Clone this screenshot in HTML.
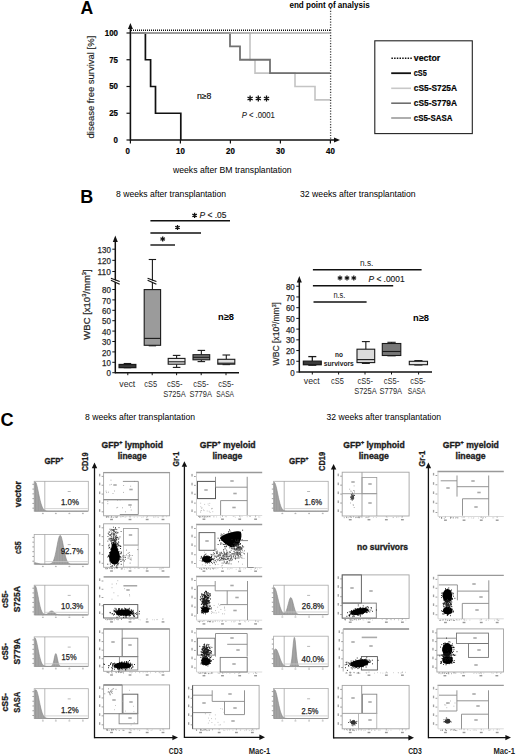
<!DOCTYPE html>
<html><head><meta charset="utf-8"><title>Figure</title>
<style>html,body{margin:0;padding:0;background:#fff;}body{width:520px;height:755px;overflow:hidden;font-family:"Liberation Sans", sans-serif;}svg{display:block;}</style>
</head><body>
<svg width="520" height="755" viewBox="0 0 520 755" font-family='"Liberation Sans", sans-serif'><defs><filter id="bl" x="-20%" y="-20%" width="140%" height="140%"><feGaussianBlur stdDeviation="0.5"/></filter><filter id="bl2" x="-20%" y="-20%" width="140%" height="140%"><feGaussianBlur stdDeviation="0.8"/></filter></defs><text x="80.6" y="13.8" font-size="17.6" font-weight="bold">A</text>
<text x="289.4" y="8" font-size="8.2" font-weight="bold" textLength="80.3" lengthAdjust="spacingAndGlyphs">end point of analysis</text>
<line x1="130.4" y1="27" x2="130.4" y2="140.7" stroke="#111" stroke-width="1.6"/>
<polygon points="130.4,23 127.9,29 132.9,29" fill="#111"/>
<line x1="130.4" y1="140" x2="334" y2="140" stroke="#111" stroke-width="1.6"/>
<polygon points="340,140 334,137.5 334,142.5" fill="#111"/>
<line x1="126.5" y1="140" x2="130.4" y2="140" stroke="#111" stroke-width="1.2"/>
<text x="118" y="142.9" font-size="8.2" stroke="#111" stroke-width="0.2" font-weight="bold" text-anchor="end" textLength="4.4" lengthAdjust="spacingAndGlyphs">0</text>
<line x1="126.5" y1="113.25" x2="130.4" y2="113.25" stroke="#111" stroke-width="1.2"/>
<text x="118" y="116.15" font-size="8.2" stroke="#111" stroke-width="0.2" font-weight="bold" text-anchor="end" textLength="8.8" lengthAdjust="spacingAndGlyphs">25</text>
<line x1="126.5" y1="86.5" x2="130.4" y2="86.5" stroke="#111" stroke-width="1.2"/>
<text x="118" y="89.4" font-size="8.2" stroke="#111" stroke-width="0.2" font-weight="bold" text-anchor="end" textLength="8.8" lengthAdjust="spacingAndGlyphs">50</text>
<line x1="126.5" y1="59.75" x2="130.4" y2="59.75" stroke="#111" stroke-width="1.2"/>
<text x="118" y="62.65" font-size="8.2" stroke="#111" stroke-width="0.2" font-weight="bold" text-anchor="end" textLength="8.8" lengthAdjust="spacingAndGlyphs">75</text>
<line x1="126.5" y1="33" x2="130.4" y2="33" stroke="#111" stroke-width="1.2"/>
<text x="118" y="35.9" font-size="8.2" stroke="#111" stroke-width="0.2" font-weight="bold" text-anchor="end" textLength="13.2" lengthAdjust="spacingAndGlyphs">100</text>
<line x1="130.4" y1="140" x2="130.4" y2="143.5" stroke="#111" stroke-width="1.2"/>
<text x="127.8" y="154" font-size="8.2" stroke="#111" stroke-width="0.2" font-weight="bold" text-anchor="middle" textLength="4.4" lengthAdjust="spacingAndGlyphs">0</text>
<line x1="180.4" y1="140" x2="180.4" y2="143.5" stroke="#111" stroke-width="1.2"/>
<text x="180.4" y="154" font-size="8.2" stroke="#111" stroke-width="0.2" font-weight="bold" text-anchor="middle" textLength="8.8" lengthAdjust="spacingAndGlyphs">10</text>
<line x1="230.4" y1="140" x2="230.4" y2="143.5" stroke="#111" stroke-width="1.2"/>
<text x="230.4" y="154" font-size="8.2" stroke="#111" stroke-width="0.2" font-weight="bold" text-anchor="middle" textLength="8.8" lengthAdjust="spacingAndGlyphs">20</text>
<line x1="280.4" y1="140" x2="280.4" y2="143.5" stroke="#111" stroke-width="1.2"/>
<text x="280.4" y="154" font-size="8.2" stroke="#111" stroke-width="0.2" font-weight="bold" text-anchor="middle" textLength="8.8" lengthAdjust="spacingAndGlyphs">30</text>
<line x1="330.4" y1="140" x2="330.4" y2="143.5" stroke="#111" stroke-width="1.2"/>
<text x="330.4" y="154" font-size="8.2" stroke="#111" stroke-width="0.2" font-weight="bold" text-anchor="middle" textLength="8.8" lengthAdjust="spacingAndGlyphs">40</text>
<text x="232.3" y="172.5" font-size="9" text-anchor="middle" textLength="118.6" lengthAdjust="spacingAndGlyphs">weeks after BM transplantation</text>
<text x="0" y="0" font-size="9.4" stroke="#1a1a1a" stroke-width="0.15" text-anchor="middle" textLength="102.8" lengthAdjust="spacingAndGlyphs" fill="#1a1a1a" transform="translate(93.8 87.1) rotate(-90)">disease free survival [%]</text>
<polyline points="131,33 250,33 250,59.75 255,59.75 255,73.12 295,73.12 295,86.5 315,86.5 315,99.88 330,99.88" fill="none" stroke="#c4c4c4" stroke-width="1.6"/>
<polyline points="131,33 230,33 230,46.38 240,46.38 240,59.75 270,59.75 270,73.12 330,73.12" fill="none" stroke="#727272" stroke-width="1.8"/>
<polyline points="131,33 145.4,33 145.4,59.75 150.6,59.75 150.6,86.5 155.5,86.5 155.5,113.25 180.8,113.25 180.8,140" fill="none" stroke="#111" stroke-width="1.7"/>
<line x1="131" y1="33" x2="330" y2="33" stroke="#aaaaaa" stroke-width="1.7"/>
<line x1="131" y1="30.3" x2="330" y2="30.3" stroke="#111" stroke-width="1.5" stroke-dasharray="1 1"/>
<line x1="330.6" y1="8" x2="330.6" y2="140" stroke="#444" stroke-width="1.3" stroke-dasharray="1.2 1.5"/>
<text x="204.2" y="99" font-size="8.4" stroke="#111" stroke-width="0.15" text-anchor="middle" textLength="14.4" lengthAdjust="spacingAndGlyphs">n&#8805;8</text>
<path d="M250.1 95.5L250.1 101.5M247.5 97L252.7 100M247.5 100L252.7 97" stroke="#111" stroke-width="1.35" fill="none"/>
<path d="M258.3 95.5L258.3 101.5M255.7 97L260.9 100M255.7 100L260.9 97" stroke="#111" stroke-width="1.35" fill="none"/>
<path d="M266.5 95.5L266.5 101.5M263.9 97L269.1 100M263.9 100L269.1 97" stroke="#111" stroke-width="1.35" fill="none"/>
<text x="241.7" y="118.2" font-size="8.5" stroke="#1a1a1a" stroke-width="0.1" textLength="33.2" lengthAdjust="spacingAndGlyphs" fill="#1a1a1a"><tspan font-style="italic">P</tspan> &lt; .0001</text>
<rect x="374.8" y="40.8" width="97.5" height="92.8" fill="none" stroke="#222" stroke-width="1.1"/>
<path d="M391.4 57.5h1.5v1.6h-1.5zM394.1 57.5h1.5v1.6h-1.5zM396.8 57.5h1.5v1.6h-1.5zM399.5 57.5h1.5v1.6h-1.5zM402.2 57.5h1.5v1.6h-1.5zM404.9 57.5h1.5v1.6h-1.5zM407.6 57.5h1.5v1.6h-1.5zM410.3 57.5h1.5v1.6h-1.5z" fill="#111"/>
<text x="413.8" y="60.9" font-size="9.2" stroke="#111" stroke-width="0.2" font-weight="bold" textLength="26.4" lengthAdjust="spacingAndGlyphs">vector</text>
<line x1="391.2" y1="73.2" x2="411" y2="73.2" stroke="#111" stroke-width="1.8"/>
<text x="413.8" y="75.8" font-size="9.2" stroke="#111" stroke-width="0.2" font-weight="bold" textLength="13" lengthAdjust="spacingAndGlyphs">cS5</text>
<line x1="391.2" y1="88.3" x2="411" y2="88.3" stroke="#c8c8c8" stroke-width="1.6"/>
<text x="413.8" y="90.9" font-size="9.2" stroke="#111" stroke-width="0.2" font-weight="bold" textLength="43.2" lengthAdjust="spacingAndGlyphs">cS5-S725A</text>
<line x1="391.2" y1="103.2" x2="411" y2="103.2" stroke="#6e6e6e" stroke-width="1.6"/>
<text x="413.8" y="105.8" font-size="9.2" stroke="#111" stroke-width="0.2" font-weight="bold" textLength="43.2" lengthAdjust="spacingAndGlyphs">cS5-S779A</text>
<line x1="391.2" y1="118" x2="411" y2="118" stroke="#9a9a9a" stroke-width="1.6"/>
<text x="413.8" y="120.6" font-size="9.2" stroke="#111" stroke-width="0.2" font-weight="bold" textLength="38.6" lengthAdjust="spacingAndGlyphs">cS5-SASA</text>
<text x="80.2" y="203" font-size="18" font-weight="bold">B</text>
<text x="116" y="197.2" font-size="8.6" textLength="110" lengthAdjust="spacingAndGlyphs">8 weeks after transplantation</text>
<text x="300" y="197.2" font-size="8.6" textLength="115.7" lengthAdjust="spacingAndGlyphs">32 weeks after transplantation</text>
<line x1="115.3" y1="240" x2="115.3" y2="373.4" stroke="#111" stroke-width="1.5"/>
<polygon points="115.3,235.5 112.8,242 117.8,242" fill="#111"/>
<line x1="115.3" y1="372.7" x2="239" y2="372.7" stroke="#111" stroke-width="1.5"/>
<line x1="112.3" y1="372.7" x2="115.3" y2="372.7" stroke="#111" stroke-width="1"/>
<text x="110.9" y="376.3" font-size="8.8" stroke="#2a2a2a" stroke-width="0.25" text-anchor="end" textLength="4.45" lengthAdjust="spacingAndGlyphs" fill="#2a2a2a">0</text>
<line x1="112.3" y1="362.3" x2="115.3" y2="362.3" stroke="#111" stroke-width="1"/>
<text x="110.9" y="365.9" font-size="8.8" stroke="#2a2a2a" stroke-width="0.25" text-anchor="end" textLength="8.9" lengthAdjust="spacingAndGlyphs" fill="#2a2a2a">10</text>
<line x1="112.3" y1="351.9" x2="115.3" y2="351.9" stroke="#111" stroke-width="1"/>
<text x="110.9" y="355.5" font-size="8.8" stroke="#2a2a2a" stroke-width="0.25" text-anchor="end" textLength="8.9" lengthAdjust="spacingAndGlyphs" fill="#2a2a2a">20</text>
<line x1="112.3" y1="341.5" x2="115.3" y2="341.5" stroke="#111" stroke-width="1"/>
<text x="110.9" y="345.1" font-size="8.8" stroke="#2a2a2a" stroke-width="0.25" text-anchor="end" textLength="8.9" lengthAdjust="spacingAndGlyphs" fill="#2a2a2a">30</text>
<line x1="112.3" y1="331.1" x2="115.3" y2="331.1" stroke="#111" stroke-width="1"/>
<text x="110.9" y="334.7" font-size="8.8" stroke="#2a2a2a" stroke-width="0.25" text-anchor="end" textLength="8.9" lengthAdjust="spacingAndGlyphs" fill="#2a2a2a">40</text>
<line x1="112.3" y1="320.7" x2="115.3" y2="320.7" stroke="#111" stroke-width="1"/>
<text x="110.9" y="324.3" font-size="8.8" stroke="#2a2a2a" stroke-width="0.25" text-anchor="end" textLength="8.9" lengthAdjust="spacingAndGlyphs" fill="#2a2a2a">50</text>
<line x1="112.3" y1="310.3" x2="115.3" y2="310.3" stroke="#111" stroke-width="1"/>
<text x="110.9" y="313.9" font-size="8.8" stroke="#2a2a2a" stroke-width="0.25" text-anchor="end" textLength="8.9" lengthAdjust="spacingAndGlyphs" fill="#2a2a2a">60</text>
<line x1="112.3" y1="299.9" x2="115.3" y2="299.9" stroke="#111" stroke-width="1"/>
<text x="110.9" y="303.5" font-size="8.8" stroke="#2a2a2a" stroke-width="0.25" text-anchor="end" textLength="8.9" lengthAdjust="spacingAndGlyphs" fill="#2a2a2a">70</text>
<line x1="112.3" y1="289.5" x2="115.3" y2="289.5" stroke="#111" stroke-width="1"/>
<text x="110.9" y="293.1" font-size="8.8" stroke="#2a2a2a" stroke-width="0.25" text-anchor="end" textLength="8.9" lengthAdjust="spacingAndGlyphs" fill="#2a2a2a">80</text>
<line x1="112.3" y1="271.5" x2="115.3" y2="271.5" stroke="#111" stroke-width="1"/>
<text x="110.9" y="275.1" font-size="8.8" stroke="#2a2a2a" stroke-width="0.25" text-anchor="end" textLength="13.35" lengthAdjust="spacingAndGlyphs" fill="#2a2a2a">110</text>
<line x1="112.3" y1="260.35" x2="115.3" y2="260.35" stroke="#111" stroke-width="1"/>
<text x="110.9" y="263.95" font-size="8.8" stroke="#2a2a2a" stroke-width="0.25" text-anchor="end" textLength="13.35" lengthAdjust="spacingAndGlyphs" fill="#2a2a2a">120</text>
<line x1="112.3" y1="249.2" x2="115.3" y2="249.2" stroke="#111" stroke-width="1"/>
<text x="110.9" y="252.8" font-size="8.8" stroke="#2a2a2a" stroke-width="0.25" text-anchor="end" textLength="13.35" lengthAdjust="spacingAndGlyphs" fill="#2a2a2a">130</text>
<polygon points="111,278.8 119.6,281.9 119.6,283.8 111,279.8" fill="#fff"/>
<line x1="110.9" y1="278.3" x2="119.7" y2="281.5" stroke="#111" stroke-width="1.15"/>
<line x1="110.9" y1="280.3" x2="119.7" y2="284.3" stroke="#111" stroke-width="1.15"/>
<text x="0" y="0" font-size="9" stroke="#2a2a2a" stroke-width="0.25" text-anchor="middle" textLength="70.3" lengthAdjust="spacingAndGlyphs" fill="#2a2a2a" transform="translate(89.6 304.5) rotate(-90)">WBC [x10<tspan font-size="5.4" dy="-3.4">3</tspan><tspan dy="3.4">/mm</tspan><tspan font-size="5.4" dy="-3.4">3</tspan><tspan dy="3.4">]</tspan></text>
<line x1="127.8" y1="372.7" x2="127.8" y2="375.2" stroke="#111" stroke-width="1"/>
<line x1="152.2" y1="372.7" x2="152.2" y2="375.2" stroke="#111" stroke-width="1"/>
<line x1="176.6" y1="372.7" x2="176.6" y2="375.2" stroke="#111" stroke-width="1"/>
<line x1="201.2" y1="372.7" x2="201.2" y2="375.2" stroke="#111" stroke-width="1"/>
<line x1="226" y1="372.7" x2="226" y2="375.2" stroke="#111" stroke-width="1"/>
<line x1="127.45" y1="363.6" x2="127.45" y2="364.5" stroke="#1a1a1a" stroke-width="1.3"/>
<line x1="127.45" y1="367.6" x2="127.45" y2="367.6" stroke="#1a1a1a" stroke-width="1.3"/>
<line x1="123.69" y1="363.6" x2="131.21" y2="363.6" stroke="#1a1a1a" stroke-width="1.3"/>
<line x1="123.69" y1="367.6" x2="131.21" y2="367.6" stroke="#1a1a1a" stroke-width="1.3"/>
<rect x="119.1" y="364.5" width="16.7" height="3.1" fill="#777" stroke="#1a1a1a" stroke-width="1.3"/>
<line x1="119.1" y1="366" x2="135.8" y2="366" stroke="#1a1a1a" stroke-width="1.3"/>
<line x1="152.4" y1="259.5" x2="152.4" y2="289.6" stroke="#1a1a1a" stroke-width="1.1"/>
<line x1="152.4" y1="345.3" x2="152.4" y2="345.8" stroke="#1a1a1a" stroke-width="1.1"/>
<line x1="148.71" y1="259.5" x2="156.09" y2="259.5" stroke="#1a1a1a" stroke-width="1.1"/>
<line x1="148.71" y1="345.8" x2="156.09" y2="345.8" stroke="#1a1a1a" stroke-width="1.1"/>
<rect x="144.2" y="289.6" width="16.4" height="55.7" fill="#9b9b9b" stroke="#1a1a1a" stroke-width="1.1"/>
<line x1="144.2" y1="338.4" x2="160.6" y2="338.4" stroke="#1a1a1a" stroke-width="1.1"/>
<polygon points="147.7,278.8 156.3,281.9 156.3,283.8 147.7,279.8" fill="#fff"/>
<line x1="147.6" y1="278.3" x2="156.4" y2="281.5" stroke="#111" stroke-width="1.15"/>
<line x1="147.6" y1="280.3" x2="156.4" y2="284.3" stroke="#111" stroke-width="1.15"/>
<line x1="176.6" y1="355.4" x2="176.6" y2="358.4" stroke="#1a1a1a" stroke-width="1.1"/>
<line x1="176.6" y1="364.2" x2="176.6" y2="367.4" stroke="#1a1a1a" stroke-width="1.1"/>
<line x1="172.82" y1="355.4" x2="180.38" y2="355.4" stroke="#1a1a1a" stroke-width="1.1"/>
<line x1="172.82" y1="367.4" x2="180.38" y2="367.4" stroke="#1a1a1a" stroke-width="1.1"/>
<rect x="168.2" y="358.4" width="16.8" height="5.8" fill="#e8e8e8" stroke="#1a1a1a" stroke-width="1.1"/>
<line x1="168.2" y1="361.8" x2="185" y2="361.8" stroke="#1a1a1a" stroke-width="1.1"/>
<line x1="201.35" y1="350.4" x2="201.35" y2="354.7" stroke="#1a1a1a" stroke-width="1.1"/>
<line x1="201.35" y1="359.8" x2="201.35" y2="361.6" stroke="#1a1a1a" stroke-width="1.1"/>
<line x1="197.59" y1="350.4" x2="205.11" y2="350.4" stroke="#1a1a1a" stroke-width="1.1"/>
<line x1="197.59" y1="361.6" x2="205.11" y2="361.6" stroke="#1a1a1a" stroke-width="1.1"/>
<rect x="193" y="354.7" width="16.7" height="5.1" fill="#7a7a7a" stroke="#1a1a1a" stroke-width="1.1"/>
<line x1="193" y1="357.3" x2="209.7" y2="357.3" stroke="#1a1a1a" stroke-width="1.1"/>
<line x1="226.3" y1="355" x2="226.3" y2="359.3" stroke="#1a1a1a" stroke-width="1.1"/>
<line x1="226.3" y1="364.2" x2="226.3" y2="364.6" stroke="#1a1a1a" stroke-width="1.1"/>
<line x1="222.48" y1="355" x2="230.12" y2="355" stroke="#1a1a1a" stroke-width="1.1"/>
<line x1="222.48" y1="364.6" x2="230.12" y2="364.6" stroke="#1a1a1a" stroke-width="1.1"/>
<rect x="217.8" y="359.3" width="17" height="4.9" fill="#e0e0e0" stroke="#1a1a1a" stroke-width="1.1"/>
<line x1="217.8" y1="363.2" x2="234.8" y2="363.2" stroke="#1a1a1a" stroke-width="1.1"/>
<text x="127.3" y="387.4" font-size="8.8" text-anchor="middle" textLength="16" lengthAdjust="spacingAndGlyphs" fill="#2a2a2a">vect</text>
<text x="150.7" y="387.4" font-size="8.8" text-anchor="middle" textLength="12.8" lengthAdjust="spacingAndGlyphs" fill="#2a2a2a">cS5</text>
<text x="174.7" y="387.4" font-size="8.8" text-anchor="middle" textLength="15.4" lengthAdjust="spacingAndGlyphs" fill="#2a2a2a">cS5-</text>
<text x="174.4" y="396.6" font-size="8.8" text-anchor="middle" textLength="22.5" lengthAdjust="spacingAndGlyphs" fill="#2a2a2a">S725A</text>
<text x="201" y="387.4" font-size="8.8" text-anchor="middle" textLength="15.4" lengthAdjust="spacingAndGlyphs" fill="#2a2a2a">cS5-</text>
<text x="200.7" y="396.6" font-size="8.8" text-anchor="middle" textLength="22.5" lengthAdjust="spacingAndGlyphs" fill="#2a2a2a">S779A</text>
<text x="226" y="387.4" font-size="8.8" text-anchor="middle" textLength="15.4" lengthAdjust="spacingAndGlyphs" fill="#2a2a2a">cS5-</text>
<text x="225.2" y="396.6" font-size="8.8" text-anchor="middle" textLength="17.7" lengthAdjust="spacingAndGlyphs" fill="#2a2a2a">SASA</text>
<text x="226" y="320" font-size="9.2" font-weight="bold" text-anchor="middle" textLength="16" lengthAdjust="spacingAndGlyphs">n&#8805;8</text>
<line x1="150.4" y1="220.8" x2="230" y2="220.8" stroke="#111" stroke-width="1.4"/>
<line x1="150.4" y1="233" x2="201" y2="233" stroke="#111" stroke-width="1.4"/>
<line x1="150.4" y1="245" x2="175" y2="245" stroke="#111" stroke-width="1.4"/>
<path d="M194.6 212.8L194.6 218M192.35 214.1L196.85 216.7M192.35 216.7L196.85 214.1" stroke="#111" stroke-width="1.3" fill="none"/>
<text x="199.6" y="218.2" font-size="8.5" stroke="#1a1a1a" stroke-width="0.15" textLength="26.9" lengthAdjust="spacingAndGlyphs" fill="#1a1a1a"><tspan font-style="italic">P</tspan> &lt; .05</text>
<path d="M177.5 224.9L177.5 230.1M175.25 226.2L179.75 228.8M175.25 228.8L179.75 226.2" stroke="#111" stroke-width="1.3" fill="none"/>
<path d="M162.7 236.4L162.7 241.6M160.45 237.7L164.95 240.3M160.45 240.3L164.95 237.7" stroke="#111" stroke-width="1.3" fill="none"/>
<line x1="299.3" y1="281" x2="299.3" y2="372.7" stroke="#111" stroke-width="1.5"/>
<polygon points="299.3,276 296.8,282.5 301.8,282.5" fill="#111"/>
<line x1="299.3" y1="372" x2="432" y2="372" stroke="#111" stroke-width="1.5"/>
<line x1="296.3" y1="372" x2="299.3" y2="372" stroke="#111" stroke-width="1"/>
<text x="294.8" y="375.6" font-size="8.8" stroke="#2a2a2a" stroke-width="0.25" text-anchor="end" textLength="4.45" lengthAdjust="spacingAndGlyphs" fill="#2a2a2a">0</text>
<line x1="296.3" y1="361.28" x2="299.3" y2="361.28" stroke="#111" stroke-width="1"/>
<text x="294.8" y="364.88" font-size="8.8" stroke="#2a2a2a" stroke-width="0.25" text-anchor="end" textLength="8.9" lengthAdjust="spacingAndGlyphs" fill="#2a2a2a">10</text>
<line x1="296.3" y1="350.56" x2="299.3" y2="350.56" stroke="#111" stroke-width="1"/>
<text x="294.8" y="354.16" font-size="8.8" stroke="#2a2a2a" stroke-width="0.25" text-anchor="end" textLength="8.9" lengthAdjust="spacingAndGlyphs" fill="#2a2a2a">20</text>
<line x1="296.3" y1="339.84" x2="299.3" y2="339.84" stroke="#111" stroke-width="1"/>
<text x="294.8" y="343.44" font-size="8.8" stroke="#2a2a2a" stroke-width="0.25" text-anchor="end" textLength="8.9" lengthAdjust="spacingAndGlyphs" fill="#2a2a2a">30</text>
<line x1="296.3" y1="329.12" x2="299.3" y2="329.12" stroke="#111" stroke-width="1"/>
<text x="294.8" y="332.72" font-size="8.8" stroke="#2a2a2a" stroke-width="0.25" text-anchor="end" textLength="8.9" lengthAdjust="spacingAndGlyphs" fill="#2a2a2a">40</text>
<line x1="296.3" y1="318.4" x2="299.3" y2="318.4" stroke="#111" stroke-width="1"/>
<text x="294.8" y="322" font-size="8.8" stroke="#2a2a2a" stroke-width="0.25" text-anchor="end" textLength="8.9" lengthAdjust="spacingAndGlyphs" fill="#2a2a2a">50</text>
<line x1="296.3" y1="307.68" x2="299.3" y2="307.68" stroke="#111" stroke-width="1"/>
<text x="294.8" y="311.28" font-size="8.8" stroke="#2a2a2a" stroke-width="0.25" text-anchor="end" textLength="8.9" lengthAdjust="spacingAndGlyphs" fill="#2a2a2a">60</text>
<line x1="296.3" y1="296.96" x2="299.3" y2="296.96" stroke="#111" stroke-width="1"/>
<text x="294.8" y="300.56" font-size="8.8" stroke="#2a2a2a" stroke-width="0.25" text-anchor="end" textLength="8.9" lengthAdjust="spacingAndGlyphs" fill="#2a2a2a">70</text>
<line x1="296.3" y1="286.24" x2="299.3" y2="286.24" stroke="#111" stroke-width="1"/>
<text x="294.8" y="289.84" font-size="8.8" stroke="#2a2a2a" stroke-width="0.25" text-anchor="end" textLength="8.9" lengthAdjust="spacingAndGlyphs" fill="#2a2a2a">80</text>
<text x="0" y="0" font-size="9.2" stroke="#2a2a2a" stroke-width="0.2" text-anchor="middle" textLength="63.4" lengthAdjust="spacingAndGlyphs" fill="#2a2a2a" transform="translate(279.2 333.7) rotate(-90)">WBC [x10<tspan font-size="5.6" dy="-3.5">3</tspan><tspan dy="3.5">/mm</tspan><tspan font-size="5.6" dy="-3.5">3</tspan><tspan dy="3.5">]</tspan></text>
<line x1="312.3" y1="372" x2="312.3" y2="374.5" stroke="#111" stroke-width="1"/>
<line x1="338.6" y1="372" x2="338.6" y2="374.5" stroke="#111" stroke-width="1"/>
<line x1="365" y1="372" x2="365" y2="374.5" stroke="#111" stroke-width="1"/>
<line x1="391.5" y1="372" x2="391.5" y2="374.5" stroke="#111" stroke-width="1"/>
<line x1="418.6" y1="372" x2="418.6" y2="374.5" stroke="#111" stroke-width="1"/>
<line x1="312.3" y1="356.6" x2="312.3" y2="361.2" stroke="#1a1a1a" stroke-width="1.3"/>
<line x1="312.3" y1="364.7" x2="312.3" y2="365.2" stroke="#1a1a1a" stroke-width="1.3"/>
<line x1="308.29" y1="356.6" x2="316.3" y2="356.6" stroke="#1a1a1a" stroke-width="1.3"/>
<line x1="308.29" y1="365.2" x2="316.3" y2="365.2" stroke="#1a1a1a" stroke-width="1.3"/>
<rect x="303.4" y="361.2" width="17.8" height="3.5" fill="#777" stroke="#1a1a1a" stroke-width="1.3"/>
<line x1="303.4" y1="363" x2="321.2" y2="363" stroke="#1a1a1a" stroke-width="1.3"/>
<line x1="365.85" y1="341.6" x2="365.85" y2="349.2" stroke="#1a1a1a" stroke-width="1.1"/>
<line x1="365.85" y1="362.6" x2="365.85" y2="363.4" stroke="#1a1a1a" stroke-width="1.1"/>
<line x1="361.87" y1="341.6" x2="369.83" y2="341.6" stroke="#1a1a1a" stroke-width="1.1"/>
<line x1="361.87" y1="363.4" x2="369.83" y2="363.4" stroke="#1a1a1a" stroke-width="1.1"/>
<rect x="357" y="349.2" width="17.7" height="13.4" fill="#dcdcdc" stroke="#1a1a1a" stroke-width="1.1"/>
<line x1="357" y1="359.6" x2="374.7" y2="359.6" stroke="#1a1a1a" stroke-width="1.1"/>
<line x1="391.55" y1="342.3" x2="391.55" y2="343.5" stroke="#1a1a1a" stroke-width="1.1"/>
<line x1="391.55" y1="355.5" x2="391.55" y2="355.8" stroke="#1a1a1a" stroke-width="1.1"/>
<line x1="387.39" y1="342.3" x2="395.71" y2="342.3" stroke="#1a1a1a" stroke-width="1.1"/>
<line x1="387.39" y1="355.8" x2="395.71" y2="355.8" stroke="#1a1a1a" stroke-width="1.1"/>
<rect x="382.3" y="343.5" width="18.5" height="12" fill="#777" stroke="#1a1a1a" stroke-width="1.1"/>
<line x1="382.3" y1="351.5" x2="400.8" y2="351.5" stroke="#1a1a1a" stroke-width="1.1"/>
<line x1="418.4" y1="360.6" x2="418.4" y2="361.3" stroke="#1a1a1a" stroke-width="1.1"/>
<line x1="418.4" y1="364.7" x2="418.4" y2="365" stroke="#1a1a1a" stroke-width="1.1"/>
<line x1="414.31" y1="360.6" x2="422.49" y2="360.6" stroke="#1a1a1a" stroke-width="1.1"/>
<line x1="414.31" y1="365" x2="422.49" y2="365" stroke="#1a1a1a" stroke-width="1.1"/>
<rect x="409.3" y="361.3" width="18.2" height="3.4" fill="#e4e4e4" stroke="#1a1a1a" stroke-width="1.1"/>
<text x="311.8" y="383.7" font-size="8.8" text-anchor="middle" textLength="16" lengthAdjust="spacingAndGlyphs" fill="#2a2a2a">vect</text>
<text x="337.5" y="383.7" font-size="8.8" text-anchor="middle" textLength="12.8" lengthAdjust="spacingAndGlyphs" fill="#2a2a2a">cS5</text>
<text x="365.3" y="383.7" font-size="8.8" text-anchor="middle" textLength="15.4" lengthAdjust="spacingAndGlyphs" fill="#2a2a2a">cS5-</text>
<text x="365.4" y="393.9" font-size="8.8" text-anchor="middle" textLength="22.5" lengthAdjust="spacingAndGlyphs" fill="#2a2a2a">S725A</text>
<text x="391.5" y="383.7" font-size="8.8" text-anchor="middle" textLength="15.4" lengthAdjust="spacingAndGlyphs" fill="#2a2a2a">cS5-</text>
<text x="390.8" y="393.9" font-size="8.8" text-anchor="middle" textLength="22.5" lengthAdjust="spacingAndGlyphs" fill="#2a2a2a">S779A</text>
<text x="417.9" y="383.7" font-size="8.8" text-anchor="middle" textLength="15.4" lengthAdjust="spacingAndGlyphs" fill="#2a2a2a">cS5-</text>
<text x="416.6" y="393.9" font-size="8.8" text-anchor="middle" textLength="17.7" lengthAdjust="spacingAndGlyphs" fill="#2a2a2a">SASA</text>
<text x="335" y="356.9" font-size="8" font-weight="bold" textLength="7.9" lengthAdjust="spacingAndGlyphs" fill="#222">no</text>
<text x="323.8" y="366.4" font-size="8" font-weight="bold" textLength="30" lengthAdjust="spacingAndGlyphs" fill="#222">survivors</text>
<text x="421" y="320.5" font-size="9.2" font-weight="bold" text-anchor="middle" textLength="16" lengthAdjust="spacingAndGlyphs">n&#8805;8</text>
<line x1="312.9" y1="269.7" x2="421.6" y2="269.7" stroke="#111" stroke-width="1.4"/>
<line x1="312.9" y1="285.8" x2="393.2" y2="285.8" stroke="#111" stroke-width="1.4"/>
<line x1="313.5" y1="302" x2="366.6" y2="302" stroke="#111" stroke-width="1.4"/>
<text x="360" y="265.7" font-size="8.3" textLength="13.4" lengthAdjust="spacingAndGlyphs" fill="#222">n.s.</text>
<text x="333.4" y="298.3" font-size="8.3" textLength="12" lengthAdjust="spacingAndGlyphs" fill="#222">n.s.</text>
<path d="M340 275.4L340 280.6M337.75 276.7L342.25 279.3M337.75 279.3L342.25 276.7" stroke="#111" stroke-width="1.2" fill="none"/>
<path d="M347 275.4L347 280.6M344.75 276.7L349.25 279.3M344.75 279.3L349.25 276.7" stroke="#111" stroke-width="1.2" fill="none"/>
<path d="M353.8 275.4L353.8 280.6M351.55 276.7L356.05 279.3M351.55 279.3L356.05 276.7" stroke="#111" stroke-width="1.2" fill="none"/>
<text x="368.5" y="281.8" font-size="8.8" stroke="#1a1a1a" stroke-width="0.15" textLength="36.1" lengthAdjust="spacingAndGlyphs" fill="#1a1a1a"><tspan font-style="italic">P</tspan> &lt; .0001</text>
<text x="0.6" y="426.3" font-size="18.2" font-weight="bold">C</text>
<text x="85" y="419.6" font-size="8.6" textLength="110" lengthAdjust="spacingAndGlyphs">8 weeks after transplantation</text>
<text x="326.5" y="419.6" font-size="8.6" textLength="114.5" lengthAdjust="spacingAndGlyphs">32 weeks after transplantation</text>
<text x="44.4" y="463.8" font-size="9.4" stroke="#1c1c1c" stroke-width="0.35" font-weight="bold" textLength="18.9" lengthAdjust="spacingAndGlyphs" fill="#1c1c1c">GFP<tspan font-size="5.83" dy="-3.6">+</tspan></text>
<text x="101.6" y="447.7" font-size="9.4" stroke="#1c1c1c" stroke-width="0.35" font-weight="bold" textLength="61.4" lengthAdjust="spacingAndGlyphs" fill="#1c1c1c">GFP<tspan font-size="5.83" dy="-3.6">+</tspan><tspan dy="3.6"> lymphoid</tspan></text>
<text x="132.2" y="458.7" font-size="9.4" stroke="#1c1c1c" stroke-width="0.35" font-weight="bold" text-anchor="middle" textLength="28.9" lengthAdjust="spacingAndGlyphs" fill="#1c1c1c">lineage</text>
<text x="199.8" y="447.7" font-size="9.4" stroke="#1c1c1c" stroke-width="0.35" font-weight="bold" textLength="55.8" lengthAdjust="spacingAndGlyphs" fill="#1c1c1c">GFP<tspan font-size="5.83" dy="-3.6">+</tspan><tspan dy="3.6"> myeloid</tspan></text>
<text x="227.4" y="458.7" font-size="9.4" stroke="#1c1c1c" stroke-width="0.35" font-weight="bold" text-anchor="middle" textLength="29.9" lengthAdjust="spacingAndGlyphs" fill="#1c1c1c">lineage</text>
<text x="289" y="463.8" font-size="9.4" stroke="#1c1c1c" stroke-width="0.35" font-weight="bold" textLength="19.4" lengthAdjust="spacingAndGlyphs" fill="#1c1c1c">GFP<tspan font-size="5.83" dy="-3.6">+</tspan></text>
<text x="343.3" y="447.7" font-size="9.4" stroke="#1c1c1c" stroke-width="0.35" font-weight="bold" textLength="61.4" lengthAdjust="spacingAndGlyphs" fill="#1c1c1c">GFP<tspan font-size="5.83" dy="-3.6">+</tspan><tspan dy="3.6"> lymphoid</tspan></text>
<text x="373.8" y="458.7" font-size="9.4" stroke="#1c1c1c" stroke-width="0.35" font-weight="bold" text-anchor="middle" textLength="30.3" lengthAdjust="spacingAndGlyphs" fill="#1c1c1c">lineage</text>
<text x="442.8" y="447.7" font-size="9.4" stroke="#1c1c1c" stroke-width="0.35" font-weight="bold" textLength="56.1" lengthAdjust="spacingAndGlyphs" fill="#1c1c1c">GFP<tspan font-size="5.83" dy="-3.6">+</tspan><tspan dy="3.6"> myeloid</tspan></text>
<text x="470.6" y="458.7" font-size="9.4" stroke="#1c1c1c" stroke-width="0.35" font-weight="bold" text-anchor="middle" textLength="30.2" lengthAdjust="spacingAndGlyphs" fill="#1c1c1c">lineage</text>
<text x="0" y="0" font-size="9" stroke="#1c1c1c" stroke-width="0.3" font-weight="bold" text-anchor="middle" textLength="18.7" lengthAdjust="spacingAndGlyphs" fill="#1c1c1c" transform="translate(88.1 461.9) rotate(-90)">CD19</text>
<text x="0" y="0" font-size="9" stroke="#1c1c1c" stroke-width="0.3" font-weight="bold" text-anchor="middle" textLength="14.7" lengthAdjust="spacingAndGlyphs" fill="#1c1c1c" transform="translate(179 459.2) rotate(-90)">Gr-1</text>
<text x="0" y="0" font-size="9" stroke="#1c1c1c" stroke-width="0.3" font-weight="bold" text-anchor="middle" textLength="19.1" lengthAdjust="spacingAndGlyphs" fill="#1c1c1c" transform="translate(325.4 461.4) rotate(-90)">CD19</text>
<text x="0" y="0" font-size="9" stroke="#1c1c1c" stroke-width="0.3" font-weight="bold" text-anchor="middle" textLength="16" lengthAdjust="spacingAndGlyphs" fill="#1c1c1c" transform="translate(424.8 458.7) rotate(-90)">Gr-1</text>
<text x="175.6" y="754.4" font-size="9" font-weight="bold" text-anchor="middle" textLength="13.7" lengthAdjust="spacingAndGlyphs" fill="#1c1c1c">CD3</text>
<text x="259.5" y="754.4" font-size="9" font-weight="bold" text-anchor="middle" textLength="21.5" lengthAdjust="spacingAndGlyphs" fill="#1c1c1c">Mac-1</text>
<text x="415" y="754.4" font-size="9" font-weight="bold" text-anchor="middle" textLength="13.7" lengthAdjust="spacingAndGlyphs" fill="#1c1c1c">CD3</text>
<text x="504.2" y="754.4" font-size="9" font-weight="bold" text-anchor="middle" textLength="21.5" lengthAdjust="spacingAndGlyphs" fill="#1c1c1c">Mac-1</text>
<line x1="94.5" y1="467.6" x2="94.5" y2="738.2" stroke="#111" stroke-width="1.3"/>
<polygon points="94.5,462.6 91.8,468.2 97.2,468.2" fill="#111"/>
<line x1="94.5" y1="737.6" x2="173" y2="737.6" stroke="#111" stroke-width="1.3"/>
<polygon points="178,737.6 172.4,734.9 172.4,740.3" fill="#111"/>
<line x1="184.4" y1="466.2" x2="184.4" y2="737.9" stroke="#111" stroke-width="1.3"/>
<polygon points="184.4,461.2 181.7,466.8 187.1,466.8" fill="#111"/>
<line x1="184.4" y1="737.3" x2="260" y2="737.3" stroke="#111" stroke-width="1.3"/>
<polygon points="265,737.3 259.4,734.6 259.4,740" fill="#111"/>
<line x1="333.6" y1="469" x2="333.6" y2="738.4" stroke="#111" stroke-width="1.3"/>
<polygon points="333.6,464 330.9,469.6 336.3,469.6" fill="#111"/>
<line x1="333.6" y1="737.8" x2="409" y2="737.8" stroke="#111" stroke-width="1.3"/>
<polygon points="414,737.8 408.4,735.1 408.4,740.5" fill="#111"/>
<line x1="428.4" y1="467.6" x2="428.4" y2="738.2" stroke="#111" stroke-width="1.3"/>
<polygon points="428.4,462.6 425.7,468.2 431.1,468.2" fill="#111"/>
<line x1="428.4" y1="737.6" x2="506" y2="737.6" stroke="#111" stroke-width="1.3"/>
<polygon points="511,737.6 505.4,734.9 505.4,740.3" fill="#111"/>
<text x="0" y="0" font-size="9.6" stroke="#1c1c1c" stroke-width="0.3" font-weight="bold" text-anchor="middle" textLength="26.2" lengthAdjust="spacingAndGlyphs" fill="#1c1c1c" transform="translate(20.7 494.1) rotate(-90)">vector</text>
<text x="0" y="0" font-size="9.6" stroke="#1c1c1c" stroke-width="0.3" font-weight="bold" text-anchor="middle" textLength="12.7" lengthAdjust="spacingAndGlyphs" fill="#1c1c1c" transform="translate(20.7 547.6) rotate(-90)">cS5</text>
<text x="0" y="0" font-size="9.6" stroke="#1c1c1c" stroke-width="0.3" font-weight="bold" text-anchor="middle" textLength="17.2" lengthAdjust="spacingAndGlyphs" fill="#1c1c1c" transform="translate(7.9 599.1) rotate(-90)">cS5-</text>
<text x="0" y="0" font-size="9.6" stroke="#1c1c1c" stroke-width="0.3" font-weight="bold" text-anchor="middle" textLength="26.2" lengthAdjust="spacingAndGlyphs" fill="#1c1c1c" transform="translate(20.2 599.1) rotate(-90)">S725A</text>
<text x="0" y="0" font-size="9.6" stroke="#1c1c1c" stroke-width="0.3" font-weight="bold" text-anchor="middle" textLength="16.7" lengthAdjust="spacingAndGlyphs" fill="#1c1c1c" transform="translate(7.9 651.5) rotate(-90)">cS5-</text>
<text x="0" y="0" font-size="9.6" stroke="#1c1c1c" stroke-width="0.3" font-weight="bold" text-anchor="middle" textLength="26.2" lengthAdjust="spacingAndGlyphs" fill="#1c1c1c" transform="translate(20.2 651.5) rotate(-90)">S779A</text>
<text x="0" y="0" font-size="9.6" stroke="#1c1c1c" stroke-width="0.3" font-weight="bold" text-anchor="middle" textLength="18.4" lengthAdjust="spacingAndGlyphs" fill="#1c1c1c" transform="translate(7.9 702.3) rotate(-90)">cS5-</text>
<text x="0" y="0" font-size="9.6" stroke="#1c1c1c" stroke-width="0.3" font-weight="bold" text-anchor="middle" textLength="20.8" lengthAdjust="spacingAndGlyphs" fill="#1c1c1c" transform="translate(20.2 702.3) rotate(-90)">SASA</text>
<rect x="34.2" y="481.3" width="54.1" height="29.9" fill="#fff" stroke="#a8a8a8" stroke-width="0.8"/>
<polygon points="34.7,511.2 34.7,482.3 35.19,482.3 35.68,482.3 36.18,483.06 36.67,484.66 37.16,486.58 37.65,488.75 38.14,491.06 38.63,493.44 39.12,495.8 39.62,498.06 40.11,500.18 40.6,502.11 41.09,503.83 41.58,505.32 42.08,506.59 42.57,507.64 43.06,508.5 43.55,509.18 44.04,509.72 44.53,510.13 45.03,510.44 45.52,510.67 46.01,510.84 46.5,510.96 46.99,511.04 47.48,511.09 47.98,511.13 48.47,511.16 48.96,511.17 49.45,511.18 49.94,511.19 50.43,511.19 50.92,511.2 51.42,511.2 51.91,511.2 52.4,511.2 52.89,511.2 53.38,511.2 53.88,511.2 54.37,511.2 54.86,511.2 55.35,511.2 55.84,511.2 56.33,511.2 56.83,511.2 57.32,511.2 57.81,511.2 58.3,511.2 58.79,511.2 59.28,511.2 59.78,511.2 60.27,511.2 60.76,511.2 61.25,511.2 61.74,511.2 62.23,511.2 62.73,511.2 63.22,511.2 63.71,511.2 64.2,511.2 64.69,511.2 65.18,511.2 65.67,511.2 66.17,511.2 66.66,511.2 67.15,511.2 67.64,511.2 68.13,511.2 68.62,511.2 69.12,511.2 69.61,511.2 70.1,511.2 70.59,511.2 71.08,511.2 71.57,511.2 72.07,511.2 72.56,511.2 73.05,511.2 73.54,511.2 74.03,511.2 74.53,511.2 75.02,511.2 75.51,511.2 76,511.2 76.49,511.2 76.98,511.2 77.47,511.2 77.97,511.2 78.46,511.2 78.95,511.2 79.44,511.2 79.93,511.2 80.42,511.2 80.92,511.2 81.41,511.2 81.9,511.2 82.39,511.2 82.88,511.2 83.38,511.2 83.87,511.2 84.36,511.2 84.85,511.2 85.34,511.2 85.83,511.2 86.32,511.2 86.82,511.2 87.31,511.2 87.8,511.2 87.8,511.2" fill="#ababab" stroke="#8c8c8c" stroke-width="0.6"/>
<clipPath id="hc255"><polygon points="34.7,511.2 34.7,482.3 35.19,482.3 35.68,482.3 36.18,483.06 36.67,484.66 37.16,486.58 37.65,488.75 38.14,491.06 38.63,493.44 39.12,495.8 39.62,498.06 40.11,500.18 40.6,502.11 41.09,503.83 41.58,505.32 42.08,506.59 42.57,507.64 43.06,508.5 43.55,509.18 44.04,509.72 44.53,510.13 45.03,510.44 45.52,510.67 46.01,510.84 46.5,510.96 46.99,511.04 47.48,511.09 47.98,511.13 48.47,511.16 48.96,511.17 49.45,511.18 49.94,511.19 50.43,511.19 50.92,511.2 51.42,511.2 51.91,511.2 52.4,511.2 52.89,511.2 53.38,511.2 53.88,511.2 54.37,511.2 54.86,511.2 55.35,511.2 55.84,511.2 56.33,511.2 56.83,511.2 57.32,511.2 57.81,511.2 58.3,511.2 58.79,511.2 59.28,511.2 59.78,511.2 60.27,511.2 60.76,511.2 61.25,511.2 61.74,511.2 62.23,511.2 62.73,511.2 63.22,511.2 63.71,511.2 64.2,511.2 64.69,511.2 65.18,511.2 65.67,511.2 66.17,511.2 66.66,511.2 67.15,511.2 67.64,511.2 68.13,511.2 68.62,511.2 69.12,511.2 69.61,511.2 70.1,511.2 70.59,511.2 71.08,511.2 71.57,511.2 72.07,511.2 72.56,511.2 73.05,511.2 73.54,511.2 74.03,511.2 74.53,511.2 75.02,511.2 75.51,511.2 76,511.2 76.49,511.2 76.98,511.2 77.47,511.2 77.97,511.2 78.46,511.2 78.95,511.2 79.44,511.2 79.93,511.2 80.42,511.2 80.92,511.2 81.41,511.2 81.9,511.2 82.39,511.2 82.88,511.2 83.38,511.2 83.87,511.2 84.36,511.2 84.85,511.2 85.34,511.2 85.83,511.2 86.32,511.2 86.82,511.2 87.31,511.2 87.8,511.2 87.8,511.2"/></clipPath>
<path d="M35.4 481.3V511.2M37 481.3V511.2M38.6 481.3V511.2M40.2 481.3V511.2M41.8 481.3V511.2M43.4 481.3V511.2M45 481.3V511.2M46.6 481.3V511.2M48.2 481.3V511.2M49.8 481.3V511.2M51.4 481.3V511.2M53 481.3V511.2M54.6 481.3V511.2M56.2 481.3V511.2M57.8 481.3V511.2M59.4 481.3V511.2M61 481.3V511.2M62.6 481.3V511.2M64.2 481.3V511.2M65.8 481.3V511.2M67.4 481.3V511.2M69 481.3V511.2M70.6 481.3V511.2M72.2 481.3V511.2M73.8 481.3V511.2M75.4 481.3V511.2M77 481.3V511.2M78.6 481.3V511.2M80.2 481.3V511.2M81.8 481.3V511.2M83.4 481.3V511.2M85 481.3V511.2M86.6 481.3V511.2" stroke="#8a8a8a" stroke-width="0.5" clip-path="url(#hc255)"/>
<line x1="44.8" y1="481.3" x2="44.8" y2="511.2" stroke="#9a9a9a" stroke-width="0.7"/>
<line x1="44.8" y1="508.6" x2="87.8" y2="508.6" stroke="#c8c8c8" stroke-width="0.8"/>
<line x1="67.7" y1="491.5" x2="70.7" y2="491.5" stroke="#999" stroke-width="0.7"/>
<text x="61" y="505.3" font-size="8.8" stroke="#1e1e1e" stroke-width="0.25" textLength="17.9" lengthAdjust="spacingAndGlyphs" fill="#1e1e1e">1.0%</text>
<line x1="32.4" y1="484.3" x2="34" y2="484.3" stroke="#888" stroke-width="0.8"/>
<line x1="32.4" y1="489.08" x2="34" y2="489.08" stroke="#888" stroke-width="0.8"/>
<line x1="32.4" y1="493.86" x2="34" y2="493.86" stroke="#888" stroke-width="0.8"/>
<line x1="32.4" y1="498.64" x2="34" y2="498.64" stroke="#888" stroke-width="0.8"/>
<line x1="32.4" y1="503.42" x2="34" y2="503.42" stroke="#888" stroke-width="0.8"/>
<line x1="32.4" y1="508.2" x2="34" y2="508.2" stroke="#888" stroke-width="0.8"/>
<line x1="41.96" y1="513.6" x2="43.76" y2="513.6" stroke="#999" stroke-width="0.8"/>
<line x1="42.86" y1="511.2" x2="42.86" y2="512.4" stroke="#aaa" stroke-width="0.6"/>
<line x1="54.94" y1="513.6" x2="56.74" y2="513.6" stroke="#999" stroke-width="0.8"/>
<line x1="55.84" y1="511.2" x2="55.84" y2="512.4" stroke="#aaa" stroke-width="0.6"/>
<line x1="68.47" y1="513.6" x2="70.27" y2="513.6" stroke="#999" stroke-width="0.8"/>
<line x1="69.37" y1="511.2" x2="69.37" y2="512.4" stroke="#aaa" stroke-width="0.6"/>
<line x1="81.99" y1="513.6" x2="83.79" y2="513.6" stroke="#999" stroke-width="0.8"/>
<line x1="82.89" y1="511.2" x2="82.89" y2="512.4" stroke="#aaa" stroke-width="0.6"/>
<rect x="34.2" y="534.4" width="54.1" height="29.8" fill="#fff" stroke="#a8a8a8" stroke-width="0.8"/>
<polygon points="34.7,564.2 34.7,562.76 35.19,562.78 35.68,562.84 36.18,562.92 36.67,563.04 37.16,563.17 37.65,563.31 38.14,563.45 38.63,563.59 39.12,563.71 39.62,563.82 40.11,563.92 40.6,563.99 41.09,564.05 41.58,564.1 42.08,564.13 42.57,564.15 43.06,564.17 43.55,564.18 44.04,564.19 44.53,564.19 45.03,564.2 45.52,564.2 46.01,564.2 46.5,564.19 46.99,564.19 47.48,564.18 47.98,564.17 48.47,564.15 48.96,564.11 49.45,564.06 49.94,563.97 50.43,563.84 50.92,563.65 51.42,563.37 51.91,562.97 52.4,562.44 52.89,561.72 53.38,560.79 53.88,559.61 54.37,558.16 54.86,556.43 55.35,554.42 55.84,552.16 56.33,549.7 56.83,547.13 57.32,544.54 57.81,542.05 58.3,539.8 58.79,537.91 59.28,536.49 59.78,535.64 60.27,535.41 60.76,535.81 61.25,536.82 61.74,538.38 62.23,540.38 62.73,542.71 63.22,545.24 63.71,547.83 64.2,550.38 64.69,552.79 65.18,554.99 65.67,556.93 66.17,558.58 66.66,559.96 67.15,561.06 67.64,561.93 68.13,562.6 68.62,563.09 69.12,563.45 69.61,563.71 70.1,563.88 70.59,564 71.08,564.07 71.57,564.12 72.07,564.16 72.56,564.17 73.05,564.19 73.54,564.19 74.03,564.2 74.53,564.2 75.02,564.2 75.51,564.2 76,564.2 76.49,564.2 76.98,564.2 77.47,564.2 77.97,564.2 78.46,564.2 78.95,564.2 79.44,564.2 79.93,564.2 80.42,564.2 80.92,564.2 81.41,564.2 81.9,564.2 82.39,564.2 82.88,564.2 83.38,564.2 83.87,564.2 84.36,564.2 84.85,564.2 85.34,564.2 85.83,564.2 86.32,564.2 86.82,564.2 87.31,564.2 87.8,564.2 87.8,564.2" fill="#ababab" stroke="#8c8c8c" stroke-width="0.6"/>
<clipPath id="hc277"><polygon points="34.7,564.2 34.7,562.76 35.19,562.78 35.68,562.84 36.18,562.92 36.67,563.04 37.16,563.17 37.65,563.31 38.14,563.45 38.63,563.59 39.12,563.71 39.62,563.82 40.11,563.92 40.6,563.99 41.09,564.05 41.58,564.1 42.08,564.13 42.57,564.15 43.06,564.17 43.55,564.18 44.04,564.19 44.53,564.19 45.03,564.2 45.52,564.2 46.01,564.2 46.5,564.19 46.99,564.19 47.48,564.18 47.98,564.17 48.47,564.15 48.96,564.11 49.45,564.06 49.94,563.97 50.43,563.84 50.92,563.65 51.42,563.37 51.91,562.97 52.4,562.44 52.89,561.72 53.38,560.79 53.88,559.61 54.37,558.16 54.86,556.43 55.35,554.42 55.84,552.16 56.33,549.7 56.83,547.13 57.32,544.54 57.81,542.05 58.3,539.8 58.79,537.91 59.28,536.49 59.78,535.64 60.27,535.41 60.76,535.81 61.25,536.82 61.74,538.38 62.23,540.38 62.73,542.71 63.22,545.24 63.71,547.83 64.2,550.38 64.69,552.79 65.18,554.99 65.67,556.93 66.17,558.58 66.66,559.96 67.15,561.06 67.64,561.93 68.13,562.6 68.62,563.09 69.12,563.45 69.61,563.71 70.1,563.88 70.59,564 71.08,564.07 71.57,564.12 72.07,564.16 72.56,564.17 73.05,564.19 73.54,564.19 74.03,564.2 74.53,564.2 75.02,564.2 75.51,564.2 76,564.2 76.49,564.2 76.98,564.2 77.47,564.2 77.97,564.2 78.46,564.2 78.95,564.2 79.44,564.2 79.93,564.2 80.42,564.2 80.92,564.2 81.41,564.2 81.9,564.2 82.39,564.2 82.88,564.2 83.38,564.2 83.87,564.2 84.36,564.2 84.85,564.2 85.34,564.2 85.83,564.2 86.32,564.2 86.82,564.2 87.31,564.2 87.8,564.2 87.8,564.2"/></clipPath>
<path d="M35.4 534.4V564.2M37 534.4V564.2M38.6 534.4V564.2M40.2 534.4V564.2M41.8 534.4V564.2M43.4 534.4V564.2M45 534.4V564.2M46.6 534.4V564.2M48.2 534.4V564.2M49.8 534.4V564.2M51.4 534.4V564.2M53 534.4V564.2M54.6 534.4V564.2M56.2 534.4V564.2M57.8 534.4V564.2M59.4 534.4V564.2M61 534.4V564.2M62.6 534.4V564.2M64.2 534.4V564.2M65.8 534.4V564.2M67.4 534.4V564.2M69 534.4V564.2M70.6 534.4V564.2M72.2 534.4V564.2M73.8 534.4V564.2M75.4 534.4V564.2M77 534.4V564.2M78.6 534.4V564.2M80.2 534.4V564.2M81.8 534.4V564.2M83.4 534.4V564.2M85 534.4V564.2M86.6 534.4V564.2" stroke="#8a8a8a" stroke-width="0.5" clip-path="url(#hc277)"/>
<line x1="44.8" y1="534.4" x2="44.8" y2="564.2" stroke="#9a9a9a" stroke-width="0.7"/>
<line x1="44.8" y1="561.6" x2="87.8" y2="561.6" stroke="#c8c8c8" stroke-width="0.8"/>
<line x1="67.7" y1="544.6" x2="70.7" y2="544.6" stroke="#999" stroke-width="0.7"/>
<text x="60.7" y="554.4" font-size="8.8" stroke="#1e1e1e" stroke-width="0.25" textLength="22.5" lengthAdjust="spacingAndGlyphs" fill="#1e1e1e">92.7%</text>
<line x1="32.4" y1="537.4" x2="34" y2="537.4" stroke="#888" stroke-width="0.8"/>
<line x1="32.4" y1="542.16" x2="34" y2="542.16" stroke="#888" stroke-width="0.8"/>
<line x1="32.4" y1="546.92" x2="34" y2="546.92" stroke="#888" stroke-width="0.8"/>
<line x1="32.4" y1="551.68" x2="34" y2="551.68" stroke="#888" stroke-width="0.8"/>
<line x1="32.4" y1="556.44" x2="34" y2="556.44" stroke="#888" stroke-width="0.8"/>
<line x1="32.4" y1="561.2" x2="34" y2="561.2" stroke="#888" stroke-width="0.8"/>
<line x1="41.96" y1="566.6" x2="43.76" y2="566.6" stroke="#999" stroke-width="0.8"/>
<line x1="42.86" y1="564.2" x2="42.86" y2="565.4" stroke="#aaa" stroke-width="0.6"/>
<line x1="54.94" y1="566.6" x2="56.74" y2="566.6" stroke="#999" stroke-width="0.8"/>
<line x1="55.84" y1="564.2" x2="55.84" y2="565.4" stroke="#aaa" stroke-width="0.6"/>
<line x1="68.47" y1="566.6" x2="70.27" y2="566.6" stroke="#999" stroke-width="0.8"/>
<line x1="69.37" y1="564.2" x2="69.37" y2="565.4" stroke="#aaa" stroke-width="0.6"/>
<line x1="81.99" y1="566.6" x2="83.79" y2="566.6" stroke="#999" stroke-width="0.8"/>
<line x1="82.89" y1="564.2" x2="82.89" y2="565.4" stroke="#aaa" stroke-width="0.6"/>
<rect x="34.2" y="585.2" width="54.1" height="29.7" fill="#fff" stroke="#a8a8a8" stroke-width="0.8"/>
<polygon points="34.7,614.9 34.7,586.2 35.19,586.2 35.68,586.2 36.18,587.47 36.67,589.41 37.16,591.7 37.65,594.22 38.14,596.85 38.63,599.47 39.12,601.98 39.62,604.31 40.11,606.4 40.6,608.21 41.09,609.75 41.58,611.02 42.08,612.03 42.57,612.82 43.06,613.41 43.55,613.85 44.04,614.15 44.53,614.34 45.03,614.44 45.52,614.45 46.01,614.38 46.5,614.24 46.99,614.02 47.48,613.73 47.98,613.37 48.47,612.95 48.96,612.5 49.45,612.04 49.94,611.62 50.43,611.27 50.92,611.01 51.42,610.89 51.91,610.91 52.4,611.07 52.89,611.35 53.38,611.72 53.88,612.16 54.37,612.62 54.86,613.07 55.35,613.48 55.84,613.84 56.33,614.13 56.83,614.37 57.32,614.54 57.81,614.67 58.3,614.75 58.79,614.81 59.28,614.85 59.78,614.87 60.27,614.88 60.76,614.89 61.25,614.9 61.74,614.9 62.23,614.9 62.73,614.9 63.22,614.9 63.71,614.9 64.2,614.9 64.69,614.9 65.18,614.9 65.67,614.9 66.17,614.9 66.66,614.9 67.15,614.9 67.64,614.9 68.13,614.9 68.62,614.9 69.12,614.9 69.61,614.9 70.1,614.9 70.59,614.9 71.08,614.9 71.57,614.9 72.07,614.9 72.56,614.9 73.05,614.9 73.54,614.9 74.03,614.9 74.53,614.9 75.02,614.9 75.51,614.9 76,614.9 76.49,614.9 76.98,614.9 77.47,614.9 77.97,614.9 78.46,614.9 78.95,614.9 79.44,614.9 79.93,614.9 80.42,614.9 80.92,614.9 81.41,614.9 81.9,614.9 82.39,614.9 82.88,614.9 83.38,614.9 83.87,614.9 84.36,614.9 84.85,614.9 85.34,614.9 85.83,614.9 86.32,614.9 86.82,614.9 87.31,614.9 87.8,614.9 87.8,614.9" fill="#ababab" stroke="#8c8c8c" stroke-width="0.6"/>
<clipPath id="hc299"><polygon points="34.7,614.9 34.7,586.2 35.19,586.2 35.68,586.2 36.18,587.47 36.67,589.41 37.16,591.7 37.65,594.22 38.14,596.85 38.63,599.47 39.12,601.98 39.62,604.31 40.11,606.4 40.6,608.21 41.09,609.75 41.58,611.02 42.08,612.03 42.57,612.82 43.06,613.41 43.55,613.85 44.04,614.15 44.53,614.34 45.03,614.44 45.52,614.45 46.01,614.38 46.5,614.24 46.99,614.02 47.48,613.73 47.98,613.37 48.47,612.95 48.96,612.5 49.45,612.04 49.94,611.62 50.43,611.27 50.92,611.01 51.42,610.89 51.91,610.91 52.4,611.07 52.89,611.35 53.38,611.72 53.88,612.16 54.37,612.62 54.86,613.07 55.35,613.48 55.84,613.84 56.33,614.13 56.83,614.37 57.32,614.54 57.81,614.67 58.3,614.75 58.79,614.81 59.28,614.85 59.78,614.87 60.27,614.88 60.76,614.89 61.25,614.9 61.74,614.9 62.23,614.9 62.73,614.9 63.22,614.9 63.71,614.9 64.2,614.9 64.69,614.9 65.18,614.9 65.67,614.9 66.17,614.9 66.66,614.9 67.15,614.9 67.64,614.9 68.13,614.9 68.62,614.9 69.12,614.9 69.61,614.9 70.1,614.9 70.59,614.9 71.08,614.9 71.57,614.9 72.07,614.9 72.56,614.9 73.05,614.9 73.54,614.9 74.03,614.9 74.53,614.9 75.02,614.9 75.51,614.9 76,614.9 76.49,614.9 76.98,614.9 77.47,614.9 77.97,614.9 78.46,614.9 78.95,614.9 79.44,614.9 79.93,614.9 80.42,614.9 80.92,614.9 81.41,614.9 81.9,614.9 82.39,614.9 82.88,614.9 83.38,614.9 83.87,614.9 84.36,614.9 84.85,614.9 85.34,614.9 85.83,614.9 86.32,614.9 86.82,614.9 87.31,614.9 87.8,614.9 87.8,614.9"/></clipPath>
<path d="M35.4 585.2V614.9M37 585.2V614.9M38.6 585.2V614.9M40.2 585.2V614.9M41.8 585.2V614.9M43.4 585.2V614.9M45 585.2V614.9M46.6 585.2V614.9M48.2 585.2V614.9M49.8 585.2V614.9M51.4 585.2V614.9M53 585.2V614.9M54.6 585.2V614.9M56.2 585.2V614.9M57.8 585.2V614.9M59.4 585.2V614.9M61 585.2V614.9M62.6 585.2V614.9M64.2 585.2V614.9M65.8 585.2V614.9M67.4 585.2V614.9M69 585.2V614.9M70.6 585.2V614.9M72.2 585.2V614.9M73.8 585.2V614.9M75.4 585.2V614.9M77 585.2V614.9M78.6 585.2V614.9M80.2 585.2V614.9M81.8 585.2V614.9M83.4 585.2V614.9M85 585.2V614.9M86.6 585.2V614.9" stroke="#8a8a8a" stroke-width="0.5" clip-path="url(#hc299)"/>
<line x1="44.8" y1="585.2" x2="44.8" y2="614.9" stroke="#9a9a9a" stroke-width="0.7"/>
<line x1="44.8" y1="612.3" x2="87.8" y2="612.3" stroke="#c8c8c8" stroke-width="0.8"/>
<line x1="67.7" y1="595.4" x2="70.7" y2="595.4" stroke="#999" stroke-width="0.7"/>
<text x="61" y="609" font-size="8.8" stroke="#1e1e1e" stroke-width="0.25" textLength="22.4" lengthAdjust="spacingAndGlyphs" fill="#1e1e1e">10.3%</text>
<line x1="32.4" y1="588.2" x2="34" y2="588.2" stroke="#888" stroke-width="0.8"/>
<line x1="32.4" y1="592.94" x2="34" y2="592.94" stroke="#888" stroke-width="0.8"/>
<line x1="32.4" y1="597.68" x2="34" y2="597.68" stroke="#888" stroke-width="0.8"/>
<line x1="32.4" y1="602.42" x2="34" y2="602.42" stroke="#888" stroke-width="0.8"/>
<line x1="32.4" y1="607.16" x2="34" y2="607.16" stroke="#888" stroke-width="0.8"/>
<line x1="32.4" y1="611.9" x2="34" y2="611.9" stroke="#888" stroke-width="0.8"/>
<line x1="41.96" y1="617.3" x2="43.76" y2="617.3" stroke="#999" stroke-width="0.8"/>
<line x1="42.86" y1="614.9" x2="42.86" y2="616.1" stroke="#aaa" stroke-width="0.6"/>
<line x1="54.94" y1="617.3" x2="56.74" y2="617.3" stroke="#999" stroke-width="0.8"/>
<line x1="55.84" y1="614.9" x2="55.84" y2="616.1" stroke="#aaa" stroke-width="0.6"/>
<line x1="68.47" y1="617.3" x2="70.27" y2="617.3" stroke="#999" stroke-width="0.8"/>
<line x1="69.37" y1="614.9" x2="69.37" y2="616.1" stroke="#aaa" stroke-width="0.6"/>
<line x1="81.99" y1="617.3" x2="83.79" y2="617.3" stroke="#999" stroke-width="0.8"/>
<line x1="82.89" y1="614.9" x2="82.89" y2="616.1" stroke="#aaa" stroke-width="0.6"/>
<rect x="34.2" y="636.9" width="54.1" height="29.5" fill="#fff" stroke="#a8a8a8" stroke-width="0.8"/>
<polygon points="34.7,666.4 34.7,637.9 35.19,638.2 35.68,639.07 36.18,640.46 36.67,642.29 37.16,644.46 37.65,646.84 38.14,649.33 38.63,651.8 39.12,654.18 39.62,656.38 40.11,658.36 40.6,660.08 41.09,661.53 41.58,662.73 42.08,663.69 42.57,664.44 43.06,665.01 43.55,665.44 44.04,665.75 44.53,665.96 45.03,666.12 45.52,666.22 46.01,666.29 46.5,666.33 46.99,666.36 47.48,666.38 47.98,666.39 48.47,666.39 48.96,666.39 49.45,666.39 49.94,666.38 50.43,666.35 50.92,666.28 51.42,666.1 51.91,665.73 52.4,665.06 52.89,663.94 53.38,662.3 53.88,660.18 54.37,657.81 54.86,655.61 55.35,654.07 55.84,653.58 56.33,654.27 56.83,655.95 57.32,658.22 57.81,660.57 58.3,662.62 58.79,664.17 59.28,665.2 59.78,665.81 60.27,666.14 60.76,666.29 61.25,666.36 61.74,666.39 62.23,666.4 62.73,666.4 63.22,666.4 63.71,666.4 64.2,666.4 64.69,666.4 65.18,666.4 65.67,666.4 66.17,666.4 66.66,666.4 67.15,666.4 67.64,666.4 68.13,666.4 68.62,666.4 69.12,666.4 69.61,666.4 70.1,666.4 70.59,666.4 71.08,666.4 71.57,666.4 72.07,666.4 72.56,666.4 73.05,666.4 73.54,666.4 74.03,666.4 74.53,666.4 75.02,666.4 75.51,666.4 76,666.4 76.49,666.4 76.98,666.4 77.47,666.4 77.97,666.4 78.46,666.4 78.95,666.4 79.44,666.4 79.93,666.4 80.42,666.4 80.92,666.4 81.41,666.4 81.9,666.4 82.39,666.4 82.88,666.4 83.38,666.4 83.87,666.4 84.36,666.4 84.85,666.4 85.34,666.4 85.83,666.4 86.32,666.4 86.82,666.4 87.31,666.4 87.8,666.4 87.8,666.4" fill="#ababab" stroke="#8c8c8c" stroke-width="0.6"/>
<clipPath id="hc321"><polygon points="34.7,666.4 34.7,637.9 35.19,638.2 35.68,639.07 36.18,640.46 36.67,642.29 37.16,644.46 37.65,646.84 38.14,649.33 38.63,651.8 39.12,654.18 39.62,656.38 40.11,658.36 40.6,660.08 41.09,661.53 41.58,662.73 42.08,663.69 42.57,664.44 43.06,665.01 43.55,665.44 44.04,665.75 44.53,665.96 45.03,666.12 45.52,666.22 46.01,666.29 46.5,666.33 46.99,666.36 47.48,666.38 47.98,666.39 48.47,666.39 48.96,666.39 49.45,666.39 49.94,666.38 50.43,666.35 50.92,666.28 51.42,666.1 51.91,665.73 52.4,665.06 52.89,663.94 53.38,662.3 53.88,660.18 54.37,657.81 54.86,655.61 55.35,654.07 55.84,653.58 56.33,654.27 56.83,655.95 57.32,658.22 57.81,660.57 58.3,662.62 58.79,664.17 59.28,665.2 59.78,665.81 60.27,666.14 60.76,666.29 61.25,666.36 61.74,666.39 62.23,666.4 62.73,666.4 63.22,666.4 63.71,666.4 64.2,666.4 64.69,666.4 65.18,666.4 65.67,666.4 66.17,666.4 66.66,666.4 67.15,666.4 67.64,666.4 68.13,666.4 68.62,666.4 69.12,666.4 69.61,666.4 70.1,666.4 70.59,666.4 71.08,666.4 71.57,666.4 72.07,666.4 72.56,666.4 73.05,666.4 73.54,666.4 74.03,666.4 74.53,666.4 75.02,666.4 75.51,666.4 76,666.4 76.49,666.4 76.98,666.4 77.47,666.4 77.97,666.4 78.46,666.4 78.95,666.4 79.44,666.4 79.93,666.4 80.42,666.4 80.92,666.4 81.41,666.4 81.9,666.4 82.39,666.4 82.88,666.4 83.38,666.4 83.87,666.4 84.36,666.4 84.85,666.4 85.34,666.4 85.83,666.4 86.32,666.4 86.82,666.4 87.31,666.4 87.8,666.4 87.8,666.4"/></clipPath>
<path d="M35.4 636.9V666.4M37 636.9V666.4M38.6 636.9V666.4M40.2 636.9V666.4M41.8 636.9V666.4M43.4 636.9V666.4M45 636.9V666.4M46.6 636.9V666.4M48.2 636.9V666.4M49.8 636.9V666.4M51.4 636.9V666.4M53 636.9V666.4M54.6 636.9V666.4M56.2 636.9V666.4M57.8 636.9V666.4M59.4 636.9V666.4M61 636.9V666.4M62.6 636.9V666.4M64.2 636.9V666.4M65.8 636.9V666.4M67.4 636.9V666.4M69 636.9V666.4M70.6 636.9V666.4M72.2 636.9V666.4M73.8 636.9V666.4M75.4 636.9V666.4M77 636.9V666.4M78.6 636.9V666.4M80.2 636.9V666.4M81.8 636.9V666.4M83.4 636.9V666.4M85 636.9V666.4M86.6 636.9V666.4" stroke="#8a8a8a" stroke-width="0.5" clip-path="url(#hc321)"/>
<line x1="44.8" y1="636.9" x2="44.8" y2="666.4" stroke="#9a9a9a" stroke-width="0.7"/>
<line x1="44.8" y1="663.8" x2="87.8" y2="663.8" stroke="#c8c8c8" stroke-width="0.8"/>
<line x1="67.7" y1="647.1" x2="70.7" y2="647.1" stroke="#999" stroke-width="0.7"/>
<text x="61.6" y="660.3" font-size="8.8" stroke="#1e1e1e" stroke-width="0.25" textLength="15" lengthAdjust="spacingAndGlyphs" fill="#1e1e1e">15%</text>
<line x1="32.4" y1="639.9" x2="34" y2="639.9" stroke="#888" stroke-width="0.8"/>
<line x1="32.4" y1="644.6" x2="34" y2="644.6" stroke="#888" stroke-width="0.8"/>
<line x1="32.4" y1="649.3" x2="34" y2="649.3" stroke="#888" stroke-width="0.8"/>
<line x1="32.4" y1="654" x2="34" y2="654" stroke="#888" stroke-width="0.8"/>
<line x1="32.4" y1="658.7" x2="34" y2="658.7" stroke="#888" stroke-width="0.8"/>
<line x1="32.4" y1="663.4" x2="34" y2="663.4" stroke="#888" stroke-width="0.8"/>
<line x1="41.96" y1="668.8" x2="43.76" y2="668.8" stroke="#999" stroke-width="0.8"/>
<line x1="42.86" y1="666.4" x2="42.86" y2="667.6" stroke="#aaa" stroke-width="0.6"/>
<line x1="54.94" y1="668.8" x2="56.74" y2="668.8" stroke="#999" stroke-width="0.8"/>
<line x1="55.84" y1="666.4" x2="55.84" y2="667.6" stroke="#aaa" stroke-width="0.6"/>
<line x1="68.47" y1="668.8" x2="70.27" y2="668.8" stroke="#999" stroke-width="0.8"/>
<line x1="69.37" y1="666.4" x2="69.37" y2="667.6" stroke="#aaa" stroke-width="0.6"/>
<line x1="81.99" y1="668.8" x2="83.79" y2="668.8" stroke="#999" stroke-width="0.8"/>
<line x1="82.89" y1="666.4" x2="82.89" y2="667.6" stroke="#aaa" stroke-width="0.6"/>
<rect x="34.2" y="688.7" width="54.1" height="29.8" fill="#fff" stroke="#a8a8a8" stroke-width="0.8"/>
<polygon points="34.7,718.5 34.7,690.79 35.19,689.99 35.68,689.7 36.18,689.95 36.67,690.72 37.16,691.97 37.65,693.63 38.14,695.62 38.63,697.84 39.12,700.18 39.62,702.56 40.11,704.89 40.6,707.09 41.09,709.12 41.58,710.92 42.08,712.5 42.57,713.83 43.06,714.93 43.55,715.83 44.04,716.53 44.53,717.08 45.03,717.49 45.52,717.8 46.01,718.02 46.5,718.18 46.99,718.29 47.48,718.36 47.98,718.41 48.47,718.45 48.96,718.47 49.45,718.48 49.94,718.49 50.43,718.49 50.92,718.5 51.42,718.5 51.91,718.5 52.4,718.5 52.89,718.5 53.38,718.5 53.88,718.5 54.37,718.5 54.86,718.5 55.35,718.5 55.84,718.5 56.33,718.5 56.83,718.5 57.32,718.5 57.81,718.5 58.3,718.5 58.79,718.5 59.28,718.5 59.78,718.5 60.27,718.5 60.76,718.5 61.25,718.5 61.74,718.5 62.23,718.5 62.73,718.5 63.22,718.5 63.71,718.5 64.2,718.5 64.69,718.5 65.18,718.5 65.67,718.5 66.17,718.5 66.66,718.5 67.15,718.5 67.64,718.5 68.13,718.5 68.62,718.5 69.12,718.5 69.61,718.5 70.1,718.5 70.59,718.5 71.08,718.5 71.57,718.5 72.07,718.5 72.56,718.5 73.05,718.5 73.54,718.5 74.03,718.5 74.53,718.5 75.02,718.5 75.51,718.5 76,718.5 76.49,718.5 76.98,718.5 77.47,718.5 77.97,718.5 78.46,718.5 78.95,718.5 79.44,718.5 79.93,718.5 80.42,718.5 80.92,718.5 81.41,718.5 81.9,718.5 82.39,718.5 82.88,718.5 83.38,718.5 83.87,718.5 84.36,718.5 84.85,718.5 85.34,718.5 85.83,718.5 86.32,718.5 86.82,718.5 87.31,718.5 87.8,718.5 87.8,718.5" fill="#ababab" stroke="#8c8c8c" stroke-width="0.6"/>
<clipPath id="hc343"><polygon points="34.7,718.5 34.7,690.79 35.19,689.99 35.68,689.7 36.18,689.95 36.67,690.72 37.16,691.97 37.65,693.63 38.14,695.62 38.63,697.84 39.12,700.18 39.62,702.56 40.11,704.89 40.6,707.09 41.09,709.12 41.58,710.92 42.08,712.5 42.57,713.83 43.06,714.93 43.55,715.83 44.04,716.53 44.53,717.08 45.03,717.49 45.52,717.8 46.01,718.02 46.5,718.18 46.99,718.29 47.48,718.36 47.98,718.41 48.47,718.45 48.96,718.47 49.45,718.48 49.94,718.49 50.43,718.49 50.92,718.5 51.42,718.5 51.91,718.5 52.4,718.5 52.89,718.5 53.38,718.5 53.88,718.5 54.37,718.5 54.86,718.5 55.35,718.5 55.84,718.5 56.33,718.5 56.83,718.5 57.32,718.5 57.81,718.5 58.3,718.5 58.79,718.5 59.28,718.5 59.78,718.5 60.27,718.5 60.76,718.5 61.25,718.5 61.74,718.5 62.23,718.5 62.73,718.5 63.22,718.5 63.71,718.5 64.2,718.5 64.69,718.5 65.18,718.5 65.67,718.5 66.17,718.5 66.66,718.5 67.15,718.5 67.64,718.5 68.13,718.5 68.62,718.5 69.12,718.5 69.61,718.5 70.1,718.5 70.59,718.5 71.08,718.5 71.57,718.5 72.07,718.5 72.56,718.5 73.05,718.5 73.54,718.5 74.03,718.5 74.53,718.5 75.02,718.5 75.51,718.5 76,718.5 76.49,718.5 76.98,718.5 77.47,718.5 77.97,718.5 78.46,718.5 78.95,718.5 79.44,718.5 79.93,718.5 80.42,718.5 80.92,718.5 81.41,718.5 81.9,718.5 82.39,718.5 82.88,718.5 83.38,718.5 83.87,718.5 84.36,718.5 84.85,718.5 85.34,718.5 85.83,718.5 86.32,718.5 86.82,718.5 87.31,718.5 87.8,718.5 87.8,718.5"/></clipPath>
<path d="M35.4 688.7V718.5M37 688.7V718.5M38.6 688.7V718.5M40.2 688.7V718.5M41.8 688.7V718.5M43.4 688.7V718.5M45 688.7V718.5M46.6 688.7V718.5M48.2 688.7V718.5M49.8 688.7V718.5M51.4 688.7V718.5M53 688.7V718.5M54.6 688.7V718.5M56.2 688.7V718.5M57.8 688.7V718.5M59.4 688.7V718.5M61 688.7V718.5M62.6 688.7V718.5M64.2 688.7V718.5M65.8 688.7V718.5M67.4 688.7V718.5M69 688.7V718.5M70.6 688.7V718.5M72.2 688.7V718.5M73.8 688.7V718.5M75.4 688.7V718.5M77 688.7V718.5M78.6 688.7V718.5M80.2 688.7V718.5M81.8 688.7V718.5M83.4 688.7V718.5M85 688.7V718.5M86.6 688.7V718.5" stroke="#8a8a8a" stroke-width="0.5" clip-path="url(#hc343)"/>
<line x1="44.8" y1="688.7" x2="44.8" y2="718.5" stroke="#9a9a9a" stroke-width="0.7"/>
<line x1="44.8" y1="715.9" x2="87.8" y2="715.9" stroke="#c8c8c8" stroke-width="0.8"/>
<line x1="67.7" y1="698.9" x2="70.7" y2="698.9" stroke="#999" stroke-width="0.7"/>
<text x="61" y="713.3" font-size="8.8" stroke="#1e1e1e" stroke-width="0.25" textLength="17.8" lengthAdjust="spacingAndGlyphs" fill="#1e1e1e">1.2%</text>
<line x1="32.4" y1="691.7" x2="34" y2="691.7" stroke="#888" stroke-width="0.8"/>
<line x1="32.4" y1="696.46" x2="34" y2="696.46" stroke="#888" stroke-width="0.8"/>
<line x1="32.4" y1="701.22" x2="34" y2="701.22" stroke="#888" stroke-width="0.8"/>
<line x1="32.4" y1="705.98" x2="34" y2="705.98" stroke="#888" stroke-width="0.8"/>
<line x1="32.4" y1="710.74" x2="34" y2="710.74" stroke="#888" stroke-width="0.8"/>
<line x1="32.4" y1="715.5" x2="34" y2="715.5" stroke="#888" stroke-width="0.8"/>
<line x1="41.96" y1="720.9" x2="43.76" y2="720.9" stroke="#999" stroke-width="0.8"/>
<line x1="42.86" y1="718.5" x2="42.86" y2="719.7" stroke="#aaa" stroke-width="0.6"/>
<line x1="54.94" y1="720.9" x2="56.74" y2="720.9" stroke="#999" stroke-width="0.8"/>
<line x1="55.84" y1="718.5" x2="55.84" y2="719.7" stroke="#aaa" stroke-width="0.6"/>
<line x1="68.47" y1="720.9" x2="70.27" y2="720.9" stroke="#999" stroke-width="0.8"/>
<line x1="69.37" y1="718.5" x2="69.37" y2="719.7" stroke="#aaa" stroke-width="0.6"/>
<line x1="81.99" y1="720.9" x2="83.79" y2="720.9" stroke="#999" stroke-width="0.8"/>
<line x1="82.89" y1="718.5" x2="82.89" y2="719.7" stroke="#aaa" stroke-width="0.6"/>
<rect x="273.6" y="481.3" width="54.6" height="29.9" fill="#fff" stroke="#a8a8a8" stroke-width="0.8"/>
<polygon points="274.1,511.2 274.1,482.3 274.59,482.57 275.08,483.36 275.58,484.63 276.07,486.31 276.56,488.31 277.05,490.54 277.54,492.9 278.03,495.29 278.53,497.63 279.02,499.83 279.51,501.85 280,503.66 280.49,505.23 280.98,506.56 281.48,507.66 281.97,508.55 282.46,509.25 282.95,509.79 283.44,510.2 283.93,510.51 284.43,510.73 284.92,510.88 285.41,510.99 285.9,511.07 286.39,511.12 286.89,511.15 287.38,511.17 287.87,511.18 288.36,511.19 288.85,511.19 289.34,511.2 289.84,511.2 290.33,511.2 290.82,511.2 291.31,511.2 291.8,511.2 292.29,511.2 292.79,511.2 293.28,511.2 293.77,511.2 294.26,511.2 294.75,511.2 295.24,511.2 295.74,511.2 296.23,511.2 296.72,511.2 297.21,511.2 297.7,511.2 298.2,511.2 298.69,511.2 299.18,511.2 299.67,511.2 300.16,511.2 300.65,511.2 301.15,511.2 301.64,511.2 302.13,511.2 302.62,511.2 303.11,511.2 303.6,511.2 304.1,511.2 304.59,511.2 305.08,511.2 305.57,511.2 306.06,511.2 306.56,511.2 307.05,511.2 307.54,511.2 308.03,511.2 308.52,511.2 309.01,511.2 309.51,511.2 310,511.2 310.49,511.2 310.98,511.2 311.47,511.2 311.96,511.2 312.46,511.2 312.95,511.2 313.44,511.2 313.93,511.2 314.42,511.2 314.91,511.2 315.41,511.2 315.9,511.2 316.39,511.2 316.88,511.2 317.37,511.2 317.87,511.2 318.36,511.2 318.85,511.2 319.34,511.2 319.83,511.2 320.32,511.2 320.82,511.2 321.31,511.2 321.8,511.2 322.29,511.2 322.78,511.2 323.27,511.2 323.77,511.2 324.26,511.2 324.75,511.2 325.24,511.2 325.73,511.2 326.22,511.2 326.72,511.2 327.21,511.2 327.7,511.2 327.7,511.2" fill="#ababab" stroke="#8c8c8c" stroke-width="0.6"/>
<clipPath id="hc365"><polygon points="274.1,511.2 274.1,482.3 274.59,482.57 275.08,483.36 275.58,484.63 276.07,486.31 276.56,488.31 277.05,490.54 277.54,492.9 278.03,495.29 278.53,497.63 279.02,499.83 279.51,501.85 280,503.66 280.49,505.23 280.98,506.56 281.48,507.66 281.97,508.55 282.46,509.25 282.95,509.79 283.44,510.2 283.93,510.51 284.43,510.73 284.92,510.88 285.41,510.99 285.9,511.07 286.39,511.12 286.89,511.15 287.38,511.17 287.87,511.18 288.36,511.19 288.85,511.19 289.34,511.2 289.84,511.2 290.33,511.2 290.82,511.2 291.31,511.2 291.8,511.2 292.29,511.2 292.79,511.2 293.28,511.2 293.77,511.2 294.26,511.2 294.75,511.2 295.24,511.2 295.74,511.2 296.23,511.2 296.72,511.2 297.21,511.2 297.7,511.2 298.2,511.2 298.69,511.2 299.18,511.2 299.67,511.2 300.16,511.2 300.65,511.2 301.15,511.2 301.64,511.2 302.13,511.2 302.62,511.2 303.11,511.2 303.6,511.2 304.1,511.2 304.59,511.2 305.08,511.2 305.57,511.2 306.06,511.2 306.56,511.2 307.05,511.2 307.54,511.2 308.03,511.2 308.52,511.2 309.01,511.2 309.51,511.2 310,511.2 310.49,511.2 310.98,511.2 311.47,511.2 311.96,511.2 312.46,511.2 312.95,511.2 313.44,511.2 313.93,511.2 314.42,511.2 314.91,511.2 315.41,511.2 315.9,511.2 316.39,511.2 316.88,511.2 317.37,511.2 317.87,511.2 318.36,511.2 318.85,511.2 319.34,511.2 319.83,511.2 320.32,511.2 320.82,511.2 321.31,511.2 321.8,511.2 322.29,511.2 322.78,511.2 323.27,511.2 323.77,511.2 324.26,511.2 324.75,511.2 325.24,511.2 325.73,511.2 326.22,511.2 326.72,511.2 327.21,511.2 327.7,511.2 327.7,511.2"/></clipPath>
<path d="M274.8 481.3V511.2M276.4 481.3V511.2M278 481.3V511.2M279.6 481.3V511.2M281.2 481.3V511.2M282.8 481.3V511.2M284.4 481.3V511.2M286 481.3V511.2M287.6 481.3V511.2M289.2 481.3V511.2M290.8 481.3V511.2M292.4 481.3V511.2M294 481.3V511.2M295.6 481.3V511.2M297.2 481.3V511.2M298.8 481.3V511.2M300.4 481.3V511.2M302 481.3V511.2M303.6 481.3V511.2M305.2 481.3V511.2M306.8 481.3V511.2M308.4 481.3V511.2M310 481.3V511.2M311.6 481.3V511.2M313.2 481.3V511.2M314.8 481.3V511.2M316.4 481.3V511.2M318 481.3V511.2M319.6 481.3V511.2M321.2 481.3V511.2M322.8 481.3V511.2M324.4 481.3V511.2M326 481.3V511.2M327.6 481.3V511.2" stroke="#8a8a8a" stroke-width="0.5" clip-path="url(#hc365)"/>
<line x1="284.2" y1="481.3" x2="284.2" y2="511.2" stroke="#9a9a9a" stroke-width="0.7"/>
<line x1="284.2" y1="508.6" x2="327.7" y2="508.6" stroke="#c8c8c8" stroke-width="0.8"/>
<line x1="307.1" y1="491.5" x2="310.1" y2="491.5" stroke="#999" stroke-width="0.7"/>
<text x="304.5" y="504.5" font-size="8.8" stroke="#1e1e1e" stroke-width="0.25" textLength="17.5" lengthAdjust="spacingAndGlyphs" fill="#1e1e1e">1.6%</text>
<line x1="271.8" y1="484.3" x2="273.4" y2="484.3" stroke="#888" stroke-width="0.8"/>
<line x1="271.8" y1="489.08" x2="273.4" y2="489.08" stroke="#888" stroke-width="0.8"/>
<line x1="271.8" y1="493.86" x2="273.4" y2="493.86" stroke="#888" stroke-width="0.8"/>
<line x1="271.8" y1="498.64" x2="273.4" y2="498.64" stroke="#888" stroke-width="0.8"/>
<line x1="271.8" y1="503.42" x2="273.4" y2="503.42" stroke="#888" stroke-width="0.8"/>
<line x1="271.8" y1="508.2" x2="273.4" y2="508.2" stroke="#888" stroke-width="0.8"/>
<line x1="281.44" y1="513.6" x2="283.24" y2="513.6" stroke="#999" stroke-width="0.8"/>
<line x1="282.34" y1="511.2" x2="282.34" y2="512.4" stroke="#aaa" stroke-width="0.6"/>
<line x1="294.54" y1="513.6" x2="296.34" y2="513.6" stroke="#999" stroke-width="0.8"/>
<line x1="295.44" y1="511.2" x2="295.44" y2="512.4" stroke="#aaa" stroke-width="0.6"/>
<line x1="308.19" y1="513.6" x2="309.99" y2="513.6" stroke="#999" stroke-width="0.8"/>
<line x1="309.09" y1="511.2" x2="309.09" y2="512.4" stroke="#aaa" stroke-width="0.6"/>
<line x1="321.84" y1="513.6" x2="323.64" y2="513.6" stroke="#999" stroke-width="0.8"/>
<line x1="322.74" y1="511.2" x2="322.74" y2="512.4" stroke="#aaa" stroke-width="0.6"/>
<rect x="273.6" y="585.2" width="54.6" height="29.4" fill="#fff" stroke="#a8a8a8" stroke-width="0.8"/>
<polygon points="274.1,614.6 274.1,587.62 274.59,587.84 275.08,588.51 275.58,589.58 276.07,591 276.56,592.72 277.05,594.64 277.54,596.7 278.03,598.81 278.53,600.91 279.02,602.92 279.51,604.8 280,606.52 280.49,608.04 280.98,609.36 281.48,610.47 281.97,611.38 282.46,612.1 282.95,612.63 283.44,612.98 283.93,613.13 284.43,613.08 284.92,612.81 285.41,612.29 285.9,611.49 286.39,610.4 286.89,609.02 287.38,607.38 287.87,605.54 288.36,603.6 288.85,601.71 289.34,600.02 289.84,598.69 290.33,597.84 290.82,597.56 291.31,597.89 291.8,598.78 292.29,600.15 292.79,601.87 293.28,603.78 293.77,605.72 294.26,607.58 294.75,609.24 295.24,610.65 295.74,611.79 296.23,612.67 296.72,613.32 297.21,613.79 297.7,614.1 298.2,614.3 298.69,614.43 299.18,614.51 299.67,614.55 300.16,614.57 300.65,614.59 301.15,614.59 301.64,614.6 302.13,614.6 302.62,614.6 303.11,614.6 303.6,614.6 304.1,614.6 304.59,614.6 305.08,614.6 305.57,614.6 306.06,614.6 306.56,614.6 307.05,614.6 307.54,614.6 308.03,614.6 308.52,614.6 309.01,614.6 309.51,614.6 310,614.6 310.49,614.6 310.98,614.6 311.47,614.6 311.96,614.6 312.46,614.6 312.95,614.6 313.44,614.6 313.93,614.6 314.42,614.6 314.91,614.6 315.41,614.6 315.9,614.6 316.39,614.6 316.88,614.6 317.37,614.6 317.87,614.6 318.36,614.6 318.85,614.6 319.34,614.6 319.83,614.6 320.32,614.6 320.82,614.6 321.31,614.6 321.8,614.6 322.29,614.6 322.78,614.6 323.27,614.6 323.77,614.6 324.26,614.6 324.75,614.6 325.24,614.6 325.73,614.6 326.22,614.6 326.72,614.6 327.21,614.6 327.7,614.6 327.7,614.6" fill="#ababab" stroke="#8c8c8c" stroke-width="0.6"/>
<clipPath id="hc387"><polygon points="274.1,614.6 274.1,587.62 274.59,587.84 275.08,588.51 275.58,589.58 276.07,591 276.56,592.72 277.05,594.64 277.54,596.7 278.03,598.81 278.53,600.91 279.02,602.92 279.51,604.8 280,606.52 280.49,608.04 280.98,609.36 281.48,610.47 281.97,611.38 282.46,612.1 282.95,612.63 283.44,612.98 283.93,613.13 284.43,613.08 284.92,612.81 285.41,612.29 285.9,611.49 286.39,610.4 286.89,609.02 287.38,607.38 287.87,605.54 288.36,603.6 288.85,601.71 289.34,600.02 289.84,598.69 290.33,597.84 290.82,597.56 291.31,597.89 291.8,598.78 292.29,600.15 292.79,601.87 293.28,603.78 293.77,605.72 294.26,607.58 294.75,609.24 295.24,610.65 295.74,611.79 296.23,612.67 296.72,613.32 297.21,613.79 297.7,614.1 298.2,614.3 298.69,614.43 299.18,614.51 299.67,614.55 300.16,614.57 300.65,614.59 301.15,614.59 301.64,614.6 302.13,614.6 302.62,614.6 303.11,614.6 303.6,614.6 304.1,614.6 304.59,614.6 305.08,614.6 305.57,614.6 306.06,614.6 306.56,614.6 307.05,614.6 307.54,614.6 308.03,614.6 308.52,614.6 309.01,614.6 309.51,614.6 310,614.6 310.49,614.6 310.98,614.6 311.47,614.6 311.96,614.6 312.46,614.6 312.95,614.6 313.44,614.6 313.93,614.6 314.42,614.6 314.91,614.6 315.41,614.6 315.9,614.6 316.39,614.6 316.88,614.6 317.37,614.6 317.87,614.6 318.36,614.6 318.85,614.6 319.34,614.6 319.83,614.6 320.32,614.6 320.82,614.6 321.31,614.6 321.8,614.6 322.29,614.6 322.78,614.6 323.27,614.6 323.77,614.6 324.26,614.6 324.75,614.6 325.24,614.6 325.73,614.6 326.22,614.6 326.72,614.6 327.21,614.6 327.7,614.6 327.7,614.6"/></clipPath>
<path d="M274.8 585.2V614.6M276.4 585.2V614.6M278 585.2V614.6M279.6 585.2V614.6M281.2 585.2V614.6M282.8 585.2V614.6M284.4 585.2V614.6M286 585.2V614.6M287.6 585.2V614.6M289.2 585.2V614.6M290.8 585.2V614.6M292.4 585.2V614.6M294 585.2V614.6M295.6 585.2V614.6M297.2 585.2V614.6M298.8 585.2V614.6M300.4 585.2V614.6M302 585.2V614.6M303.6 585.2V614.6M305.2 585.2V614.6M306.8 585.2V614.6M308.4 585.2V614.6M310 585.2V614.6M311.6 585.2V614.6M313.2 585.2V614.6M314.8 585.2V614.6M316.4 585.2V614.6M318 585.2V614.6M319.6 585.2V614.6M321.2 585.2V614.6M322.8 585.2V614.6M324.4 585.2V614.6M326 585.2V614.6M327.6 585.2V614.6" stroke="#8a8a8a" stroke-width="0.5" clip-path="url(#hc387)"/>
<line x1="284.2" y1="585.2" x2="284.2" y2="614.6" stroke="#9a9a9a" stroke-width="0.7"/>
<line x1="284.2" y1="612" x2="327.7" y2="612" stroke="#c8c8c8" stroke-width="0.8"/>
<line x1="307.1" y1="595.4" x2="310.1" y2="595.4" stroke="#999" stroke-width="0.7"/>
<text x="301.8" y="609.2" font-size="8.8" stroke="#1e1e1e" stroke-width="0.25" textLength="22.3" lengthAdjust="spacingAndGlyphs" fill="#1e1e1e">26.8%</text>
<line x1="271.8" y1="588.2" x2="273.4" y2="588.2" stroke="#888" stroke-width="0.8"/>
<line x1="271.8" y1="592.88" x2="273.4" y2="592.88" stroke="#888" stroke-width="0.8"/>
<line x1="271.8" y1="597.56" x2="273.4" y2="597.56" stroke="#888" stroke-width="0.8"/>
<line x1="271.8" y1="602.24" x2="273.4" y2="602.24" stroke="#888" stroke-width="0.8"/>
<line x1="271.8" y1="606.92" x2="273.4" y2="606.92" stroke="#888" stroke-width="0.8"/>
<line x1="271.8" y1="611.6" x2="273.4" y2="611.6" stroke="#888" stroke-width="0.8"/>
<line x1="281.44" y1="617" x2="283.24" y2="617" stroke="#999" stroke-width="0.8"/>
<line x1="282.34" y1="614.6" x2="282.34" y2="615.8" stroke="#aaa" stroke-width="0.6"/>
<line x1="294.54" y1="617" x2="296.34" y2="617" stroke="#999" stroke-width="0.8"/>
<line x1="295.44" y1="614.6" x2="295.44" y2="615.8" stroke="#aaa" stroke-width="0.6"/>
<line x1="308.19" y1="617" x2="309.99" y2="617" stroke="#999" stroke-width="0.8"/>
<line x1="309.09" y1="614.6" x2="309.09" y2="615.8" stroke="#aaa" stroke-width="0.6"/>
<line x1="321.84" y1="617" x2="323.64" y2="617" stroke="#999" stroke-width="0.8"/>
<line x1="322.74" y1="614.6" x2="322.74" y2="615.8" stroke="#aaa" stroke-width="0.6"/>
<rect x="273.6" y="636.2" width="54.6" height="30.4" fill="#fff" stroke="#a8a8a8" stroke-width="0.8"/>
<polygon points="274.1,666.6 274.1,650.43 274.59,649.64 275.08,649.14 275.58,648.96 276.07,649.11 276.56,649.57 277.05,650.34 277.54,651.35 278.03,652.56 278.53,653.92 279.02,655.36 279.51,656.82 280,658.24 280.49,659.59 280.98,660.84 281.48,661.94 281.97,662.91 282.46,663.73 282.95,664.41 283.44,664.96 283.93,665.39 284.43,665.73 284.92,665.98 285.41,666.17 285.9,666.31 286.39,666.4 286.89,666.47 287.38,666.51 287.87,666.54 288.36,666.54 288.85,666.51 289.34,666.39 289.84,666.09 290.33,665.44 290.82,664.19 291.31,662.04 291.8,658.73 292.29,654.23 292.79,648.92 293.28,643.61 293.77,639.39 294.26,637.31 294.75,637.91 295.24,641.03 295.74,645.86 296.23,651.3 296.72,656.33 297.21,660.32 297.7,663.11 298.2,664.84 298.69,665.79 299.18,666.26 299.67,666.47 300.16,666.56 300.65,666.59 301.15,666.6 301.64,666.6 302.13,666.6 302.62,666.6 303.11,666.6 303.6,666.6 304.1,666.6 304.59,666.6 305.08,666.6 305.57,666.6 306.06,666.6 306.56,666.6 307.05,666.6 307.54,666.6 308.03,666.6 308.52,666.6 309.01,666.6 309.51,666.6 310,666.6 310.49,666.6 310.98,666.6 311.47,666.6 311.96,666.6 312.46,666.6 312.95,666.6 313.44,666.6 313.93,666.6 314.42,666.6 314.91,666.6 315.41,666.6 315.9,666.6 316.39,666.6 316.88,666.6 317.37,666.6 317.87,666.6 318.36,666.6 318.85,666.6 319.34,666.6 319.83,666.6 320.32,666.6 320.82,666.6 321.31,666.6 321.8,666.6 322.29,666.6 322.78,666.6 323.27,666.6 323.77,666.6 324.26,666.6 324.75,666.6 325.24,666.6 325.73,666.6 326.22,666.6 326.72,666.6 327.21,666.6 327.7,666.6 327.7,666.6" fill="#ababab" stroke="#8c8c8c" stroke-width="0.6"/>
<clipPath id="hc409"><polygon points="274.1,666.6 274.1,650.43 274.59,649.64 275.08,649.14 275.58,648.96 276.07,649.11 276.56,649.57 277.05,650.34 277.54,651.35 278.03,652.56 278.53,653.92 279.02,655.36 279.51,656.82 280,658.24 280.49,659.59 280.98,660.84 281.48,661.94 281.97,662.91 282.46,663.73 282.95,664.41 283.44,664.96 283.93,665.39 284.43,665.73 284.92,665.98 285.41,666.17 285.9,666.31 286.39,666.4 286.89,666.47 287.38,666.51 287.87,666.54 288.36,666.54 288.85,666.51 289.34,666.39 289.84,666.09 290.33,665.44 290.82,664.19 291.31,662.04 291.8,658.73 292.29,654.23 292.79,648.92 293.28,643.61 293.77,639.39 294.26,637.31 294.75,637.91 295.24,641.03 295.74,645.86 296.23,651.3 296.72,656.33 297.21,660.32 297.7,663.11 298.2,664.84 298.69,665.79 299.18,666.26 299.67,666.47 300.16,666.56 300.65,666.59 301.15,666.6 301.64,666.6 302.13,666.6 302.62,666.6 303.11,666.6 303.6,666.6 304.1,666.6 304.59,666.6 305.08,666.6 305.57,666.6 306.06,666.6 306.56,666.6 307.05,666.6 307.54,666.6 308.03,666.6 308.52,666.6 309.01,666.6 309.51,666.6 310,666.6 310.49,666.6 310.98,666.6 311.47,666.6 311.96,666.6 312.46,666.6 312.95,666.6 313.44,666.6 313.93,666.6 314.42,666.6 314.91,666.6 315.41,666.6 315.9,666.6 316.39,666.6 316.88,666.6 317.37,666.6 317.87,666.6 318.36,666.6 318.85,666.6 319.34,666.6 319.83,666.6 320.32,666.6 320.82,666.6 321.31,666.6 321.8,666.6 322.29,666.6 322.78,666.6 323.27,666.6 323.77,666.6 324.26,666.6 324.75,666.6 325.24,666.6 325.73,666.6 326.22,666.6 326.72,666.6 327.21,666.6 327.7,666.6 327.7,666.6"/></clipPath>
<path d="M274.8 636.2V666.6M276.4 636.2V666.6M278 636.2V666.6M279.6 636.2V666.6M281.2 636.2V666.6M282.8 636.2V666.6M284.4 636.2V666.6M286 636.2V666.6M287.6 636.2V666.6M289.2 636.2V666.6M290.8 636.2V666.6M292.4 636.2V666.6M294 636.2V666.6M295.6 636.2V666.6M297.2 636.2V666.6M298.8 636.2V666.6M300.4 636.2V666.6M302 636.2V666.6M303.6 636.2V666.6M305.2 636.2V666.6M306.8 636.2V666.6M308.4 636.2V666.6M310 636.2V666.6M311.6 636.2V666.6M313.2 636.2V666.6M314.8 636.2V666.6M316.4 636.2V666.6M318 636.2V666.6M319.6 636.2V666.6M321.2 636.2V666.6M322.8 636.2V666.6M324.4 636.2V666.6M326 636.2V666.6M327.6 636.2V666.6" stroke="#8a8a8a" stroke-width="0.5" clip-path="url(#hc409)"/>
<line x1="284.2" y1="636.2" x2="284.2" y2="666.6" stroke="#9a9a9a" stroke-width="0.7"/>
<line x1="284.2" y1="664" x2="327.7" y2="664" stroke="#c8c8c8" stroke-width="0.8"/>
<line x1="307.1" y1="646.4" x2="310.1" y2="646.4" stroke="#999" stroke-width="0.7"/>
<text x="301.5" y="661.9" font-size="8.8" stroke="#1e1e1e" stroke-width="0.25" textLength="22.6" lengthAdjust="spacingAndGlyphs" fill="#1e1e1e">40.0%</text>
<line x1="271.8" y1="639.2" x2="273.4" y2="639.2" stroke="#888" stroke-width="0.8"/>
<line x1="271.8" y1="644.08" x2="273.4" y2="644.08" stroke="#888" stroke-width="0.8"/>
<line x1="271.8" y1="648.96" x2="273.4" y2="648.96" stroke="#888" stroke-width="0.8"/>
<line x1="271.8" y1="653.84" x2="273.4" y2="653.84" stroke="#888" stroke-width="0.8"/>
<line x1="271.8" y1="658.72" x2="273.4" y2="658.72" stroke="#888" stroke-width="0.8"/>
<line x1="271.8" y1="663.6" x2="273.4" y2="663.6" stroke="#888" stroke-width="0.8"/>
<line x1="281.44" y1="669" x2="283.24" y2="669" stroke="#999" stroke-width="0.8"/>
<line x1="282.34" y1="666.6" x2="282.34" y2="667.8" stroke="#aaa" stroke-width="0.6"/>
<line x1="294.54" y1="669" x2="296.34" y2="669" stroke="#999" stroke-width="0.8"/>
<line x1="295.44" y1="666.6" x2="295.44" y2="667.8" stroke="#aaa" stroke-width="0.6"/>
<line x1="308.19" y1="669" x2="309.99" y2="669" stroke="#999" stroke-width="0.8"/>
<line x1="309.09" y1="666.6" x2="309.09" y2="667.8" stroke="#aaa" stroke-width="0.6"/>
<line x1="321.84" y1="669" x2="323.64" y2="669" stroke="#999" stroke-width="0.8"/>
<line x1="322.74" y1="666.6" x2="322.74" y2="667.8" stroke="#aaa" stroke-width="0.6"/>
<rect x="273.6" y="688.6" width="54.6" height="29.9" fill="#fff" stroke="#a8a8a8" stroke-width="0.8"/>
<polygon points="274.1,718.5 274.1,689.7 274.59,689.64 275.08,690.12 275.58,691.1 276.07,692.54 276.56,694.36 277.05,696.46 277.54,698.75 278.03,701.14 278.53,703.51 279.02,705.8 279.51,707.94 280,709.88 280.49,711.6 280.98,713.07 281.48,714.31 281.97,715.33 282.46,716.14 282.95,716.78 283.44,717.27 283.93,717.63 284.43,717.9 284.92,718.1 285.41,718.23 285.9,718.32 286.39,718.39 286.89,718.43 287.38,718.46 287.87,718.47 288.36,718.48 288.85,718.49 289.34,718.49 289.84,718.5 290.33,718.5 290.82,718.5 291.31,718.5 291.8,718.5 292.29,718.5 292.79,718.5 293.28,718.5 293.77,718.5 294.26,718.5 294.75,718.5 295.24,718.5 295.74,718.5 296.23,718.5 296.72,718.5 297.21,718.5 297.7,718.5 298.2,718.5 298.69,718.5 299.18,718.5 299.67,718.5 300.16,718.5 300.65,718.5 301.15,718.5 301.64,718.5 302.13,718.5 302.62,718.5 303.11,718.5 303.6,718.5 304.1,718.5 304.59,718.5 305.08,718.5 305.57,718.5 306.06,718.5 306.56,718.5 307.05,718.5 307.54,718.5 308.03,718.5 308.52,718.5 309.01,718.5 309.51,718.5 310,718.5 310.49,718.5 310.98,718.5 311.47,718.5 311.96,718.5 312.46,718.5 312.95,718.5 313.44,718.5 313.93,718.5 314.42,718.5 314.91,718.5 315.41,718.5 315.9,718.5 316.39,718.5 316.88,718.5 317.37,718.5 317.87,718.5 318.36,718.5 318.85,718.5 319.34,718.5 319.83,718.5 320.32,718.5 320.82,718.5 321.31,718.5 321.8,718.5 322.29,718.5 322.78,718.5 323.27,718.5 323.77,718.5 324.26,718.5 324.75,718.5 325.24,718.5 325.73,718.5 326.22,718.5 326.72,718.5 327.21,718.5 327.7,718.5 327.7,718.5" fill="#ababab" stroke="#8c8c8c" stroke-width="0.6"/>
<clipPath id="hc431"><polygon points="274.1,718.5 274.1,689.7 274.59,689.64 275.08,690.12 275.58,691.1 276.07,692.54 276.56,694.36 277.05,696.46 277.54,698.75 278.03,701.14 278.53,703.51 279.02,705.8 279.51,707.94 280,709.88 280.49,711.6 280.98,713.07 281.48,714.31 281.97,715.33 282.46,716.14 282.95,716.78 283.44,717.27 283.93,717.63 284.43,717.9 284.92,718.1 285.41,718.23 285.9,718.32 286.39,718.39 286.89,718.43 287.38,718.46 287.87,718.47 288.36,718.48 288.85,718.49 289.34,718.49 289.84,718.5 290.33,718.5 290.82,718.5 291.31,718.5 291.8,718.5 292.29,718.5 292.79,718.5 293.28,718.5 293.77,718.5 294.26,718.5 294.75,718.5 295.24,718.5 295.74,718.5 296.23,718.5 296.72,718.5 297.21,718.5 297.7,718.5 298.2,718.5 298.69,718.5 299.18,718.5 299.67,718.5 300.16,718.5 300.65,718.5 301.15,718.5 301.64,718.5 302.13,718.5 302.62,718.5 303.11,718.5 303.6,718.5 304.1,718.5 304.59,718.5 305.08,718.5 305.57,718.5 306.06,718.5 306.56,718.5 307.05,718.5 307.54,718.5 308.03,718.5 308.52,718.5 309.01,718.5 309.51,718.5 310,718.5 310.49,718.5 310.98,718.5 311.47,718.5 311.96,718.5 312.46,718.5 312.95,718.5 313.44,718.5 313.93,718.5 314.42,718.5 314.91,718.5 315.41,718.5 315.9,718.5 316.39,718.5 316.88,718.5 317.37,718.5 317.87,718.5 318.36,718.5 318.85,718.5 319.34,718.5 319.83,718.5 320.32,718.5 320.82,718.5 321.31,718.5 321.8,718.5 322.29,718.5 322.78,718.5 323.27,718.5 323.77,718.5 324.26,718.5 324.75,718.5 325.24,718.5 325.73,718.5 326.22,718.5 326.72,718.5 327.21,718.5 327.7,718.5 327.7,718.5"/></clipPath>
<path d="M274.8 688.6V718.5M276.4 688.6V718.5M278 688.6V718.5M279.6 688.6V718.5M281.2 688.6V718.5M282.8 688.6V718.5M284.4 688.6V718.5M286 688.6V718.5M287.6 688.6V718.5M289.2 688.6V718.5M290.8 688.6V718.5M292.4 688.6V718.5M294 688.6V718.5M295.6 688.6V718.5M297.2 688.6V718.5M298.8 688.6V718.5M300.4 688.6V718.5M302 688.6V718.5M303.6 688.6V718.5M305.2 688.6V718.5M306.8 688.6V718.5M308.4 688.6V718.5M310 688.6V718.5M311.6 688.6V718.5M313.2 688.6V718.5M314.8 688.6V718.5M316.4 688.6V718.5M318 688.6V718.5M319.6 688.6V718.5M321.2 688.6V718.5M322.8 688.6V718.5M324.4 688.6V718.5M326 688.6V718.5M327.6 688.6V718.5" stroke="#8a8a8a" stroke-width="0.5" clip-path="url(#hc431)"/>
<line x1="284.2" y1="688.6" x2="284.2" y2="718.5" stroke="#9a9a9a" stroke-width="0.7"/>
<line x1="284.2" y1="715.9" x2="327.7" y2="715.9" stroke="#c8c8c8" stroke-width="0.8"/>
<line x1="307.1" y1="698.8" x2="310.1" y2="698.8" stroke="#999" stroke-width="0.7"/>
<text x="301.5" y="713.8" font-size="8.8" stroke="#1e1e1e" stroke-width="0.25" textLength="17" lengthAdjust="spacingAndGlyphs" fill="#1e1e1e">2.5%</text>
<line x1="271.8" y1="691.6" x2="273.4" y2="691.6" stroke="#888" stroke-width="0.8"/>
<line x1="271.8" y1="696.38" x2="273.4" y2="696.38" stroke="#888" stroke-width="0.8"/>
<line x1="271.8" y1="701.16" x2="273.4" y2="701.16" stroke="#888" stroke-width="0.8"/>
<line x1="271.8" y1="705.94" x2="273.4" y2="705.94" stroke="#888" stroke-width="0.8"/>
<line x1="271.8" y1="710.72" x2="273.4" y2="710.72" stroke="#888" stroke-width="0.8"/>
<line x1="271.8" y1="715.5" x2="273.4" y2="715.5" stroke="#888" stroke-width="0.8"/>
<line x1="281.44" y1="720.9" x2="283.24" y2="720.9" stroke="#999" stroke-width="0.8"/>
<line x1="282.34" y1="718.5" x2="282.34" y2="719.7" stroke="#aaa" stroke-width="0.6"/>
<line x1="294.54" y1="720.9" x2="296.34" y2="720.9" stroke="#999" stroke-width="0.8"/>
<line x1="295.44" y1="718.5" x2="295.44" y2="719.7" stroke="#aaa" stroke-width="0.6"/>
<line x1="308.19" y1="720.9" x2="309.99" y2="720.9" stroke="#999" stroke-width="0.8"/>
<line x1="309.09" y1="718.5" x2="309.09" y2="719.7" stroke="#aaa" stroke-width="0.6"/>
<line x1="321.84" y1="720.9" x2="323.64" y2="720.9" stroke="#999" stroke-width="0.8"/>
<line x1="322.74" y1="718.5" x2="322.74" y2="719.7" stroke="#aaa" stroke-width="0.6"/>
<rect x="103.6" y="472.4" width="66" height="43.4" fill="none" stroke="#a4a4a4" stroke-width="0.9"/>
<line x1="103.6" y1="472.6" x2="169.6" y2="472.6" stroke="#999" stroke-width="1.4"/>
<polyline points="122.9,481.4 138.3,481.4 138.3,514.5 119.8,514.5" fill="none" stroke="#888888" stroke-width="0.9"/>
<line x1="103.6" y1="499.8" x2="138.3" y2="499.8" stroke="#666" stroke-width="1.1"/>
<line x1="101.6" y1="476.4" x2="103.4" y2="476.4" stroke="#888" stroke-width="0.8"/>
<rect x="99" y="473.8" width="1.3" height="2.6" fill="#a0a0a0"/>
<line x1="101.6" y1="485.25" x2="103.4" y2="485.25" stroke="#888" stroke-width="0.8"/>
<rect x="99" y="482.65" width="1.3" height="2.6" fill="#a0a0a0"/>
<line x1="101.6" y1="494.1" x2="103.4" y2="494.1" stroke="#888" stroke-width="0.8"/>
<rect x="99" y="491.5" width="1.3" height="2.6" fill="#a0a0a0"/>
<line x1="101.6" y1="502.95" x2="103.4" y2="502.95" stroke="#888" stroke-width="0.8"/>
<rect x="99" y="500.35" width="1.3" height="2.6" fill="#a0a0a0"/>
<line x1="101.6" y1="511.8" x2="103.4" y2="511.8" stroke="#888" stroke-width="0.8"/>
<rect x="99" y="509.2" width="1.3" height="2.6" fill="#a0a0a0"/>
<rect x="110.12" y="518.8" width="2.8" height="1.4" fill="#999"/>
<line x1="111.52" y1="515.8" x2="111.52" y2="517.3" stroke="#999" stroke-width="0.6"/>
<rect x="128.6" y="518.8" width="2.8" height="1.4" fill="#999"/>
<line x1="130" y1="515.8" x2="130" y2="517.3" stroke="#999" stroke-width="0.6"/>
<rect x="145.76" y="518.8" width="2.8" height="1.4" fill="#999"/>
<line x1="147.16" y1="515.8" x2="147.16" y2="517.3" stroke="#999" stroke-width="0.6"/>
<rect x="161.6" y="518.8" width="2.8" height="1.4" fill="#999"/>
<line x1="163" y1="515.8" x2="163" y2="517.3" stroke="#999" stroke-width="0.6"/>
<path d="M111.4 516.8h0M117.2 516.7h0M115.1 517h0M106.6 517.1h0M106.3 517h0M106.8 516.7h0M113.2 517.4h0M107.8 516.8h0M116.8 517.5h0M115.9 517h0M123 516.6h0M120.9 516.9h0M108.2 516.7h0M111.1 517.4h0M108.8 517.2h0M117 517h0" stroke="#888" stroke-width="0.9" stroke-linecap="round" fill="none"/>
<path d="M147.6 516.7h0M126 516.8h0M153.5 517h0M137.3 517.2h0M143.4 516.9h0M158.5 517.3h0M134.2 517.2h0M146.6 517.5h0M155.6 516.9h0M166.7 516.7h0M141.9 517.4h0M130.1 517.1h0M125.1 517.3h0M157.2 517.2h0M162.1 516.9h0M154.1 517.2h0" stroke="#bbb" stroke-width="0.8" stroke-linecap="round" fill="none"/>
<path d="M123.4 492.4h0M131.2 510h0M120.2 499.9h0M107.8 501.3h0M125.4 511.8h0M130.7 486.2h0M117.6 500.1h0M106.7 492.6h0M111 480.2h0M107.8 503.7h0M109.9 484.9h0M117.7 507.4h0M108.4 492.2h0M122.5 507.8h0M130.6 507.1h0M114.4 491h0M116.8 507.8h0M134.7 481.4h0M111.3 484.4h0M113 493.5h0M123.7 485.5h0M106.1 491.1h0" stroke="#888" stroke-width="0.8" stroke-linecap="round" fill="none"/>
<rect x="113.3" y="484.2" width="3.4" height="1.6" fill="#a8a8a8"/>
<rect x="129.3" y="488.7" width="3.4" height="1.6" fill="#a8a8a8"/>
<rect x="128.3" y="504.2" width="3.4" height="1.6" fill="#a8a8a8"/>
<rect x="103.6" y="523.8" width="66" height="43.5" fill="none" stroke="#a4a4a4" stroke-width="0.9"/>
<rect x="123.5" y="528.5" width="14.7" height="16.6" fill="none" stroke="#a0a0a0" stroke-width="0.9"/>
<rect x="123.5" y="545.1" width="14.7" height="22" fill="none" stroke="#b8b8b8" stroke-width="0.8"/>
<line x1="101.6" y1="527.8" x2="103.4" y2="527.8" stroke="#888" stroke-width="0.8"/>
<rect x="99" y="525.2" width="1.3" height="2.6" fill="#a0a0a0"/>
<line x1="101.6" y1="536.67" x2="103.4" y2="536.67" stroke="#888" stroke-width="0.8"/>
<rect x="99" y="534.07" width="1.3" height="2.6" fill="#a0a0a0"/>
<line x1="101.6" y1="545.55" x2="103.4" y2="545.55" stroke="#888" stroke-width="0.8"/>
<rect x="99" y="542.95" width="1.3" height="2.6" fill="#a0a0a0"/>
<line x1="101.6" y1="554.42" x2="103.4" y2="554.42" stroke="#888" stroke-width="0.8"/>
<rect x="99" y="551.82" width="1.3" height="2.6" fill="#a0a0a0"/>
<line x1="101.6" y1="563.3" x2="103.4" y2="563.3" stroke="#888" stroke-width="0.8"/>
<rect x="99" y="560.7" width="1.3" height="2.6" fill="#a0a0a0"/>
<rect x="110.12" y="570.3" width="2.8" height="1.4" fill="#999"/>
<line x1="111.52" y1="567.3" x2="111.52" y2="568.8" stroke="#999" stroke-width="0.6"/>
<rect x="128.6" y="570.3" width="2.8" height="1.4" fill="#999"/>
<line x1="130" y1="567.3" x2="130" y2="568.8" stroke="#999" stroke-width="0.6"/>
<rect x="145.76" y="570.3" width="2.8" height="1.4" fill="#999"/>
<line x1="147.16" y1="567.3" x2="147.16" y2="568.8" stroke="#999" stroke-width="0.6"/>
<rect x="161.6" y="570.3" width="2.8" height="1.4" fill="#999"/>
<line x1="163" y1="567.3" x2="163" y2="568.8" stroke="#999" stroke-width="0.6"/>
<path d="M112.2 568.7h0M122.6 568.8h0M114.8 568.7h0M117.6 568.2h0M121.6 568.9h0M121.2 568.9h0M112.6 568.5h0M107.4 568.7h0M106.7 568.2h0M109.3 568.3h0M111.7 568.2h0M105.6 568.3h0M107.4 568.5h0M106.1 569h0M116.5 568.2h0M110.1 568.4h0" stroke="#888" stroke-width="0.9" stroke-linecap="round" fill="none"/>
<path d="M139.5 568.2h0M160.9 569.1h0M144 568.6h0M127.2 568.2h0M138.5 568.4h0M160 568.3h0M124.4 569.1h0M146.7 568.2h0M147.4 568.1h0M146.7 569.1h0M161.6 568.8h0M134.9 568.5h0M130.8 568.9h0M146.9 568.9h0M138 568.3h0M159.3 569.1h0" stroke="#bbb" stroke-width="0.8" stroke-linecap="round" fill="none"/>
<g filter="url(#bl)">
<path d="M116.8 529.6h0M115.8 529.3h0M114.5 546.8h0M113.6 540.2h0M116.1 539.9h0M113.8 549h0M116.7 537.1h0M121.1 531.5h0M116.4 537.3h0M114.3 543.6h0M114.6 543.2h0M110 529.2h0M115.6 532.7h0M111.3 529.4h0M117.3 543.9h0M117.8 532.9h0M114 531.6h0M116 549.3h0M111.7 549.1h0M116.6 537.8h0M108.9 548.1h0M113.7 535.1h0M115 541.7h0M117.9 532.4h0M117 548.7h0M117.8 537.8h0M112.1 545.6h0M114.3 539.8h0M117.7 537.3h0M108 536.5h0M109.2 544.3h0M114.8 535h0M114 544.4h0M114.2 547.6h0M113.8 545.8h0M117.9 549.5h0M112.3 544.7h0M109.1 532h0M108.9 545.9h0M110.8 538.9h0M113.5 538.8h0M112.5 540.5h0M118.7 539.3h0M115.4 545.5h0M113.5 530.8h0M112.6 546h0M109.7 535.1h0M116.6 544.2h0M114 544.2h0M114.4 531.3h0M109.9 534.8h0M116.4 535.3h0M111.7 534h0M110 538.2h0M110.9 541.4h0M107.9 541.1h0M115.9 537.2h0M108.2 533.3h0M114.8 536h0M116 543.9h0M115.7 541.1h0M117.5 543.3h0M116.3 547.5h0M113.2 535.9h0M119 527.6h0M111.6 543.5h0M118.9 538.2h0M115.5 544.9h0M111.6 538.4h0M114.8 544.4h0M113.9 537.7h0M111.4 536.7h0M116.3 539.7h0M111.8 533.5h0M120.9 546.4h0M115.6 542.1h0M118.4 541.8h0M113.8 542.4h0M108.9 545.7h0M114.8 534.4h0M117.4 550.8h0M110.4 534.7h0M114.8 540.2h0M113 532.7h0M119.5 545.7h0M110.9 530.3h0M118.4 545.4h0M118.7 544.3h0M111.7 540.7h0M108.4 534.1h0M113.8 542.4h0M112.1 538.2h0M115.2 541.4h0M115.7 540.4h0M113.2 544.1h0M114.1 533.6h0M112.4 539h0M113.7 540h0M114 540.1h0M113.7 530.8h0M115.1 545.8h0M115.1 537.8h0M115.2 532.7h0M109.1 539.4h0M111.6 543.8h0M111.3 549.3h0M113 530.1h0M112 542.4h0M115.3 540.1h0M117.9 543.6h0M113.9 542.9h0M118.3 545.3h0M116.7 532h0M113.6 543.7h0M113.2 545.9h0M115.6 544.9h0M117.2 537.6h0M113.1 544.7h0M116.5 539h0M111 540.2h0M114.9 546.3h0M116 539.2h0M116.2 542.5h0M114.5 539.4h0M113.4 543.5h0M111.3 534.9h0M114 529.5h0M112.2 542.7h0M115.5 538.6h0M113.4 529.8h0M118.8 542.4h0M116.8 533.3h0M113.5 527.2h0M116 545.1h0M109.1 538.7h0M115.6 527.5h0M109.3 532.1h0M112.4 529.9h0M114.1 540.6h0M115.6 543.6h0M117.9 546.6h0M110.6 535.7h0M111.2 532h0M113.8 539h0M115.3 528.7h0M110.8 538.8h0M113.5 537h0M113.8 534.1h0M115.8 541.3h0M113.8 534.6h0M111.4 539.2h0M110.1 540.3h0M114.4 530h0M113.3 537h0M115.2 543h0M113.9 533.5h0M113.6 538.6h0M115.9 540.9h0M112.1 530.2h0M113 534.2h0M111.1 538.2h0M112.7 539.7h0M115.4 536.3h0M120 536.9h0M116.9 539.8h0M112 540.6h0M114.8 547.3h0M116 545.2h0M115.3 538h0M115.3 532h0" stroke="#333" stroke-width="1" stroke-linecap="round" fill="none"/>
<path d="M128.1 553.4h0M119.7 558.1h0M128 558.1h0M116.2 559.2h0M124.5 561.2h0M116.4 565.9h0M131 558.1h0M122.6 556.1h0M129.5 554.8h0M125 555.8h0M116.8 561.2h0M129 558h0M116.9 561.7h0M120.7 559.4h0M130.1 563.1h0M121 561.5h0M117.1 557.8h0M129.2 552.5h0M112 550.7h0M128.1 555.9h0M120.6 556.6h0M120.3 553.1h0M121.1 551.5h0M120.6 559.4h0M123.8 557h0M115.6 558.7h0M118.1 565h0M125.6 557.5h0M118.2 554.8h0M115.4 556.4h0M122.8 560.3h0M116.8 558.1h0M137.8 549.6h0M117.9 558.8h0M121.9 559.8h0M119.6 559.6h0M121.3 561.5h0M109.6 554h0M121 553.4h0M114.7 560.8h0M117.1 560.9h0M125.5 559.4h0M124 557.5h0M112.5 557.9h0M123.7 555.6h0M120.4 561.4h0M115.7 560.9h0M132.2 555.5h0M121.9 557.3h0M130.2 559.4h0M126.4 554.9h0M120.9 558h0M110.3 564.5h0M126.4 550.1h0M125.5 557.4h0M123.7 559.6h0M112 557h0M130 555.4h0M114.9 551.9h0M113.7 559.5h0M131.2 559.9h0M117.9 555h0M124.2 560.5h0M114.9 552.7h0M122.7 559.1h0M113.2 557.1h0M117.7 560.1h0M120.3 557.6h0M118.9 562.7h0M129.3 556.3h0" stroke="#666" stroke-width="0.9" stroke-linecap="round" fill="none"/>
</g>
<g filter="url(#bl)">
<ellipse cx="114.5" cy="556.5" rx="5.44" ry="8.16" fill="#000"/>
<path d="M116.8 553.4h0M114.7 559.5h0M118.6 555h0M114.3 557.3h0M110.5 556.6h0M112.7 558h0M111.5 548.5h0M114.6 557.6h0M113 560.1h0M113.8 554.1h0M115.8 550.2h0M112.7 556.4h0M116.8 555.8h0M115.3 553.9h0M115.3 563.2h0M112.7 566h0M112.8 556.6h0M115 560.6h0M111.2 548h0M116.1 559.7h0M116.2 567.1h0M115.1 557.5h0M117 558h0M119 551.5h0M113.5 542.6h0M116.7 555h0M117 565.2h0M114.5 555.5h0M113.2 553.1h0M112.8 559.1h0M114.6 556.8h0M114 560.2h0M115.8 555.9h0M116.3 555.9h0M111.4 562.4h0M115.8 552.6h0M117.4 557.9h0M110.3 563h0M115.4 560.1h0M115 555.9h0M110.3 560.4h0M114.6 555.3h0M115.4 556.8h0M116.3 555h0M114.4 547.9h0M113.4 559.2h0M118.1 555h0M114.2 562.9h0M113.6 559.5h0M119 556.7h0M117.8 553.6h0M115.1 556.2h0M114.8 561.1h0M120.9 553.8h0M113 558.5h0M111.7 558.5h0M116 555.4h0M115.9 550.3h0M116.5 550.3h0M112.6 554.3h0M113.4 560h0M114.7 554.9h0M116 562.9h0M114.5 558h0M117.8 557.6h0M111 566.5h0M120.4 548.5h0M114.4 558.2h0M117.1 559.2h0M113.8 552.3h0M114.8 560.7h0M111.6 552.4h0M114.4 548.7h0M113.8 554.7h0M115.7 553.7h0M112.1 554.9h0M114.4 553.8h0M114.5 559.5h0M117.7 563.4h0M112.4 554.8h0M107.8 564.2h0M112.6 556.4h0M115.9 551h0M115.7 556.4h0M109.6 557.7h0M117.7 549h0M116.7 557.3h0M115.8 558.3h0M118 555.6h0M116.8 554.8h0M116.5 553.2h0M114.2 563.5h0M115.7 555.9h0M111.4 553.3h0M115 560.3h0M115.6 558.6h0M114.4 562h0M113.4 554.3h0M116.9 556.8h0M113.8 554.2h0M113.8 559h0M115.5 551.6h0M115.6 557.2h0M111.8 559.6h0M113.7 555.1h0M116.6 561.8h0M112.6 558.3h0M112.1 565.8h0M113.2 561.3h0M112.8 559.8h0M120.5 546.3h0M113.3 558.5h0M114.3 553.8h0M120.3 556.8h0M110.1 559.9h0M109.9 561.1h0M112.9 557.1h0M117.9 557h0M110.8 549.7h0M117.7 559.5h0M112.3 560h0M115.8 559.1h0M108.4 555.3h0M116.9 559.5h0M116.9 546.6h0M115 558.5h0M121.4 552.7h0M113.6 556.6h0M116.9 554.7h0M117.6 553.3h0M115.2 554.4h0M114.9 553.7h0M110.2 560.9h0M115.3 554.2h0M115 560.5h0M111.9 556.1h0M115.9 558.6h0M113.6 548h0M117.8 557.8h0M114.5 555.4h0M115.2 554.8h0M111.7 553.5h0M112.9 554h0M111.4 559.1h0M111 559.2h0M111.8 557.9h0M118.2 557.3h0M112.5 556.7h0M114.9 549.5h0M112.9 557.2h0M113.2 556.8h0M116.5 559.6h0M116.9 558.9h0M113.7 556.4h0M113.8 555.2h0M114 549.5h0M113.6 556.4h0M111.9 556.4h0M115.9 555.8h0M120.1 546h0M113.9 549.1h0M117.1 567.2h0M107.8 557h0M115.9 555.3h0M116 547.5h0M116.8 558h0M114.6 554.1h0M116.2 554.5h0M115.1 554.4h0M108.5 556.4h0M115 559.5h0M112.1 556.4h0M116.2 557.1h0M117.8 564.5h0M112.1 548.8h0M116.8 562.7h0M117 559.8h0M112.8 553.6h0M116.9 552.8h0M109.6 552.5h0M121.2 564.3h0M112.7 553.6h0M115.1 553.5h0M118 556.2h0M111.6 561.8h0M112.9 557.4h0M114.5 555.2h0M115.4 553.7h0M109.5 547.6h0M111.1 553.4h0M114.4 556.7h0M116 557h0M112.4 553.6h0M108.8 555.8h0M115.8 558.6h0M114.2 555.8h0M117 556.6h0M116.5 558.8h0M115.1 561.8h0M113 555.1h0M112.3 553.3h0M118.7 563.6h0M114.6 558.8h0M117.7 559.8h0M117.7 551.4h0M112.8 558.3h0M118.4 556.9h0M112.2 555.1h0M112.7 553h0M118.5 554h0M114.6 565.2h0M117.7 557.9h0M112.9 558.2h0M118.9 559h0M117.9 556.9h0M115.9 555.7h0M115.6 561.7h0M110.7 556.2h0M115.1 554.2h0M113.7 559.7h0" stroke="#000" stroke-width="1" stroke-linecap="round" fill="none"/>
</g>
<g filter="url(#bl)">
<ellipse cx="114.2" cy="548" rx="2.8" ry="4.2" fill="#000"/>
<path d="M117.6 549.6h0M114.7 544.1h0M117.4 548.2h0M114.1 545.2h0M114.1 545.2h0M114.3 549.2h0M114.3 548.7h0M112.8 551.6h0M113.1 543.4h0M113.9 546.1h0M112.5 547.1h0M114.7 545h0M114 551.6h0M115.3 547.6h0M114.4 547.7h0M114.1 549.8h0M114 541.9h0M114.2 545.8h0M115.3 546.5h0M114.4 553.5h0M112.4 545.2h0M111.8 542h0M111 548.9h0M113.1 543.3h0M111.7 549.6h0M112.9 547.1h0M114.8 551.4h0M117.5 550.6h0M114.4 548.5h0M117.2 551.6h0M113.7 549.2h0M114.7 548.1h0M113.4 544.7h0M113.3 544.1h0M116.3 549.4h0M112.2 551.5h0M115.7 543.2h0M117.3 550h0M117.7 544.9h0M115.1 549.1h0M114.5 548.4h0M116 544.2h0M112.1 544.5h0M113.3 546.5h0M114.8 548.7h0M114.3 546.3h0M113.5 550.4h0M115.5 548.3h0M113.7 551.9h0M113.2 549.6h0M116.1 547.3h0M115.6 545.2h0M115.9 548.5h0M111.5 549.7h0M112.7 551.2h0M113.1 547.6h0M114.7 547.2h0M114.6 546.6h0M115.3 548h0M114.6 541.1h0" stroke="#000" stroke-width="1" stroke-linecap="round" fill="none"/>
</g>
<rect x="128.8" y="534.2" width="3.4" height="1.6" fill="#a8a8a8"/>
<line x1="103.6" y1="576.9" x2="169.6" y2="576.9" stroke="#a8a8a8" stroke-width="1.8"/>
<line x1="123.4" y1="585.8" x2="137.2" y2="585.8" stroke="#999" stroke-width="1.3"/>
<rect x="103.6" y="604.6" width="34.2" height="13.4" fill="none" stroke="#555" stroke-width="0.9"/>
<line x1="101.6" y1="581" x2="103.4" y2="581" stroke="#888" stroke-width="0.8"/>
<rect x="99" y="578.4" width="1.3" height="2.6" fill="#a0a0a0"/>
<line x1="101.6" y1="589.25" x2="103.4" y2="589.25" stroke="#888" stroke-width="0.8"/>
<rect x="99" y="586.65" width="1.3" height="2.6" fill="#a0a0a0"/>
<line x1="101.6" y1="597.5" x2="103.4" y2="597.5" stroke="#888" stroke-width="0.8"/>
<rect x="99" y="594.9" width="1.3" height="2.6" fill="#a0a0a0"/>
<line x1="101.6" y1="605.75" x2="103.4" y2="605.75" stroke="#888" stroke-width="0.8"/>
<rect x="99" y="603.15" width="1.3" height="2.6" fill="#a0a0a0"/>
<line x1="101.6" y1="614" x2="103.4" y2="614" stroke="#888" stroke-width="0.8"/>
<rect x="99" y="611.4" width="1.3" height="2.6" fill="#a0a0a0"/>
<rect x="110.12" y="621.2" width="2.8" height="1.4" fill="#999"/>
<line x1="111.52" y1="618.2" x2="111.52" y2="619.7" stroke="#999" stroke-width="0.6"/>
<rect x="128.6" y="621.2" width="2.8" height="1.4" fill="#999"/>
<line x1="130" y1="618.2" x2="130" y2="619.7" stroke="#999" stroke-width="0.6"/>
<rect x="145.76" y="621.2" width="2.8" height="1.4" fill="#999"/>
<line x1="147.16" y1="618.2" x2="147.16" y2="619.7" stroke="#999" stroke-width="0.6"/>
<rect x="161.6" y="621.2" width="2.8" height="1.4" fill="#999"/>
<line x1="163" y1="618.2" x2="163" y2="619.7" stroke="#999" stroke-width="0.6"/>
<path d="M105.7 619.5h0M114.3 619.8h0M108.9 619.5h0M111.8 619.8h0M110.2 619.9h0M110.7 619.2h0M118.1 619.5h0M107.6 619.6h0M107 619.8h0M118 619.8h0M116.8 619.4h0M112.7 619.4h0M121.4 619.1h0M121.4 619h0M109.3 619.3h0M121.6 619.5h0" stroke="#888" stroke-width="0.9" stroke-linecap="round" fill="none"/>
<path d="M140.2 619.9h0M133.7 619.5h0M146.9 619.8h0M156.7 619.6h0M138.8 619.3h0M130.3 619.8h0M152.7 619.7h0M130.9 619.4h0M157.6 619.6h0M129 619.5h0M162.5 619.2h0M131.9 619.3h0M154.5 619.8h0M130.2 619.2h0M134.3 619.3h0M146.5 619.2h0" stroke="#bbb" stroke-width="0.8" stroke-linecap="round" fill="none"/>
<path d="M116.6 583.8h0M129.5 594.6h0M112 599.2h0M112 587.7h0M129.7 595.9h0M124.7 588.7h0M113.9 592.8h0M112.1 584.1h0M117.8 580.7h0M118 595.8h0" stroke="#999" stroke-width="0.8" stroke-linecap="round" fill="none"/>
<g filter="url(#bl)">
<ellipse cx="124" cy="612.6" rx="8.35" ry="3.02" fill="#000"/>
<path d="M121.9 610.6h0M120.2 611.1h0M128.4 614.6h0M117.1 614.3h0M128.5 611.5h0M116.4 611.2h0M120.8 613.2h0M122.2 608.8h0M125.2 609.8h0M128.6 610.4h0M120.5 611h0M121.2 615h0M128.4 613.7h0M125.6 609.7h0M121.3 611.6h0M119 613.5h0M120.2 611.3h0M118.7 608.8h0M127 615.1h0M124.9 610.8h0M110.2 612.9h0M130.2 613.2h0M128.7 615.3h0M129.8 611.8h0M129.4 614h0M116.1 611.8h0M116.7 612.4h0M127 610.6h0M113.5 615h0M125.9 615.3h0M117.2 614.6h0M134.6 616.3h0M122.9 613.1h0M123.2 614.4h0M129.3 612.8h0M117 614h0M121.6 613.8h0M125.3 615.6h0M129.8 611.8h0M125.8 615.9h0M121.3 613.4h0M130.1 614.9h0M126.7 610.2h0M117.5 613.1h0M126 617.3h0M119.6 614.7h0M127.9 609.5h0M119.8 612.9h0M121.5 612.3h0M126.4 611.1h0M126.4 611.4h0M121.2 613.6h0M121.1 613.1h0M132.2 612.7h0M123.3 614h0M122.1 614.6h0M117.4 613.7h0M121.4 611.1h0M133.1 611h0M133 613.8h0M131.4 610.8h0M130.1 615.3h0M123.4 612.4h0M136.6 612.9h0M121.8 611.4h0M126.3 613.2h0M124.9 615.8h0M122.3 613.5h0M131.5 610.7h0M129.3 616h0M117.1 610.6h0M118.7 609.2h0M126.3 609.2h0M126.6 615.3h0M115.7 612h0M114.2 614h0M120.2 612.1h0M124.3 613.6h0M122.2 612.6h0M121.2 612.8h0M118 612.7h0M114.1 611.7h0M133.8 612.7h0M117.6 613.1h0M119 609.5h0M120.2 614h0M126 612.4h0M119.3 610.6h0M130.9 613.1h0M119.1 608.7h0M117 617.2h0M118.1 612.5h0M125.1 612.3h0M122.6 610.1h0M118.6 615.7h0M120.1 614.2h0M115.3 612.1h0M125.3 614.5h0M118.3 613.7h0M126 611.2h0M126.4 610.9h0M119.9 612.6h0M110.1 612.4h0M118.9 609.9h0M121.8 614h0M121.9 614.9h0M118.1 610.2h0M131.9 613.3h0M128.8 611.1h0M128.1 613.1h0M127.3 612.6h0M130.2 611.4h0M119.1 609.9h0M129.9 611.2h0M118.7 610.9h0M121.7 610.2h0M122.5 611.4h0M121.2 610.8h0M124.2 611.7h0M124.6 613.1h0M125.7 608.5h0M121.3 611.1h0M128 609.7h0M120.3 612.1h0M122.3 614.4h0M121.7 614.4h0M116.5 609.2h0M130.2 613.4h0M126.5 612.8h0M126.5 610.3h0M128.9 611.6h0M129 612.8h0M113.9 610.2h0M129.8 612.3h0M122 613h0M121.8 611.6h0M124.5 612.9h0M131.8 612.7h0M133.6 615.9h0M132.8 614.6h0M124.7 612.9h0M123.3 611.2h0M123.7 611.4h0M132.4 613.6h0M121.7 609.1h0M123.7 611.8h0M118.4 610.5h0M112.5 613.7h0M123.7 617.4h0M123.8 612.3h0M131.4 612.8h0M124.9 611.9h0M120.9 615.4h0M129.1 615.8h0M122.2 612.7h0M119.5 614.4h0M116.9 613.6h0M129.6 615.2h0M119.2 614.6h0M120.3 611.2h0M117.2 614.7h0M132.4 611.5h0M120.1 612h0M136.8 614.5h0M121.2 609.3h0M120.6 614.8h0M133.6 612.1h0M120.5 611.7h0M114.4 614.3h0M118.4 614.6h0M115.3 610.2h0M125.5 611.2h0M128 612.6h0M118 613.8h0M128.3 609.1h0M133.3 613.5h0M127.9 609.2h0M120.3 612h0M129.5 609.9h0M119.5 608.8h0M122.8 613.2h0M115.4 611.5h0M126.6 615.5h0M127.4 612h0M118 610.9h0M120.6 612.9h0M123.7 615.7h0M125.5 610.6h0M131.9 614.4h0M124.5 611.3h0M114.4 610.7h0M128.7 611.1h0M117.2 613h0M125.2 613.7h0M127.4 615.2h0M119.7 614.4h0M118.9 613.9h0M124.9 613.1h0M129 612.6h0M129.7 614.2h0M124.7 611.6h0M120.1 611.6h0M123 612.6h0M139.2 613.8h0M127.9 611h0M120.4 612h0M125 610.7h0M132.2 611.6h0M129.5 608.3h0M124 613.1h0M125 613.7h0M125.4 612.9h0M114.3 611.3h0M112 613.8h0M125.6 612.2h0M119.8 611.5h0M133.4 615.8h0M123.7 615h0M115.9 609h0M121.5 611h0M121.1 612.9h0M139.5 611.4h0M124.3 613.1h0M123.8 614.3h0M133.1 610.3h0M124.8 612.1h0M125.8 609.8h0M115 608.3h0M126.7 613h0M124.4 608.2h0M122.1 611.2h0M116.8 610.9h0M127.6 613.6h0M123.9 613.6h0M120.9 612.7h0M124.2 613.6h0M123.6 612.3h0M123.3 611.4h0M135.4 613.6h0M126.2 616.8h0M131.2 609.7h0M127.6 614.2h0M133.6 615h0M127.9 610.4h0M119.5 613.1h0M126.6 610.7h0M122 611.9h0M124.3 613.2h0M122.5 610.3h0M130.4 615.6h0M123.5 614.5h0M126.3 613.8h0M126.5 611.2h0M126.9 614.5h0M119.4 616.2h0M134.7 616h0M134.2 614h0M122.3 611.5h0M119.8 612.8h0M123.8 613.8h0" stroke="#000" stroke-width="1" stroke-linecap="round" fill="none"/>
</g>
<rect x="126.3" y="589.2" width="3.4" height="1.6" fill="#a8a8a8"/>
<rect x="103.6" y="628.9" width="66" height="42.4" fill="none" stroke="#a4a4a4" stroke-width="0.9"/>
<line x1="103.6" y1="629" x2="169.6" y2="629" stroke="#999" stroke-width="1.4"/>
<polyline points="122.2,628.9 122.2,656.6" fill="none" stroke="#888888" stroke-width="0.9"/>
<rect x="122.2" y="638.2" width="15.6" height="18.4" fill="none" stroke="#888888" stroke-width="0.9"/>
<line x1="103.6" y1="656.6" x2="137.8" y2="656.6" stroke="#666" stroke-width="1"/>
<rect x="119.4" y="656.6" width="18.4" height="13.4" fill="none" stroke="#888888" stroke-width="0.9"/>
<line x1="101.6" y1="633" x2="103.4" y2="633" stroke="#888" stroke-width="0.8"/>
<rect x="99" y="630.4" width="1.3" height="2.6" fill="#a0a0a0"/>
<line x1="101.6" y1="641.58" x2="103.4" y2="641.58" stroke="#888" stroke-width="0.8"/>
<rect x="99" y="638.98" width="1.3" height="2.6" fill="#a0a0a0"/>
<line x1="101.6" y1="650.15" x2="103.4" y2="650.15" stroke="#888" stroke-width="0.8"/>
<rect x="99" y="647.55" width="1.3" height="2.6" fill="#a0a0a0"/>
<line x1="101.6" y1="658.72" x2="103.4" y2="658.72" stroke="#888" stroke-width="0.8"/>
<rect x="99" y="656.12" width="1.3" height="2.6" fill="#a0a0a0"/>
<line x1="101.6" y1="667.3" x2="103.4" y2="667.3" stroke="#888" stroke-width="0.8"/>
<rect x="99" y="664.7" width="1.3" height="2.6" fill="#a0a0a0"/>
<rect x="110.12" y="674.3" width="2.8" height="1.4" fill="#999"/>
<line x1="111.52" y1="671.3" x2="111.52" y2="672.8" stroke="#999" stroke-width="0.6"/>
<rect x="128.6" y="674.3" width="2.8" height="1.4" fill="#999"/>
<line x1="130" y1="671.3" x2="130" y2="672.8" stroke="#999" stroke-width="0.6"/>
<rect x="145.76" y="674.3" width="2.8" height="1.4" fill="#999"/>
<line x1="147.16" y1="671.3" x2="147.16" y2="672.8" stroke="#999" stroke-width="0.6"/>
<rect x="161.6" y="674.3" width="2.8" height="1.4" fill="#999"/>
<line x1="163" y1="671.3" x2="163" y2="672.8" stroke="#999" stroke-width="0.6"/>
<path d="M112.1 673.1h0M123.4 673h0M107.3 672.4h0M121.6 672.2h0M118.5 672.4h0M123 672.1h0M120 672.4h0M108.1 672.1h0M120.4 672.6h0M108.9 672.5h0M121.8 672.3h0M115.8 672.2h0M108.8 672.9h0M118.3 672.3h0M107 672.2h0M116.4 672.6h0" stroke="#888" stroke-width="0.9" stroke-linecap="round" fill="none"/>
<path d="M135.5 672.3h0M150.5 672.8h0M159.3 672.7h0M132.3 672.2h0M155.8 672.5h0M155.3 672.2h0M159.2 672.4h0M160.6 673h0M145.2 672.1h0M163.6 672.6h0M161.9 672.4h0M131.6 672.9h0M139.6 672.3h0M139.8 672.7h0M123.6 672.6h0M143.1 672.6h0" stroke="#bbb" stroke-width="0.8" stroke-linecap="round" fill="none"/>
<g filter="url(#bl)">
<ellipse cx="122.4" cy="665.6" rx="8.78" ry="3.02" fill="#000"/>
<path d="M128.6 667.6h0M126.8 662.2h0M118.7 668.2h0M115.8 667.7h0M132.5 667h0M128.4 665h0M115.8 665.4h0M121.3 665.5h0M126.1 665.3h0M123.4 666.4h0M122.4 669h0M124.8 665.8h0M121.3 664.4h0M129.6 665.9h0M116.6 664.6h0M121.7 664.8h0M128.2 663.4h0M125 665.9h0M116.1 665.7h0M121.9 666.5h0M120 666.2h0M113.4 663.6h0M126.6 667.5h0M122.3 664.5h0M128.2 661.7h0M118.1 666.8h0M125.9 663.7h0M112.2 668.3h0M123.2 663.9h0M122.7 667.3h0M108.5 667.7h0M126.4 661.7h0M126.5 662.3h0M128.5 666.3h0M134.5 664.5h0M122.4 667.5h0M119 664.3h0M120.4 665.5h0M116.6 666.5h0M125.3 665.7h0M131.5 665h0M129.4 664.6h0M126.5 662h0M123.5 665.3h0M119.7 664.5h0M120.5 664.3h0M110.6 664.5h0M119.4 664.6h0M116.7 665.3h0M126.6 665.1h0M119.7 668.1h0M127.7 667.3h0M128.6 665h0M121.7 667.7h0M119.4 665.4h0M124.4 666.3h0M120.9 667.4h0M121.4 666.9h0M128.2 666.8h0M126.3 663.5h0M115.3 664.5h0M125 668.4h0M115.8 666.2h0M117.8 664.2h0M120.9 666.9h0M123.5 667.8h0M117.1 667.2h0M127.4 665.7h0M125 664.6h0M116.5 664.8h0M118.9 671h0M119.8 668.7h0M123.5 666.2h0M126.4 664.2h0M127.3 666.3h0M114.2 666.7h0M125.4 666.4h0M130.9 664.8h0M125.2 667h0M117.6 667.8h0M114.6 663.2h0M125.2 663.6h0M121.8 662.6h0M122.8 663.5h0M124.2 662.8h0M124.8 665.1h0M122.7 665.5h0M123.1 663.2h0M108.6 665.7h0M117.4 664.8h0M124.7 661.9h0M118.3 664.5h0M116.7 666.2h0M121.6 664.1h0M117.1 667.1h0M118.9 666.7h0M124.8 662.1h0M116.6 665.6h0M124.2 667h0M126.7 667.5h0M120.4 665.2h0M126.6 664.8h0M128.1 662.7h0M125.9 665.3h0M111.8 667.4h0M124.1 665.6h0M116.6 664.7h0M130.5 664.1h0M103.7 664h0M115.9 665.4h0M120.3 663.9h0M117.9 667.5h0M114.6 669.2h0M119.5 663.6h0M126.6 666.6h0M116.8 667h0M112.5 663.9h0M128.5 665.1h0M115.4 666.6h0M127.3 665.6h0M112.7 665h0M124.6 667h0M132.4 665.1h0M119.8 665.5h0M128.9 663.9h0M129.4 660.5h0M126.7 664.3h0M124.9 666.9h0M116 665.4h0M123.7 666.7h0M117.4 663.8h0M112 670.3h0M121.4 665.2h0M114.4 667.3h0M119.5 668.3h0M127 665.6h0M126.3 663.5h0M120.6 664.5h0M115.6 665.6h0M121.6 668.3h0M104.4 664.4h0M117.5 664.7h0M124.7 666.3h0M122.6 664.7h0M125.1 666.3h0M112.5 665.1h0M115 663.4h0M123.2 665.7h0M123 664h0M121.3 663.9h0M124.5 666.9h0M131.8 667.9h0M118.1 664.8h0M117.4 666.2h0M133.1 666.9h0M110.6 663.3h0M115.4 666.6h0M122.4 666.2h0M132 664.1h0M117.8 669.2h0M124.2 664.2h0M111.5 662.8h0M109.2 665.7h0M122.6 667.4h0M121.7 664.3h0M118.4 669.1h0M112.9 665.9h0M122.5 666.7h0M120.2 666.5h0M126.8 665.3h0M119.9 665.3h0M117.2 665.2h0M120.8 666h0M129.6 668h0M120 666.7h0M124 667h0M122.5 666.1h0M119.9 664.1h0M127.1 668h0M126 666.4h0M123.8 664.8h0M112.8 666.8h0M123.5 664.6h0M117.2 668h0M112.7 668.9h0M125.8 670h0M118.5 665.6h0M119.7 665.9h0M121.3 664.2h0M128.2 664.1h0M119.7 666.6h0M119.5 664.8h0M124.3 664.9h0M115.7 665.4h0M121.2 668.8h0M116.5 667.4h0M118.2 664.9h0M120.6 666.1h0M127 668.8h0M119 668.1h0M127.8 667.1h0M118.3 667.3h0M121.8 666.3h0M121 666.8h0M128.4 667.7h0M121.3 667.4h0M130.2 663.9h0M130.3 663.1h0M125.3 666.7h0M130.4 666.1h0M119.8 664.1h0M115.7 667h0M121.1 664.3h0M125.3 664.2h0M120 664.8h0M131.3 668.3h0M121.6 662.7h0M123.9 665.7h0M124.3 666.6h0M120.7 667.3h0M126.9 666h0M120.2 664.7h0M126.1 663.6h0M121.5 664.2h0M114.9 666.7h0M122.3 665.7h0M127.1 662.8h0M122 666.1h0M126.9 663.6h0M126.3 666h0M129.7 667.7h0M125.4 669.6h0M122.4 664.8h0M120.6 663.9h0M122.2 662.1h0M121.9 666.4h0M127.7 665h0M129.9 664.4h0M121.7 662.1h0M118.3 664.1h0M130.2 666.6h0M116.6 666.6h0M124.9 665.2h0M122.5 665h0M119.6 662.4h0M121.9 667.9h0M129.9 665.1h0M118.5 665.2h0M127.1 666.2h0M119.3 666.3h0M121.3 666.5h0M120.3 662.9h0M122.7 667h0M116.6 665.4h0M127 664.9h0M119 669.3h0M126.8 667.5h0M117.4 668.5h0M113.7 664.7h0M126.3 668h0" stroke="#000" stroke-width="1" stroke-linecap="round" fill="none"/>
</g>
<rect x="111.3" y="641.2" width="3.4" height="1.6" fill="#a8a8a8"/>
<rect x="128.3" y="644.2" width="3.4" height="1.6" fill="#a8a8a8"/>
<rect x="103.6" y="684.9" width="66" height="43.9" fill="none" stroke="#a4a4a4" stroke-width="0.9"/>
<line x1="103.6" y1="685" x2="122.2" y2="685" stroke="#888" stroke-width="1.5"/>
<polyline points="122.2,684.9 122.2,713.7" fill="none" stroke="#888888" stroke-width="0.9"/>
<rect x="122.9" y="694.2" width="14.9" height="19.2" fill="none" stroke="#666" stroke-width="1"/>
<line x1="103.6" y1="713.7" x2="137.8" y2="713.7" stroke="#999" stroke-width="1.3"/>
<rect x="119.1" y="713.7" width="18.7" height="10.1" fill="none" stroke="#888888" stroke-width="0.9"/>
<line x1="101.6" y1="689" x2="103.4" y2="689" stroke="#888" stroke-width="0.8"/>
<rect x="99" y="686.4" width="1.3" height="2.6" fill="#a0a0a0"/>
<line x1="101.6" y1="697.95" x2="103.4" y2="697.95" stroke="#888" stroke-width="0.8"/>
<rect x="99" y="695.35" width="1.3" height="2.6" fill="#a0a0a0"/>
<line x1="101.6" y1="706.9" x2="103.4" y2="706.9" stroke="#888" stroke-width="0.8"/>
<rect x="99" y="704.3" width="1.3" height="2.6" fill="#a0a0a0"/>
<line x1="101.6" y1="715.85" x2="103.4" y2="715.85" stroke="#888" stroke-width="0.8"/>
<rect x="99" y="713.25" width="1.3" height="2.6" fill="#a0a0a0"/>
<line x1="101.6" y1="724.8" x2="103.4" y2="724.8" stroke="#888" stroke-width="0.8"/>
<rect x="99" y="722.2" width="1.3" height="2.6" fill="#a0a0a0"/>
<rect x="110.12" y="731.8" width="2.8" height="1.4" fill="#999"/>
<line x1="111.52" y1="728.8" x2="111.52" y2="730.3" stroke="#999" stroke-width="0.6"/>
<rect x="128.6" y="731.8" width="2.8" height="1.4" fill="#999"/>
<line x1="130" y1="728.8" x2="130" y2="730.3" stroke="#999" stroke-width="0.6"/>
<rect x="145.76" y="731.8" width="2.8" height="1.4" fill="#999"/>
<line x1="147.16" y1="728.8" x2="147.16" y2="730.3" stroke="#999" stroke-width="0.6"/>
<rect x="161.6" y="731.8" width="2.8" height="1.4" fill="#999"/>
<line x1="163" y1="728.8" x2="163" y2="730.3" stroke="#999" stroke-width="0.6"/>
<path d="M116.3 730.1h0M119.2 730.4h0M107.6 729.9h0M112 729.8h0M106.7 729.9h0M109.1 730.3h0M113.6 729.7h0M111.4 730.1h0M112.1 729.8h0M106.9 729.6h0M123.3 730.4h0M107.1 730.3h0M123 730.2h0M107.5 730.1h0M113.3 729.8h0M115.3 729.6h0" stroke="#888" stroke-width="0.9" stroke-linecap="round" fill="none"/>
<path d="M164 730.2h0M151.1 730.5h0M152.2 729.9h0M134.3 729.7h0M124.6 730.4h0M160.5 729.9h0M131.6 730.2h0M160.8 730.5h0M130.8 730.4h0M160.1 730.3h0M137.8 729.8h0M159.9 729.9h0M139.7 730.2h0M139.7 730.4h0M134 729.6h0M148.5 730.2h0" stroke="#bbb" stroke-width="0.8" stroke-linecap="round" fill="none"/>
<path d="M112.7 689.2h0M116 689.3h0M108.1 692.1h0M112.2 693.4h0M110.1 691.6h0M110.4 690.9h0M104.8 693.8h0M111.6 692.3h0M109.5 692.5h0M111 691.9h0M113.7 688.7h0M111.6 690h0M110.2 694.9h0M108.4 691.8h0M109.6 693.8h0M108.6 688.8h0M112.2 691.3h0M110.2 694.1h0" stroke="#666" stroke-width="0.8" stroke-linecap="round" fill="none"/>
<path d="M122.3 701.2h0M111.7 691.2h0M115.4 705.5h0M134.2 722.5h0M131.1 725h0M133.9 711.6h0M129.5 690.3h0M125.6 711.1h0M114.6 709.7h0M133.6 706.3h0" stroke="#aaa" stroke-width="0.8" stroke-linecap="round" fill="none"/>
<rect x="112.3" y="699.2" width="3.4" height="1.6" fill="#a8a8a8"/>
<rect x="129.3" y="701.2" width="3.4" height="1.6" fill="#a8a8a8"/>
<rect x="128.3" y="717.2" width="3.4" height="1.6" fill="#a8a8a8"/>
<line x1="196" y1="472.5" x2="262.2" y2="472.5" stroke="#999" stroke-width="1.4"/>
<line x1="196.5" y1="472.5" x2="196.5" y2="515.5" stroke="#c4c4c4" stroke-width="0.8"/>
<line x1="196.5" y1="515.5" x2="262.2" y2="515.5" stroke="#d0d0d0" stroke-width="0.8"/>
<rect x="197.5" y="481.4" width="18" height="17.2" fill="none" stroke="#555" stroke-width="1"/>
<polyline points="215.5,476.8 215.5,487.2 247.2,487.2" fill="none" stroke="#888888" stroke-width="0.9"/>
<polyline points="247.2,476.8 247.2,515.2" fill="none" stroke="#888888" stroke-width="0.9"/>
<polyline points="220.6,515.2 220.6,500.6 247.2,500.6" fill="none" stroke="#888888" stroke-width="0.9"/>
<line x1="194" y1="476.5" x2="195.8" y2="476.5" stroke="#888" stroke-width="0.8"/>
<rect x="191.4" y="473.9" width="1.3" height="2.6" fill="#a0a0a0"/>
<line x1="194" y1="485.38" x2="195.8" y2="485.38" stroke="#888" stroke-width="0.8"/>
<rect x="191.4" y="482.77" width="1.3" height="2.6" fill="#a0a0a0"/>
<line x1="194" y1="494.25" x2="195.8" y2="494.25" stroke="#888" stroke-width="0.8"/>
<rect x="191.4" y="491.65" width="1.3" height="2.6" fill="#a0a0a0"/>
<line x1="194" y1="503.12" x2="195.8" y2="503.12" stroke="#888" stroke-width="0.8"/>
<rect x="191.4" y="500.52" width="1.3" height="2.6" fill="#a0a0a0"/>
<line x1="194" y1="512" x2="195.8" y2="512" stroke="#888" stroke-width="0.8"/>
<rect x="191.4" y="509.4" width="1.3" height="2.6" fill="#a0a0a0"/>
<rect x="202.54" y="518.5" width="2.8" height="1.4" fill="#999"/>
<line x1="203.94" y1="515.5" x2="203.94" y2="517" stroke="#999" stroke-width="0.6"/>
<rect x="221.08" y="518.5" width="2.8" height="1.4" fill="#999"/>
<line x1="222.48" y1="515.5" x2="222.48" y2="517" stroke="#999" stroke-width="0.6"/>
<rect x="238.29" y="518.5" width="2.8" height="1.4" fill="#999"/>
<line x1="239.69" y1="515.5" x2="239.69" y2="517" stroke="#999" stroke-width="0.6"/>
<rect x="254.18" y="518.5" width="2.8" height="1.4" fill="#999"/>
<line x1="255.58" y1="515.5" x2="255.58" y2="517" stroke="#999" stroke-width="0.6"/>
<path d="M209.6 516.6h0M204.1 517.2h0M198.5 516.5h0M210.1 516.7h0M199.5 517h0M204.6 516.9h0M205.4 516.8h0M208.1 516.7h0M200 516.5h0M213.9 516.8h0M200 517.2h0M202.5 516.4h0M207.5 516.6h0M206.7 516.9h0M202 516.9h0M200 516.8h0" stroke="#888" stroke-width="0.9" stroke-linecap="round" fill="none"/>
<path d="M242 516.4h0M234 516.4h0M235.3 517.2h0M240.3 517h0M249.4 516.4h0M259.8 517h0M220.4 517.1h0M233.2 516.5h0M258.4 516.9h0M250.2 516.4h0M250.3 516.4h0M226.4 516.7h0M216.5 516.9h0M225.3 516.6h0M247.2 516.7h0M255.3 516.9h0" stroke="#bbb" stroke-width="0.8" stroke-linecap="round" fill="none"/>
<path d="M212.1 508.6h0M212.8 511.7h0M201.5 510.5h0M204.1 510.6h0M209.2 511.3h0M200.8 506.7h0M210.1 512.5h0M209.8 503.4h0M208.1 504h0M207.2 511h0M200.7 512.3h0M209.1 505.5h0M201.9 507.5h0M211.6 508.8h0M200.7 503.2h0M200.7 511h0M201.8 508.5h0M203.4 509.9h0M204.7 504.4h0M212.1 508.4h0" stroke="#aaa" stroke-width="0.8" stroke-linecap="round" fill="none"/>
<rect x="204.3" y="489.2" width="3.4" height="1.6" fill="#a8a8a8"/>
<rect x="230.3" y="480.2" width="3.4" height="1.6" fill="#a8a8a8"/>
<rect x="233.3" y="492.7" width="3.4" height="1.6" fill="#a8a8a8"/>
<rect x="232.3" y="506.7" width="3.4" height="1.6" fill="#a8a8a8"/>
<line x1="196" y1="524.5" x2="262.2" y2="524.5" stroke="#999" stroke-width="1.4"/>
<line x1="196.5" y1="524.5" x2="196.5" y2="567.5" stroke="#c4c4c4" stroke-width="0.8"/>
<line x1="196.5" y1="567.5" x2="262.2" y2="567.5" stroke="#d0d0d0" stroke-width="0.8"/>
<rect x="199.1" y="532.6" width="15.8" height="17.7" fill="none" stroke="#666" stroke-width="1"/>
<polyline points="247.5,552.6 247.5,567.5 253.7,567.5" fill="none" stroke="#888888" stroke-width="0.9"/>
<line x1="194" y1="528.5" x2="195.8" y2="528.5" stroke="#888" stroke-width="0.8"/>
<rect x="191.4" y="525.9" width="1.3" height="2.6" fill="#a0a0a0"/>
<line x1="194" y1="537.25" x2="195.8" y2="537.25" stroke="#888" stroke-width="0.8"/>
<rect x="191.4" y="534.65" width="1.3" height="2.6" fill="#a0a0a0"/>
<line x1="194" y1="546" x2="195.8" y2="546" stroke="#888" stroke-width="0.8"/>
<rect x="191.4" y="543.4" width="1.3" height="2.6" fill="#a0a0a0"/>
<line x1="194" y1="554.75" x2="195.8" y2="554.75" stroke="#888" stroke-width="0.8"/>
<rect x="191.4" y="552.15" width="1.3" height="2.6" fill="#a0a0a0"/>
<line x1="194" y1="563.5" x2="195.8" y2="563.5" stroke="#888" stroke-width="0.8"/>
<rect x="191.4" y="560.9" width="1.3" height="2.6" fill="#a0a0a0"/>
<rect x="202.54" y="570.5" width="2.8" height="1.4" fill="#999"/>
<line x1="203.94" y1="567.5" x2="203.94" y2="569" stroke="#999" stroke-width="0.6"/>
<rect x="221.08" y="570.5" width="2.8" height="1.4" fill="#999"/>
<line x1="222.48" y1="567.5" x2="222.48" y2="569" stroke="#999" stroke-width="0.6"/>
<rect x="238.29" y="570.5" width="2.8" height="1.4" fill="#999"/>
<line x1="239.69" y1="567.5" x2="239.69" y2="569" stroke="#999" stroke-width="0.6"/>
<rect x="254.18" y="570.5" width="2.8" height="1.4" fill="#999"/>
<line x1="255.58" y1="567.5" x2="255.58" y2="569" stroke="#999" stroke-width="0.6"/>
<path d="M210.3 569.1h0M214.9 568.3h0M204.1 568.5h0M207 569.2h0M212.3 568.3h0M201.3 569.1h0M210.1 568.7h0M206.5 568.5h0M213.1 568.7h0M213.6 568.9h0M199.4 568.6h0M201.9 569.2h0M208.5 568.3h0M201 568.7h0M206.4 568.9h0M204.9 568.7h0" stroke="#888" stroke-width="0.9" stroke-linecap="round" fill="none"/>
<path d="M216.1 568.9h0M230.7 568.3h0M236.2 569.3h0M217.9 568.4h0M245.6 568.6h0M228 568.8h0M227.5 568.9h0M239.3 569.3h0M259.9 568.3h0M240.7 569.1h0M254.5 569.1h0M243.9 568.9h0M232 568.6h0M251.1 569.2h0M257.5 569h0M229.3 569.1h0" stroke="#bbb" stroke-width="0.8" stroke-linecap="round" fill="none"/>
<g filter="url(#bl)">
<path d="M219.8 538.2 C 222 535, 227 533.3, 232 532.2 C 236 531.3, 239.5 530.8, 240.8 531.8 C 242 534.5, 241.6 538.5, 239.8 541.8 C 237.5 545.5, 234.5 547.5, 231.2 547.6 C 227.5 545.5, 222.5 541.8, 219.8 538.2 Z" fill="#000"/>
<path d="M230.6 535h0M227.6 536.8h0M225.7 538.3h0M235.6 540.8h0M223.7 549.7h0M225.8 539.9h0M231.2 542.3h0M229.3 541.2h0M242.1 539.8h0M225.3 540.7h0M226.8 538.2h0M232 540.7h0M229.5 542.6h0M230 534.7h0M235.6 538.2h0M237.4 537.1h0M234 540.6h0M225.1 544.6h0M221 542.8h0M236.8 541.3h0M234.6 537.7h0M230.9 540.3h0M233.2 542.1h0M229.9 536.9h0M228 541h0M222.2 534.9h0M228.8 537.5h0M229.6 529.8h0M229.2 538.6h0M235.1 532.3h0M229.4 541.2h0M233.6 543.9h0M236.6 535.7h0M234.4 538.3h0M226.8 545.1h0M227.7 536.4h0M228.8 536.4h0M236.3 540.9h0M238.4 541h0M227.7 543.3h0M227.5 537.8h0M230.1 539.6h0M237.3 537.3h0M232.9 539.4h0M224.3 535.5h0M229.8 541h0M232.7 541.3h0M231.3 537.9h0M233.3 535.8h0M223.9 538.3h0M223.4 537.6h0M227 537.5h0M230.8 536.6h0M228.8 533.2h0M231.8 536.3h0M226.7 540.4h0M218.1 538.2h0M231.5 539.9h0M223.1 540.3h0M231.8 535.9h0M234.9 539.3h0M231.1 537.9h0M233.9 539.9h0M237 541.2h0M227.7 538.7h0M235.9 538.2h0M233 541.4h0M230 531h0M231.7 540.3h0M231.7 536.7h0M237.4 539h0M227.7 536.9h0M232.9 535.5h0M225.7 546.8h0M238 543.4h0M238.3 541.7h0M222 543.9h0M237.6 541.3h0M220.6 544.1h0M238.3 537.7h0M231.7 542.4h0M230.5 543.5h0M231.4 542h0M231.5 534.1h0M232.5 544.3h0M237.1 545.8h0M234 537.3h0M231.1 532.4h0M230 542.8h0M219.5 540.2h0M235.4 544.4h0M226.1 537.1h0M221 535.7h0M233.8 547.1h0M224.9 544.6h0M233.3 537.7h0M242.7 530.2h0M230.6 540.3h0M242.4 546.1h0M236.2 544.5h0M233.7 540.8h0M230 538h0M224.4 546.7h0M228.6 531.8h0M232.4 539.4h0M231.9 546.2h0M230.4 538.5h0M227 539.4h0M228.7 540.3h0M226.4 546.6h0M235.6 542.5h0M234.8 542.5h0M234.6 544.7h0M236.4 544.5h0M228.3 539.5h0M227.1 543h0M235.4 537.8h0M234.1 549.2h0M237.6 535.4h0M230.5 541.8h0M230.8 540.9h0M237.3 540.7h0M225.1 542.1h0M230.5 539.9h0M228 534.4h0M224.3 538.2h0M237.1 535.2h0M227.1 541.5h0M218.1 544.5h0M226.9 541.9h0M228.4 540.6h0M231.6 539.5h0M221.2 534.1h0M230.8 544.7h0M228.1 541.5h0M231.9 541.3h0M236.3 534h0M232.5 538.8h0M229.3 536.3h0M226.8 535.7h0M225.1 548.8h0M240.1 539.5h0M235 535.9h0M231.8 544.8h0M230.8 535.8h0M229.7 535.8h0M223.5 538.6h0M228.9 536.5h0M226.3 536.1h0M232.3 544.7h0M229.9 547.8h0M222.3 540.5h0M224.8 538.9h0M231.5 541.6h0M237.1 537.4h0M224.3 538.8h0M232.6 536.9h0M235.8 545.7h0M223.4 540.8h0M236.4 532.4h0M232.1 538.7h0M223.4 544.4h0M232.2 537.7h0M233.4 541.9h0M235.1 541.6h0M233.2 535.1h0M228.7 540h0M229 535.6h0M221.2 540.4h0M231.2 537.3h0M228.8 536.2h0M227 539.1h0M227.5 542h0M230.2 540h0M233.2 544.2h0M234.2 540.3h0M230.1 536.5h0M229.2 542h0M232.2 538.1h0M223.9 533.8h0M232.7 543.3h0M233 534.4h0M229.9 540.3h0M226.1 540.8h0M229.9 536.4h0M224.3 542.5h0M232.9 536.2h0M225.6 542.8h0M234.2 538.4h0M239.5 538.4h0M225.3 543.5h0M230 540.8h0M231.2 535.8h0M224.6 538.8h0M238.5 535.8h0M238.3 540.3h0M225 540.5h0M234 536.2h0M219.6 540.8h0M225.1 541.1h0" stroke="#000" stroke-width="1" stroke-linecap="round" fill="none"/>
<path d="M232.7 545.4h0M235.5 540.2h0M236.9 546.7h0M236.1 541.4h0M238 539.2h0M238.9 547.9h0M241.7 549.4h0M238.4 547h0M237.6 540.8h0M241.2 548h0M236.8 541.5h0M241.3 548.1h0M234.5 548.6h0M242.3 545.9h0M238.5 544.4h0M235.9 550.2h0M237.2 549.1h0M236.7 548.8h0M239.6 542.1h0M234.8 545.7h0M239.6 547.1h0M240.6 540.7h0M238.7 543.6h0M237.8 547.2h0M235.1 545.1h0M234.6 547h0M235.4 544.1h0M238.1 543.5h0M240.4 543.5h0M239.6 547.1h0M234.9 545.2h0M235.4 544.6h0M236.8 553.1h0M236.4 552.1h0M238.6 540.9h0M231.7 548.6h0M232.5 548.8h0M240.1 547.5h0M237 545h0M238.2 544.8h0M236.2 544.6h0M240.4 543.6h0M238.5 541.5h0M235.7 540.7h0M237 548.6h0M238.3 544.1h0M239 544.7h0M238.4 547.1h0M234.2 549h0M237.2 554.7h0M236.9 543.9h0M241.3 548.2h0M242.3 548h0M237 548.8h0M235.5 544.3h0M236.1 545.1h0M239.5 544.1h0M238.3 544.1h0M237 546.7h0M234.8 549.9h0M238 551h0M239.9 548.5h0M237.1 541.8h0M236.9 544.2h0M238.1 544.2h0M240.5 544.2h0M236.9 549.6h0M237.5 541.3h0M238.5 545.2h0M232.3 546.8h0M234.8 543.1h0M238.7 547.2h0M236.8 554.4h0M238.6 543.6h0M238.1 545.5h0M232 539.9h0M234 554h0M237 544.9h0M236.1 549.8h0M237.6 552.6h0M239.5 552.4h0M237.2 547.4h0M236.4 545.3h0M233.2 543.8h0M235.1 543.5h0M240.6 547h0M240.6 549.3h0M239.8 549.9h0M236 549.1h0M236.7 544h0M240.5 554.3h0M235 552.7h0M239.6 542.7h0M238.2 547.4h0M238.4 544.6h0M234.3 546.1h0M239.7 549h0M239.2 550.2h0M235 545.8h0M238.4 549.9h0M237.9 548h0M237.8 554.1h0M232 545.9h0M243.7 546.9h0M232.9 546.5h0M233.9 543.4h0M238.1 552.6h0M238.7 548.6h0M240.1 546.8h0M235.4 545.6h0" stroke="#222" stroke-width="1" stroke-linecap="round" fill="none"/>
<path d="M226.1 556.1h0M219.8 555.9h0M214.6 553.8h0M223.4 555.9h0M224.2 561.3h0M225.9 556.9h0M216.7 553.7h0M226.4 554.3h0M226.7 553.7h0M224.8 556.8h0M230.2 555.8h0M221.7 557.8h0M224.3 562.2h0M222.4 555.3h0M222 558.5h0M225.5 559.1h0M215.3 564.6h0M235.5 556.9h0M216.4 557.5h0M226.6 550.1h0M224.1 552.4h0M226.9 561.3h0M230.5 552.4h0M232.6 559.8h0M221.7 558.5h0M233.5 556h0M223.9 555.3h0M231.2 550.4h0M232.9 554h0M229.8 552h0M218.1 555.2h0M229.2 552h0M227.8 555h0M231.8 556h0M227 556.5h0M235.2 555.9h0M223.8 563.1h0M224.5 559.1h0M219.4 557.6h0M220 552.4h0M215.1 560.5h0M226.7 552.3h0M235.3 554.9h0M221.7 557.8h0M216.9 552h0M219.3 560.6h0M230 552.1h0M231.5 557.1h0M227.1 557.2h0M226.6 553.9h0M218.3 554.8h0M221.7 558.9h0M216.4 561.9h0M220 555.2h0M228.4 558.3h0M221.9 553.7h0M217.7 552.1h0M231.2 560.3h0M235.7 558.5h0M226.1 559.3h0M230 556.2h0M226.2 563.6h0M213.4 552.7h0M218 559.3h0M231.4 556h0M228.2 556.9h0M225.9 555.3h0M223.8 557h0M231.1 563.9h0M212.6 558.6h0M224 560h0M230.6 559.4h0M229.1 554.1h0M213.3 562.1h0M231.6 554.1h0M232.1 559.1h0M217.8 560.6h0M219.7 554.7h0M214.3 556.3h0M230.4 554.9h0M212.4 563.6h0M235.6 559.1h0M220.6 553.3h0M213.7 558.7h0M232.1 553.7h0M224 556.1h0M222.4 558.5h0M237.1 555h0M229.3 560.4h0M222.2 556.5h0M215.6 560.3h0M220.7 555h0M224.4 554.4h0M217.5 556.1h0M233.3 556.4h0M227.3 552.5h0M221.5 552.3h0M223.3 558.9h0M213.2 554.3h0M225.6 554.2h0M229 560h0M226.8 555.7h0M223.7 555h0M223.2 558h0M222.1 560h0M240.3 555.3h0M226.2 559.5h0M228 556.3h0M221 560.1h0M227.9 558.6h0M219 559h0M229 556.4h0M228.1 563.7h0M212.2 558.9h0M216.6 552.8h0M222.5 558.7h0M224.3 553.4h0M215 555.3h0M224.1 554.4h0M214.6 562.4h0M218.7 556.5h0M220.6 555.2h0M224.3 556.1h0M227.9 553.3h0M214.7 563h0M223.5 559.4h0M231.4 558.7h0M224.2 552.2h0M213.9 560h0M228.3 558.8h0M213.6 550.4h0M217.4 553.3h0M225 553.8h0M234 555.1h0M220.5 559.7h0M226.1 554.2h0M229.2 563h0M216.3 556.2h0M217.2 551h0M227.9 559.2h0M230.1 558.3h0M219.8 553.3h0M217 559.4h0M222.1 563.1h0M227 551.1h0M229.6 560.9h0M224.2 553.2h0M235.2 552.9h0M223.5 551.1h0M216.1 551.7h0M230.9 560.7h0M221.4 552.8h0M223.6 558.2h0M214.3 553.4h0M223.4 559.2h0M224.5 558.4h0M216.1 549.2h0M226 554.1h0M223.2 555.8h0M227 554.6h0M233.2 557.1h0M227.4 559h0M230.6 558.3h0M212.9 555h0M235.8 558.5h0M227.6 558.5h0M219.9 554.9h0M219.9 560.6h0M226.3 562.6h0M227.2 562.9h0M226.9 553.3h0M235.1 558.1h0M231.6 557.7h0M221.9 557.5h0M216.9 553.3h0M218.3 555.4h0M215.4 556.7h0M225.9 563.4h0M235.7 556.8h0M229.6 556.3h0M226.5 556.9h0M220.6 557.2h0M214.6 558.4h0M222.2 553.6h0M221.7 558.7h0M219.7 558.5h0M227.6 561.9h0M217.1 556.7h0M227.3 561.7h0M225.7 559.4h0" stroke="#444" stroke-width="0.9" stroke-linecap="round" fill="none"/>
<path d="M233.7 551.3h0M242.9 552.2h0M244.4 550.8h0M237.2 548.3h0M239.9 553.8h0M244 553.5h0M237.3 548.8h0M237.8 555.8h0M240.2 556.6h0M240.6 552.9h0M239.8 553.5h0M234.1 558.1h0M239.1 549.9h0M239.1 553.9h0M241 557.3h0M242.5 550.2h0M232.5 553.8h0M239 554h0M234.7 551.6h0M238.6 555.2h0M244.5 553.9h0M236.2 546h0M241.2 552.6h0M237.7 550.1h0M240.2 547.7h0M238.3 553.4h0M238.9 556.9h0M237.7 553.3h0M240.5 548.4h0M237.1 553.2h0M240.8 550.6h0M240.4 554.1h0M233.6 548.6h0M233.7 553.4h0M238.6 555.2h0M240.4 551.4h0M241.2 555.4h0M239.4 554.4h0M234.2 554.1h0M234.9 549.4h0M237 553.4h0M237.8 552h0M235 553.6h0M235.8 548.8h0M238.3 557.3h0M236.8 549.8h0M242.1 558.1h0M237.1 552.4h0M238.6 561.8h0M238.4 556h0" stroke="#555" stroke-width="0.9" stroke-linecap="round" fill="none"/>
</g>
<g filter="url(#bl)">
<ellipse cx="207" cy="559.3" rx="4.96" ry="3.2" fill="#000"/>
<path d="M208.1 556.3h0M204.1 557.2h0M208.1 559.5h0M211.6 558.8h0M207.8 559.4h0M207.4 563.2h0M207.7 561.8h0M210.4 558.3h0M208.8 558.7h0M207.3 559.6h0M207.1 558.5h0M211 558.9h0M208.8 562.1h0M208.6 561h0M210.6 561.1h0M211.5 556.9h0M212.1 559.3h0M202.5 558.2h0M203.4 559.3h0M203.1 557.6h0M207.8 559.6h0M204.9 558.9h0M206.7 559.4h0M207 558.9h0M209.3 556.6h0M205.7 559.5h0M206 558.4h0M205.9 559.7h0M210.2 559h0M206.3 559.9h0M206.4 556.1h0M207.7 558.7h0M205.5 560.4h0M207.1 558.4h0M201.3 556.4h0M207 559.1h0M208.1 559.7h0M205.8 557.2h0M204.2 559.1h0M204 560.6h0M203.5 556.3h0M206.5 556.3h0M211.2 557.6h0M206.9 558.9h0M204.9 556.3h0M202.2 560.8h0M209.7 562.9h0M203.2 560.2h0M207 560.7h0M205.7 560.5h0M209.3 560.3h0M210.8 559h0M211 558.1h0M211.3 554.7h0M207 558h0M207 561h0M208.9 559.5h0M211.4 556.8h0M204.9 561.8h0M207.9 555.8h0M207.9 557.3h0M210.8 561.2h0M205.6 561.5h0M204.8 560.8h0M208.5 559.1h0M203.3 558.8h0M201 558.4h0M202.2 561.3h0M204.5 555.2h0M208.5 559.9h0M205.7 562.9h0M209 559.4h0M205.3 554.3h0M208.2 560.9h0M205.5 556.9h0M206.9 556.5h0M207 560.6h0M210.9 559.7h0M207.5 560.6h0M210.6 558.8h0M203.8 558h0M203.7 557.8h0M206.7 559.9h0M207.4 559.4h0M206.1 560h0M209.3 560.6h0M210.9 558.8h0M206.3 562.1h0M207.5 560h0M206.1 560.9h0M206 557.6h0M206.8 558.6h0M209.2 558.7h0M207.3 558.9h0M207.9 558.2h0M209.9 556.9h0M206 558.1h0M208.7 559.4h0M208.3 558.7h0M205.1 557.4h0M206.1 558.4h0M207.7 559.9h0M209.5 559.1h0M205.1 557.5h0M207.2 559.9h0M212.1 559.6h0M211.6 562.4h0M204.3 561.3h0M210 561.6h0M207 560.9h0M205.7 559.2h0M207 562.3h0M206.4 560.9h0M207.2 558.1h0M207.6 560.4h0M205.1 560.4h0M205.1 557.8h0M207.6 558.9h0M204.4 556.6h0M207.1 559.7h0M205.8 559.6h0M203 560h0M208.1 559.8h0M205.4 559.4h0M207.3 561.1h0M207.7 559.7h0M205.1 560.7h0M210.1 558.5h0M208.7 559.8h0M206.9 557.1h0M211.6 556.2h0M207.8 558.7h0M210 558.6h0M207.1 560.3h0M208.2 558.4h0M208.8 560h0M209.6 558.4h0M206.9 558.6h0M204.8 559.7h0M208.1 561.7h0M206.2 559.9h0M210 559.1h0M207.2 559.5h0M205.2 557.6h0M209.9 559.6h0M206.8 557.2h0M207.3 561.3h0M204 557.8h0M209.9 561.7h0M211 558.4h0M208.6 558h0M208.4 558.7h0M207.5 561.5h0M207.9 558.9h0M207.1 559.7h0M205.7 559.6h0M208.6 561.9h0M201.7 557.3h0M203.8 560.8h0M213.3 559.6h0" stroke="#000" stroke-width="1" stroke-linecap="round" fill="none"/>
</g>
<path d="M210.3 558.7h0M222.5 565.3h0M221.7 565.9h0M227.3 555h0M236.7 554.8h0M244 558.4h0M210 565.5h0M214.2 557.7h0M215.1 561.4h0M201 557.2h0M207.1 563.6h0M200 560.5h0M211.3 558.4h0M224.7 562h0M206.1 555.4h0M205.3 565.4h0M206.6 553.9h0M223 560.1h0M239 552.8h0M210.3 554.3h0M225.8 558.3h0M218 564.4h0M229.1 564h0M242.1 555.8h0M241.4 557.7h0M202.3 564.8h0M204.6 552.2h0M212.7 556h0M242.5 564.2h0M218.5 559.4h0" stroke="#999" stroke-width="0.8" stroke-linecap="round" fill="none"/>
<line x1="240" y1="540.6" x2="248" y2="540.6" stroke="#888" stroke-width="1"/>
<rect x="205.3" y="540.2" width="3.4" height="1.6" fill="#a8a8a8"/>
<rect x="236.3" y="557.2" width="3.4" height="1.6" fill="#a8a8a8"/>
<line x1="196" y1="576.5" x2="262.2" y2="576.5" stroke="#999" stroke-width="1.4"/>
<line x1="196.5" y1="576.5" x2="196.5" y2="620.2" stroke="#c4c4c4" stroke-width="0.8"/>
<line x1="196.5" y1="620.2" x2="262.2" y2="620.2" stroke="#d0d0d0" stroke-width="0.8"/>
<polyline points="197.5,614 197.5,585.8 215.2,585.8" fill="none" stroke="#888888" stroke-width="0.9"/>
<polyline points="215.2,581 215.2,590.8 247.5,590.8" fill="none" stroke="#888888" stroke-width="0.9"/>
<polyline points="227.2,590.8 227.2,604.6" fill="none" stroke="#888888" stroke-width="0.9"/>
<polyline points="220.6,604.6 247.5,604.6" fill="none" stroke="#888888" stroke-width="0.9"/>
<polyline points="247.5,581 247.5,620" fill="none" stroke="#888888" stroke-width="0.9"/>
<line x1="194" y1="580.5" x2="195.8" y2="580.5" stroke="#888" stroke-width="0.8"/>
<rect x="191.4" y="577.9" width="1.3" height="2.6" fill="#a0a0a0"/>
<line x1="194" y1="589.38" x2="195.8" y2="589.38" stroke="#888" stroke-width="0.8"/>
<rect x="191.4" y="586.77" width="1.3" height="2.6" fill="#a0a0a0"/>
<line x1="194" y1="598.25" x2="195.8" y2="598.25" stroke="#888" stroke-width="0.8"/>
<rect x="191.4" y="595.65" width="1.3" height="2.6" fill="#a0a0a0"/>
<line x1="194" y1="607.12" x2="195.8" y2="607.12" stroke="#888" stroke-width="0.8"/>
<rect x="191.4" y="604.52" width="1.3" height="2.6" fill="#a0a0a0"/>
<line x1="194" y1="616" x2="195.8" y2="616" stroke="#888" stroke-width="0.8"/>
<rect x="191.4" y="613.4" width="1.3" height="2.6" fill="#a0a0a0"/>
<rect x="202.54" y="623.2" width="2.8" height="1.4" fill="#999"/>
<line x1="203.94" y1="620.2" x2="203.94" y2="621.7" stroke="#999" stroke-width="0.6"/>
<rect x="221.08" y="623.2" width="2.8" height="1.4" fill="#999"/>
<line x1="222.48" y1="620.2" x2="222.48" y2="621.7" stroke="#999" stroke-width="0.6"/>
<rect x="238.29" y="623.2" width="2.8" height="1.4" fill="#999"/>
<line x1="239.69" y1="620.2" x2="239.69" y2="621.7" stroke="#999" stroke-width="0.6"/>
<rect x="254.18" y="623.2" width="2.8" height="1.4" fill="#999"/>
<line x1="255.58" y1="620.2" x2="255.58" y2="621.7" stroke="#999" stroke-width="0.6"/>
<path d="M213.2 621.8h0M209.7 621.5h0M200.1 621.2h0M209.8 621.6h0M212.3 621.9h0M215.2 621.2h0M199.4 621.9h0M208.2 621.2h0M210.4 621.3h0M202.2 621.4h0M207.4 621.7h0M199.3 621.7h0M209.1 621.5h0M210 621.8h0M198.2 621.5h0M210.1 621.7h0" stroke="#888" stroke-width="0.9" stroke-linecap="round" fill="none"/>
<path d="M244.6 621.2h0M258.4 621.8h0M226.2 621.4h0M258.3 621.2h0M234 622h0M255.8 621.2h0M248.5 621.4h0M245.3 621.8h0M221.5 621.2h0M225.4 621.3h0M217.4 621.1h0M233.9 621.4h0M219.3 621.6h0M257.6 621.6h0M231.6 621.7h0M235.2 621.2h0" stroke="#bbb" stroke-width="0.8" stroke-linecap="round" fill="none"/>
<g filter="url(#bl)">
<path d="M205.1 600.1h0M204.9 597.7h0M201.5 608.2h0M206 591.7h0M203.5 595.1h0M206.8 607.1h0M204.9 603.2h0M206.9 594.6h0M208.2 592.7h0M204.2 598.5h0M208.3 600.5h0M205.2 596.5h0M205.7 600.2h0M207.1 606h0M207.2 600.1h0M205.2 606.9h0M206 599.9h0M209.5 606.8h0M206.8 599.5h0M204.1 604.6h0M204.5 604.1h0M203.7 600.5h0M206.4 600.6h0M206 601.6h0M203 595.2h0M205.2 607.8h0M205.2 596h0M204 600.1h0M208.2 597.6h0M206.8 600.8h0M204.7 595.9h0M205.2 596.9h0M206.7 592.4h0M208 603.3h0M206.8 606.4h0M206.9 592.7h0M205.6 601.9h0M204 595.1h0M206.5 602.2h0M204.5 599h0M204.4 597.6h0M205.4 604.6h0M201.9 598.5h0M209.1 601.4h0M205.8 603.6h0M203.2 594.8h0M201.8 593.7h0M206.1 603.6h0M204.6 597.1h0M206.4 602.6h0M206.1 591.8h0M206 596.4h0M204 606.4h0M208.5 602.1h0M206.1 600.7h0M204.2 599.8h0M209.8 596.2h0M204 600.7h0M207.5 603.6h0M203.3 599.4h0M204.9 594.7h0M205.7 597.9h0M207.6 601.9h0M203.8 600.3h0M204.7 597.3h0M204.4 604.6h0M204.6 592.7h0M203.8 603.5h0M210.3 595.5h0M204.7 598.6h0M202.4 601.7h0M205.4 601.2h0M210.5 598.9h0M207.3 603.6h0M204.1 597.5h0M209 603.1h0M205.8 595.3h0M207.5 602.3h0M210.4 606.3h0M207.3 601.1h0M205.6 597.6h0M206.2 601h0M207 604.6h0M206.2 597.7h0M207.3 606.6h0M203.6 601.8h0M206.7 602.3h0M206.6 599.6h0M205.3 607.2h0M209.4 594h0M204 597.8h0M201.9 601.5h0M205.4 597.7h0M207.5 610.4h0M208.8 605h0M204.6 602.8h0M205.4 604.9h0M206.8 599.9h0M206.7 596.9h0M207.3 606.4h0M204.7 602.4h0M201.8 604h0M207.5 595.6h0M209.4 600.5h0M201.6 594.1h0M207.5 598.8h0M208 593.4h0M205.3 604.2h0M204 602.9h0M204.7 601.5h0M206.2 609.5h0M202.7 603.3h0M208.4 595.2h0M205.7 609.9h0M205 592.7h0M206.2 596.9h0M204.2 596.4h0M206.2 598h0M203.5 599h0M206.4 596.3h0M208 592.9h0M206.4 598.3h0M209 597.3h0M204 594.3h0M209.9 602.6h0M203.1 598.6h0M203.4 606.5h0M206.4 591.3h0M206 603.9h0M205.5 602h0M205.3 600.9h0M206 597h0M206.3 600.7h0M205.4 597.1h0M203.2 601.1h0M204.3 605.8h0M207.5 597h0M208.5 595.8h0M203.7 608.3h0M204.5 599.1h0M201.8 595.7h0M202.9 599.4h0M201.4 604.5h0M204.7 597.4h0M204.1 603.2h0M208.9 598.3h0M209.1 606.9h0M208.5 601.3h0M202.2 602.9h0M204.6 600.8h0M201.3 598.8h0M206 596h0M206.2 607.2h0M206 597.1h0M203.4 601.7h0M206.1 603.6h0M203.7 606.3h0M206.6 605.1h0M202.1 600h0M209.1 608.6h0M208.5 600h0M205.9 597.3h0M208 597h0M205.8 591.2h0M202.1 607.6h0M205.6 600.9h0M200.6 599.9h0M210.1 593.6h0M200.2 599.3h0M204.3 599.1h0M202.7 594.2h0M202.7 602.8h0M205.4 603.5h0M203.1 602.5h0M204.5 600.4h0M207.6 600.1h0M204.7 592.8h0M205.6 603.4h0M204.1 599.7h0M201.5 594.3h0M206.4 605.6h0M204.8 592.8h0M204.6 593.3h0M204.9 608.3h0M206.2 599.3h0M207.8 598.4h0M206.2 600.9h0M206.5 593.7h0M207.1 603.8h0M203.5 606.4h0M205.5 602.9h0M206.8 603.8h0M204.1 597.5h0M206.3 602.6h0M206.8 601.5h0M204.4 604.8h0M206.6 604.6h0M204 600.5h0M204.4 598.7h0M205.9 601.5h0M203.7 602.3h0M203.6 601.9h0M204.7 595.9h0M208.1 607.2h0M205.3 599.8h0M207.7 594.2h0M203.5 604.9h0M207.5 597.9h0M203.7 601.5h0M202.3 597.8h0M206.8 603.3h0M207.9 593.7h0M202.6 596.5h0M202.5 608.9h0M203.3 598.6h0M206 602h0M208.8 595.3h0M207.5 600.7h0M202.8 600.7h0M202.3 607.1h0M203.8 604.4h0M208.5 597.3h0M203.5 600.6h0M203.1 603.9h0M205.9 596.7h0M203.9 603.2h0M202.2 607.4h0M203.7 599.1h0M203.4 607.1h0M207.4 605.7h0M207 600.4h0M209.4 602.9h0M206.5 602.5h0M207.2 601.2h0M205.1 593h0M210.2 594.3h0M200.6 596.9h0M209.9 605.3h0M204.1 601.2h0M205.4 591.3h0" stroke="#1a1a1a" stroke-width="1.1" stroke-linecap="round" fill="none"/>
</g>
<g filter="url(#bl)">
<ellipse cx="205.2" cy="609.8" rx="3.52" ry="2.88" fill="#000"/>
<path d="M204.6 610.2h0M207.4 608h0M201 607.4h0M205.8 609.9h0M205.5 610h0M204.5 607.7h0M206 610.4h0M206.3 611.7h0M202.9 606.3h0M201.9 613h0M203.5 610.4h0M205.2 610.9h0M211.1 609h0M204.9 608.9h0M205.7 610.6h0M203.4 611.8h0M207.3 610.5h0M205 609.4h0M202.2 610.8h0M203.4 609h0M207 608.4h0M204.2 611.1h0M208.6 608.8h0M207.2 608.8h0M205.9 610.5h0M203.1 611.4h0M208.5 609.9h0M205.7 608h0M208.5 609.9h0M202.8 611h0M202.5 608.8h0M201.3 611.9h0M209.3 608.8h0M204 608.9h0M204.2 610.6h0M207.9 608.3h0M206 607.1h0M208 609.7h0M203.9 612.1h0M205 611.9h0M207.2 612.3h0M203.7 609.9h0M205.9 609.5h0M208 608.7h0M207.1 611.9h0M201.6 608.3h0M203.5 609h0M205.9 609.5h0M205.3 609.1h0M205 610.5h0M206.6 608.6h0M205 608.6h0M204.9 607.6h0M207 610.8h0M205 608.8h0M204.4 608.8h0M202.3 612.3h0M211.3 607.9h0M203 610.7h0M206.3 607.4h0M201.7 610.6h0M201.5 612h0M204.3 609.9h0M205.2 609h0M204.9 609.3h0M207.5 609.7h0M205.1 609h0M204 608.7h0M205.2 612.6h0M207.3 610.2h0M208.3 611.3h0M205.6 609.6h0M203.2 610.2h0M204.6 607.4h0M202.8 612.7h0M205.6 610.6h0M205.6 609.1h0M206.1 611.4h0M204.6 610.6h0M207.1 609.1h0M205.5 608.7h0M206.3 609.2h0M207.3 608.6h0M208.3 609.3h0M203.6 608.4h0M206.4 608.5h0M208.5 611.7h0M206.2 607.6h0M205.2 608.7h0M201.9 610.4h0M209.3 609h0M206.7 611.7h0M203.4 609.3h0M205.7 610.5h0M203.1 610.1h0M205 611.2h0M202.2 608.9h0M204.3 609.3h0M206.5 608.9h0M210.3 608.7h0M206.8 611.3h0M207 609.5h0M203.7 609.4h0M206.4 610h0M206.3 610.7h0M203.6 608.4h0M207.9 609.1h0M202.3 612.6h0M203.7 608.4h0M207 608.1h0M203.6 611.4h0M203.7 613.6h0M205.4 613.9h0M205.4 609.9h0M204 609.5h0M204.3 609.8h0M206.6 607.9h0M203.5 606.6h0M208 609.7h0M205.2 609.7h0" stroke="#000" stroke-width="1" stroke-linecap="round" fill="none"/>
</g>
<path d="M210.7 608.3h0M224.5 607.1h0M218.5 604.1h0M216.2 613h0M218.8 612.2h0M210.2 606h0M212.7 612.3h0M211.5 613.3h0M214 612.8h0M217.7 607.2h0M224.5 608.1h0M220.5 604.7h0M222.5 613.8h0M211.7 611.5h0M214.1 605.5h0M215.5 610.6h0M224.3 613.9h0M224.9 610.2h0M219.8 605.6h0M220.9 609.5h0" stroke="#999" stroke-width="0.8" stroke-linecap="round" fill="none"/>
<rect x="230.3" y="584.7" width="3.4" height="1.6" fill="#a8a8a8"/>
<rect x="235.3" y="596.7" width="3.4" height="1.6" fill="#a8a8a8"/>
<rect x="233.3" y="609.7" width="3.4" height="1.6" fill="#a8a8a8"/>
<line x1="196" y1="628.9" x2="262.2" y2="628.9" stroke="#a0a0a0" stroke-width="1.7"/>
<line x1="196.5" y1="628.9" x2="196.5" y2="672" stroke="#c4c4c4" stroke-width="0.8"/>
<line x1="196.5" y1="672" x2="262.2" y2="672" stroke="#d0d0d0" stroke-width="0.8"/>
<rect x="197.5" y="638.2" width="17.4" height="16.9" fill="none" stroke="#777" stroke-width="0.9"/>
<polyline points="215.5,656.6 215.5,633.5 247.2,633.5 247.2,656.6" fill="none" stroke="#888888" stroke-width="0.9"/>
<polyline points="227.2,644.3 247.2,644.3" fill="none" stroke="#888888" stroke-width="0.9"/>
<rect x="220.2" y="657.4" width="27" height="14.6" fill="none" stroke="#777" stroke-width="0.9"/>
<line x1="194" y1="632.9" x2="195.8" y2="632.9" stroke="#888" stroke-width="0.8"/>
<rect x="191.4" y="630.3" width="1.3" height="2.6" fill="#a0a0a0"/>
<line x1="194" y1="641.67" x2="195.8" y2="641.67" stroke="#888" stroke-width="0.8"/>
<rect x="191.4" y="639.07" width="1.3" height="2.6" fill="#a0a0a0"/>
<line x1="194" y1="650.45" x2="195.8" y2="650.45" stroke="#888" stroke-width="0.8"/>
<rect x="191.4" y="647.85" width="1.3" height="2.6" fill="#a0a0a0"/>
<line x1="194" y1="659.23" x2="195.8" y2="659.23" stroke="#888" stroke-width="0.8"/>
<rect x="191.4" y="656.62" width="1.3" height="2.6" fill="#a0a0a0"/>
<line x1="194" y1="668" x2="195.8" y2="668" stroke="#888" stroke-width="0.8"/>
<rect x="191.4" y="665.4" width="1.3" height="2.6" fill="#a0a0a0"/>
<rect x="202.54" y="675" width="2.8" height="1.4" fill="#999"/>
<line x1="203.94" y1="672" x2="203.94" y2="673.5" stroke="#999" stroke-width="0.6"/>
<rect x="221.08" y="675" width="2.8" height="1.4" fill="#999"/>
<line x1="222.48" y1="672" x2="222.48" y2="673.5" stroke="#999" stroke-width="0.6"/>
<rect x="238.29" y="675" width="2.8" height="1.4" fill="#999"/>
<line x1="239.69" y1="672" x2="239.69" y2="673.5" stroke="#999" stroke-width="0.6"/>
<rect x="254.18" y="675" width="2.8" height="1.4" fill="#999"/>
<line x1="255.58" y1="672" x2="255.58" y2="673.5" stroke="#999" stroke-width="0.6"/>
<path d="M204.4 673.7h0M202.6 672.9h0M200.8 672.9h0M208.5 673.6h0M200.9 673.3h0M208.3 673.4h0M205.4 673.3h0M198.3 672.9h0M205.5 673h0M211.5 673h0M212.7 673h0M199.7 673.3h0M204.9 673.1h0M211.7 673h0M210 673.6h0M206.1 673.3h0" stroke="#888" stroke-width="0.9" stroke-linecap="round" fill="none"/>
<path d="M256.8 673.4h0M223.9 672.9h0M219.5 673.1h0M219.8 673.4h0M234.6 673.1h0M238.6 673.7h0M226.7 673h0M229.4 673.1h0M256.2 673.5h0M234.9 673h0M217.9 672.9h0M253.4 673.4h0M222.8 673.4h0M218.4 673.3h0M230.7 672.9h0M248.8 673.5h0" stroke="#bbb" stroke-width="0.8" stroke-linecap="round" fill="none"/>
<g filter="url(#bl)">
<path d="M204.3 651.8h0M204.5 647.9h0M205.2 650.4h0M206 651.8h0M206.2 656.4h0M206.1 653.8h0M204.8 655h0M205 649.3h0M202.7 655.9h0M204.5 653.1h0M208.6 654.4h0M211.4 651.4h0M208.2 655.1h0M204.2 652.2h0M204.4 647.5h0M206.5 648.6h0M210 648.7h0M204.4 652.4h0M204.5 652.2h0M204.3 645.7h0M199.8 646.3h0M209.6 654h0M206.2 650h0M205.4 653.3h0M202.3 648.5h0M203.6 657.5h0M203.2 657.2h0M204.6 664h0M205.6 652.1h0M209.2 655.8h0M208.1 647.3h0M208.6 659.4h0M205.5 649.9h0M203.1 656.5h0M206.5 652h0M202.7 659.1h0M208 651.9h0M209.5 647.8h0M208 647.6h0M209.3 650.8h0M208.9 650.2h0M206.8 657h0M203.5 652.4h0M203.7 655.7h0M204.3 650.4h0M205.3 657.1h0M203.2 651.9h0M205 649.6h0M203.8 651.3h0M206.3 645.2h0M206.4 646.8h0M205.8 662h0M203.4 651.7h0M205.2 656.3h0M204.6 644.1h0M201.8 652.8h0M206.4 656.7h0M204.5 654.9h0M203.1 657.7h0M205.6 649h0M206.2 659.7h0M203.7 646.5h0M203.3 646.9h0M205.7 653.5h0M205.4 652.9h0M208.8 650.7h0M206.4 649h0M205.2 653.8h0M207 645.1h0M203.4 652.3h0M205.4 657h0M208.7 644.8h0M203.4 653.7h0M203.2 662.9h0M206.4 654.4h0M204.7 661.8h0M207.1 648.8h0M208.9 644.6h0M204.3 653.3h0M206.1 647.8h0M209.8 658.5h0M203.5 653.6h0M204.2 650.1h0M208.3 652.6h0M205.5 652.5h0M202.9 657.4h0M203.9 657.8h0M204.7 650h0M209.5 652.8h0M204.2 649.6h0M207.3 660.2h0M207.3 650.3h0M203 649h0M205.5 653.1h0M204.2 657.6h0M203.4 648.9h0M207 654.1h0M204.8 656.2h0M202.3 659.2h0M211.3 660.6h0M206.1 660.7h0M205.9 657.8h0M205.3 652.9h0M207.1 644.3h0M205.3 659.6h0M208.1 653.4h0M206.3 658.1h0M203.4 650.7h0M206.2 650h0M205.5 659.3h0M208.1 654.6h0M205.8 652.3h0M206.7 653.1h0M204 655.4h0M203.7 651.8h0M204.9 646.9h0M207.3 651.7h0M202.9 651.7h0M202.4 658.3h0M207.1 660.7h0M204.4 655.1h0M203.4 648.3h0M205.6 653.8h0M208.1 650.8h0M208.6 656.2h0M203.6 651.2h0M203.5 659.5h0M204.4 655.9h0M208.1 650.9h0M204.6 653.5h0M203.9 646.5h0M203.4 653.5h0M206.3 659.7h0M201.2 654.2h0M202.9 657.1h0M207.5 652.6h0M209.5 650.4h0M204.5 647.4h0M204.2 652.5h0M207.5 657.6h0M205.1 648.8h0M205 650.1h0M204.6 650.2h0M203.6 651.8h0M204.5 651.3h0M202.4 652.6h0M207.2 654.8h0M204.4 647h0M202.6 646.9h0M204.2 650.6h0M201.4 654.9h0M202 649h0M204 655.6h0M210.4 650.5h0M205.1 650.3h0M205.3 651.3h0M211.9 647.3h0M205.5 648.6h0M206.7 649.7h0M207.2 647.3h0M211 652.9h0M201.4 655h0M204.6 647h0M206.9 649.7h0M207.6 649.6h0M208 652.6h0M206.7 652.7h0M204.9 650.4h0M206.9 655.1h0M204.8 661.7h0M210 647h0M208.5 651.7h0M206.4 648.6h0M209.9 648.4h0M205.6 648.9h0M210.6 657.4h0M202.5 650.1h0M206.7 650.1h0M204.9 647.3h0M206.4 647.3h0M207.9 662.4h0M205 659.1h0M206.7 649.1h0M204.9 647.8h0M206.1 655h0M208.1 650.8h0M202.9 651.7h0M209.9 653.2h0M204.7 654.4h0M203.5 657.8h0M204.4 648.2h0M204.4 651.6h0M208.3 649.6h0M201.4 651.7h0M207.1 658.7h0M203 658.4h0M207.5 654h0M203.9 648.2h0M203.4 656h0M206.3 656.6h0M210.3 652.1h0M205.7 660.3h0M202.6 650.1h0M204.9 650.4h0M206.2 648.4h0M208.7 646.1h0M203.8 644.7h0M202.4 654.6h0M207.3 651.2h0M207.9 654.7h0M204.4 651.8h0M206.7 660.7h0M204.7 653.6h0M207.1 657.3h0M206.8 656.6h0M203.2 650.9h0M201 651.8h0M211.5 653.1h0M206 653.2h0M206.2 646.3h0M204.1 651.3h0M206.2 648.3h0M205.5 648.9h0M202.6 649.2h0M203.8 655.6h0M209.1 654.5h0M205.3 649.6h0M201.9 649.8h0M209.6 657h0M206.4 651h0M205.8 653.8h0M205.8 653.9h0M203.9 652.2h0M204.9 656.7h0M202.8 657.6h0M205.6 649.9h0M205.9 652.6h0M205.2 653.8h0M204.4 644.8h0M207.5 651.9h0M209.9 653.7h0M200.9 657.4h0M204.1 654.4h0M211.3 656.7h0M203.1 651.6h0M201.9 654.9h0M207.2 647.6h0M206.9 656h0M207.8 649.2h0M204.1 647.2h0" stroke="#1a1a1a" stroke-width="1.1" stroke-linecap="round" fill="none"/>
</g>
<g filter="url(#bl)">
<ellipse cx="205.8" cy="661.5" rx="4.32" ry="3.68" fill="#000"/>
<path d="M202.9 662.1h0M205.9 664h0M206.4 660.9h0M202.6 664.4h0M206.2 661.5h0M203.6 659.5h0M207.2 659.7h0M207.1 662.7h0M204.9 658.5h0M206.7 664.2h0M204 659.1h0M208.2 661.8h0M204.4 663.8h0M205.2 662.4h0M204.9 660.1h0M206.3 659.9h0M201.8 660.5h0M208.5 663.6h0M210.6 663.4h0M209.4 662h0M204.8 662.4h0M203.7 662.9h0M204.8 662h0M203.9 661.3h0M208 661.1h0M204.3 662h0M207.8 661.2h0M203.2 658.6h0M202.8 663.5h0M205.6 662.4h0M208.2 662.1h0M206.9 660.6h0M202.2 662.7h0M205.6 662.6h0M203.4 661.3h0M210.3 659.9h0M206 664h0M205.3 661.8h0M201.1 663h0M204.8 663.9h0M205.6 660.8h0M206.8 661.1h0M204.7 664.4h0M208 661.7h0M207.6 663.1h0M207.1 661.6h0M206 662.3h0M207.1 662.2h0M204.6 661.4h0M206.8 659.7h0M205.8 662.9h0M206.2 661h0M205.7 660.6h0M208 660.8h0M202.1 659.3h0M206.5 661.9h0M204.8 659.1h0M205.5 660h0M204.3 661.5h0M204.1 662.1h0M204.2 660.7h0M205.3 664.2h0M209.3 663.3h0M204.2 661.5h0M207.8 663h0M202.2 661.4h0M204.2 662.9h0M207.2 660.5h0M210.6 661h0M211.2 661.2h0M205.6 665h0M204.6 660.7h0M209.1 661.5h0M206.9 659.2h0M209.8 663.3h0M206.6 662.8h0M204.7 660.7h0M202.3 662.2h0M208.5 663.1h0M207.8 662.8h0M203.8 659.1h0M207.2 661.8h0M208 661h0M203.8 662.4h0M204.6 658.5h0M204.4 659.9h0M203.3 660.5h0M207.9 665.9h0M209.6 660.8h0M208.3 661.4h0M206.7 660.3h0M205.6 658.4h0M209.8 660.1h0M207.1 660.5h0M206.4 659.4h0M205 663.2h0M207.1 658h0M207.7 659.1h0M206.4 662.5h0M204.4 660.9h0M205.3 662.3h0M207.8 664h0M206.5 665.2h0M203.7 664.8h0M205.2 662.9h0M205.5 661.7h0M203.8 662.2h0M210.3 661.8h0M205.8 661.5h0M207.4 661.2h0M205.8 661.9h0M208.7 663.3h0M203.5 660.4h0M205.8 663.1h0M208 661.2h0M210.5 661.2h0M208.9 664.1h0M209.3 661.9h0M207.1 658.7h0M201.8 660.4h0M207.4 663.5h0M205.6 663.4h0M207.1 664.3h0M202.3 660h0M203.7 659.6h0M209.5 659.8h0M204 660.8h0M207.8 660.7h0M207.4 662.5h0M204.4 657.2h0M203.8 659.2h0M209.4 660.2h0M203.4 662.2h0M205.9 659.8h0M208.2 663.2h0M206.4 660.1h0M203.9 657.8h0M206.7 662.3h0M203.8 661.6h0M213.1 659.5h0M202 662.6h0M204.9 660.6h0M207.2 661.3h0M208 662.5h0M208.4 661.7h0M201 664h0M202 663.4h0M206.4 659h0M205.9 663.1h0M203.5 661.6h0" stroke="#000" stroke-width="1" stroke-linecap="round" fill="none"/>
</g>
<rect x="230.3" y="637.2" width="3.4" height="1.6" fill="#a8a8a8"/>
<rect x="236.3" y="649.2" width="3.4" height="1.6" fill="#a8a8a8"/>
<rect x="232.3" y="663.2" width="3.4" height="1.6" fill="#a8a8a8"/>
<rect x="192.6" y="685.4" width="66.5" height="43.4" fill="none" stroke="#a4a4a4" stroke-width="0.9"/>
<line x1="192.6" y1="685.4" x2="192.6" y2="728.8" stroke="#555" stroke-width="1"/>
<polyline points="192.6,695.2 212.2,695.2" fill="none" stroke="#888888" stroke-width="0.9"/>
<polyline points="212.2,690.3 212.2,701.4 244.5,701.4" fill="none" stroke="#888888" stroke-width="0.9"/>
<polyline points="244.5,690.3 244.5,714.6 224.5,714.6 224.5,701.4" fill="none" stroke="#888888" stroke-width="0.9"/>
<polyline points="192.6,712.6 211.4,712.6" fill="none" stroke="#888888" stroke-width="0.9"/>
<line x1="190.6" y1="689.4" x2="192.4" y2="689.4" stroke="#888" stroke-width="0.8"/>
<rect x="188" y="686.8" width="1.3" height="2.6" fill="#a0a0a0"/>
<line x1="190.6" y1="698.25" x2="192.4" y2="698.25" stroke="#888" stroke-width="0.8"/>
<rect x="188" y="695.65" width="1.3" height="2.6" fill="#a0a0a0"/>
<line x1="190.6" y1="707.1" x2="192.4" y2="707.1" stroke="#888" stroke-width="0.8"/>
<rect x="188" y="704.5" width="1.3" height="2.6" fill="#a0a0a0"/>
<line x1="190.6" y1="715.95" x2="192.4" y2="715.95" stroke="#888" stroke-width="0.8"/>
<rect x="188" y="713.35" width="1.3" height="2.6" fill="#a0a0a0"/>
<line x1="190.6" y1="724.8" x2="192.4" y2="724.8" stroke="#888" stroke-width="0.8"/>
<rect x="188" y="722.2" width="1.3" height="2.6" fill="#a0a0a0"/>
<rect x="199.17" y="731.8" width="2.8" height="1.4" fill="#999"/>
<line x1="200.57" y1="728.8" x2="200.57" y2="730.3" stroke="#999" stroke-width="0.6"/>
<rect x="217.76" y="731.8" width="2.8" height="1.4" fill="#999"/>
<line x1="219.16" y1="728.8" x2="219.16" y2="730.3" stroke="#999" stroke-width="0.6"/>
<rect x="235.02" y="731.8" width="2.8" height="1.4" fill="#999"/>
<line x1="236.42" y1="728.8" x2="236.42" y2="730.3" stroke="#999" stroke-width="0.6"/>
<rect x="250.96" y="731.8" width="2.8" height="1.4" fill="#999"/>
<line x1="252.36" y1="728.8" x2="252.36" y2="730.3" stroke="#999" stroke-width="0.6"/>
<path d="M206.2 730.1h0M200.4 730.2h0M212.5 729.8h0M200.6 729.6h0M196.3 729.7h0M202.2 730.4h0M207.1 730.6h0M209.6 730.2h0M205 729.6h0M201.5 729.9h0M205.7 729.7h0M204.3 730h0M203.4 730h0M196.4 730.3h0M208.9 730.2h0M196.7 730.2h0" stroke="#888" stroke-width="0.9" stroke-linecap="round" fill="none"/>
<path d="M251.3 730.6h0M246.3 729.6h0M251.6 730.3h0M224.8 730.5h0M249.3 730.5h0M223.5 730.2h0M229.4 729.9h0M246.4 730.2h0M227.3 730.1h0M253.8 730.2h0M253.2 730.2h0M256.7 729.6h0M233 730.2h0M244.8 730.6h0M240.2 730.1h0M240.7 730.1h0" stroke="#bbb" stroke-width="0.8" stroke-linecap="round" fill="none"/>
<path d="M219.1 725h0M205.3 713.8h0M222.5 709.1h0M220.8 708.6h0M218 722.4h0M209.8 714.9h0M209.5 720.7h0M215.6 718.9h0M211.5 718.6h0M224.1 722h0M224 712.4h0M215.3 714.9h0M211.9 722.5h0M208.5 718.1h0M220.5 724.8h0M205.4 712.9h0M214.9 724.9h0M208.3 723.1h0" stroke="#aaa" stroke-width="0.8" stroke-linecap="round" fill="none"/>
<rect x="202.3" y="702.2" width="3.4" height="1.6" fill="#a8a8a8"/>
<rect x="228.3" y="693.2" width="3.4" height="1.6" fill="#a8a8a8"/>
<rect x="233.3" y="707.2" width="3.4" height="1.6" fill="#a8a8a8"/>
<rect x="231.3" y="720.2" width="3.4" height="1.6" fill="#a8a8a8"/>
<rect x="342.2" y="472.2" width="66.9" height="43.8" fill="none" stroke="#a4a4a4" stroke-width="0.9"/>
<polyline points="362,472.2 362,516" fill="none" stroke="#999" stroke-width="0.9"/>
<rect x="362" y="477.5" width="14.8" height="16.2" fill="none" stroke="#999" stroke-width="0.8"/>
<line x1="342.2" y1="493.7" x2="376.8" y2="493.7" stroke="#999" stroke-width="0.9"/>
<polyline points="376.8,493.7 376.8,516" fill="none" stroke="#aaa" stroke-width="0.9"/>
<line x1="340.2" y1="476.2" x2="342" y2="476.2" stroke="#888" stroke-width="0.8"/>
<rect x="337.6" y="473.6" width="1.3" height="2.6" fill="#a0a0a0"/>
<line x1="340.2" y1="485.15" x2="342" y2="485.15" stroke="#888" stroke-width="0.8"/>
<rect x="337.6" y="482.55" width="1.3" height="2.6" fill="#a0a0a0"/>
<line x1="340.2" y1="494.1" x2="342" y2="494.1" stroke="#888" stroke-width="0.8"/>
<rect x="337.6" y="491.5" width="1.3" height="2.6" fill="#a0a0a0"/>
<line x1="340.2" y1="503.05" x2="342" y2="503.05" stroke="#888" stroke-width="0.8"/>
<rect x="337.6" y="500.45" width="1.3" height="2.6" fill="#a0a0a0"/>
<line x1="340.2" y1="512" x2="342" y2="512" stroke="#888" stroke-width="0.8"/>
<rect x="337.6" y="509.4" width="1.3" height="2.6" fill="#a0a0a0"/>
<rect x="348.83" y="519" width="2.8" height="1.4" fill="#999"/>
<line x1="350.23" y1="516" x2="350.23" y2="517.5" stroke="#999" stroke-width="0.6"/>
<rect x="367.56" y="519" width="2.8" height="1.4" fill="#999"/>
<line x1="368.96" y1="516" x2="368.96" y2="517.5" stroke="#999" stroke-width="0.6"/>
<rect x="384.95" y="519" width="2.8" height="1.4" fill="#999"/>
<line x1="386.35" y1="516" x2="386.35" y2="517.5" stroke="#999" stroke-width="0.6"/>
<rect x="401.01" y="519" width="2.8" height="1.4" fill="#999"/>
<line x1="402.41" y1="516" x2="402.41" y2="517.5" stroke="#999" stroke-width="0.6"/>
<path d="M351.4 517.3h0M361 516.9h0M350.2 517h0M346.6 517.1h0M356.9 517.4h0M346.4 517.6h0M353.4 516.9h0M359 517.6h0M348.1 517.7h0M358.8 517h0M344.2 517.7h0M359.1 516.9h0M358 517.6h0M355.7 517.6h0M362 517.1h0M359.3 517.7h0" stroke="#888" stroke-width="0.9" stroke-linecap="round" fill="none"/>
<path d="M376.3 517.5h0M393 517.6h0M387.7 517.1h0M373.6 517.3h0M368.3 517.7h0M402.1 517h0M393.5 517.5h0M367.7 517.6h0M396.6 517.1h0M366.7 517.1h0M396.9 517.3h0M398.8 517h0M367 517.1h0M401.7 517h0M365.6 517.6h0M366.4 517.5h0" stroke="#bbb" stroke-width="0.8" stroke-linecap="round" fill="none"/>
<g filter="url(#bl)">
<ellipse cx="352.4" cy="497.3" rx="1.6" ry="2.56" fill="#444"/>
<path d="M353.1 497.9h0M351.3 494.5h0M351.5 498.3h0M353.3 497.6h0M352.5 500.1h0M352 494.5h0M350.9 496.8h0M353.1 498.4h0M352.2 498.6h0M352.4 496.2h0M352 498.5h0M353.3 495.6h0M351.4 497.5h0M354.5 495.5h0M351.2 497.9h0M352.9 496.4h0M352.4 498.1h0M350.7 497.3h0M353 498.7h0M353.6 497.2h0M351 499.4h0M353.2 496.3h0M353.4 498.9h0M352.3 493.7h0M351.9 496.1h0M351.6 497.2h0M351.3 497.9h0M354.3 495.5h0M353.4 496.5h0M352.9 497.1h0" stroke="#444" stroke-width="1" stroke-linecap="round" fill="none"/>
</g>
<path d="M354.4 490.9h0M353.6 490.5h0M352.8 494.9h0M354.1 485.9h0M350.5 503h0M353.1 504.8h0M351 496.2h0M353.4 505.2h0M352.4 492.4h0M353.6 494.4h0M351.4 499.4h0M349.7 489.2h0M354.5 492.1h0M352 497.1h0M354.1 498h0M351.1 491.7h0M354 494.3h0M351.6 500h0M354.2 507.5h0M350.9 490.9h0" stroke="#888" stroke-width="0.8" stroke-linecap="round" fill="none"/>
<rect x="351.3" y="481.2" width="3.4" height="1.6" fill="#a8a8a8"/>
<rect x="368.3" y="483.2" width="3.4" height="1.6" fill="#a8a8a8"/>
<rect x="368.3" y="502.2" width="3.4" height="1.6" fill="#a8a8a8"/>
<rect x="342.2" y="574.9" width="66.9" height="43.6" fill="none" stroke="#a4a4a4" stroke-width="0.9"/>
<rect x="342.2" y="574.9" width="19.2" height="28.2" fill="none" stroke="#666" stroke-width="1"/>
<rect x="342.2" y="603.1" width="34.1" height="14.9" fill="none" stroke="#777" stroke-width="0.9"/>
<polyline points="358.3,603.1 358.3,606.5" fill="none" stroke="#888888" stroke-width="0.9"/>
<line x1="340.2" y1="578.9" x2="342" y2="578.9" stroke="#888" stroke-width="0.8"/>
<rect x="337.6" y="576.3" width="1.3" height="2.6" fill="#a0a0a0"/>
<line x1="340.2" y1="587.8" x2="342" y2="587.8" stroke="#888" stroke-width="0.8"/>
<rect x="337.6" y="585.2" width="1.3" height="2.6" fill="#a0a0a0"/>
<line x1="340.2" y1="596.7" x2="342" y2="596.7" stroke="#888" stroke-width="0.8"/>
<rect x="337.6" y="594.1" width="1.3" height="2.6" fill="#a0a0a0"/>
<line x1="340.2" y1="605.6" x2="342" y2="605.6" stroke="#888" stroke-width="0.8"/>
<rect x="337.6" y="603" width="1.3" height="2.6" fill="#a0a0a0"/>
<line x1="340.2" y1="614.5" x2="342" y2="614.5" stroke="#888" stroke-width="0.8"/>
<rect x="337.6" y="611.9" width="1.3" height="2.6" fill="#a0a0a0"/>
<rect x="348.83" y="621.5" width="2.8" height="1.4" fill="#999"/>
<line x1="350.23" y1="618.5" x2="350.23" y2="620" stroke="#999" stroke-width="0.6"/>
<rect x="367.56" y="621.5" width="2.8" height="1.4" fill="#999"/>
<line x1="368.96" y1="618.5" x2="368.96" y2="620" stroke="#999" stroke-width="0.6"/>
<rect x="384.95" y="621.5" width="2.8" height="1.4" fill="#999"/>
<line x1="386.35" y1="618.5" x2="386.35" y2="620" stroke="#999" stroke-width="0.6"/>
<rect x="401.01" y="621.5" width="2.8" height="1.4" fill="#999"/>
<line x1="402.41" y1="618.5" x2="402.41" y2="620" stroke="#999" stroke-width="0.6"/>
<path d="M351.9 619.6h0M349.9 619.8h0M352.3 620.3h0M354.4 619.5h0M345.2 619.5h0M350.4 620.1h0M360.3 619.5h0M358.3 619.7h0M353.9 619.8h0M345 619.4h0M356.3 620h0M351.1 620.2h0M359 619.6h0M345.4 619.9h0M356 619.5h0M345 619.8h0" stroke="#888" stroke-width="0.9" stroke-linecap="round" fill="none"/>
<path d="M363.8 620h0M390.3 619.6h0M382.2 619.5h0M370.6 619.5h0M398.8 619.8h0M394.3 619.6h0M398.4 619.9h0M391.6 619.7h0M387.5 619.5h0M405.9 620h0M386.1 619.9h0M366.8 619.6h0M372.6 620.1h0M362.8 619.7h0M401.2 620.1h0M394.5 619.6h0" stroke="#bbb" stroke-width="0.8" stroke-linecap="round" fill="none"/>
<g filter="url(#bl)">
<ellipse cx="359.3" cy="611.4" rx="8.96" ry="3.04" fill="#000" transform="rotate(-12 359.3 611.4)"/>
<path d="M360.7 613.9h0M357.4 614.5h0M354.8 614.8h0M350.7 611.8h0M364.2 610.2h0M360 611.2h0M360.1 610.9h0M354.4 611.9h0M359.5 609.8h0M362.2 613.8h0M351 612.2h0M357.9 611.7h0M359.5 610.1h0M359.1 611.4h0M359.4 614h0M359.4 608.8h0M351.8 614h0M357.4 610.7h0M352.5 612.3h0M358.6 610.4h0M357.9 613.2h0M363.4 611.5h0M358 609.3h0M363.6 613.1h0M366 612h0M360.8 611.7h0M359.7 613.5h0M358.7 615.2h0M363 610.1h0M358.7 608.8h0M355.6 611.7h0M371.1 607.5h0M363.8 610.6h0M358.1 612.7h0M349.8 615h0M368.9 609.9h0M359.1 611.7h0M362.4 609.9h0M360.1 612.1h0M357.7 612.4h0M361.2 612.2h0M354.3 611.5h0M357.6 613.8h0M359.9 608.4h0M353.7 615.9h0M360.5 608.9h0M354.9 612.6h0M366.9 612.6h0M357.4 611.3h0M368.4 607.8h0M367.1 610.3h0M360.2 613.4h0M361.4 609.5h0M351.8 613h0M362.3 613.1h0M346.9 616.3h0M362.9 613.3h0M363.3 610.9h0M361.6 611.6h0M356.2 611.9h0M359.8 610.5h0M351.6 610.5h0M362 611.7h0M359.4 609.4h0M363.3 609.9h0M349.7 616.1h0M352.8 616.7h0M361.8 610.1h0M347.5 612.7h0M367.1 612.1h0M360 608.3h0M357.3 611.3h0M361.5 610.7h0M360.4 608.3h0M356.6 614.5h0M352.5 614.4h0M370.9 610.1h0M352.9 614.9h0M350.3 613.9h0M357.7 613.9h0M365.2 610.5h0M368.5 611.2h0M356.6 610.3h0M371.3 608.2h0M361.3 610.8h0M356.4 609.2h0M358.5 611.4h0M363.9 609.5h0M351.2 611.3h0M359.2 611.9h0M362.7 610h0M362 611.1h0M367.6 609.5h0M360.2 612.2h0M365 608.6h0M356.9 611.4h0M349.3 615.8h0M364.6 610.3h0M376.3 610h0M369.8 611.9h0M363.3 608.1h0M367 610.5h0M353.4 612.7h0M363.4 612.2h0M360 610.4h0M362.8 609.3h0M359.2 612.7h0M352.4 613.5h0M349.3 611.9h0M353.2 612.5h0M362.8 610.6h0M363.8 610.6h0M358.5 612.4h0M358.2 611.9h0M364.2 609.4h0M364.6 608.4h0M357.6 608.8h0M357.3 614.6h0M361.5 613.1h0M351.7 611.3h0M361.9 612.3h0M362.8 607.8h0M361.8 610.7h0M360.1 612.1h0M357.3 608.9h0M353.5 610.1h0M352.8 612.6h0M365.5 608.9h0M355.1 610.3h0M350.8 613.3h0M356.8 611.5h0M354.7 613.2h0M353.6 613.6h0M356.3 613.4h0M355.1 613.1h0M361.4 610.8h0M367.4 610h0M355.2 613.5h0M355.1 611.4h0M359.4 611.7h0M367.1 606.7h0M358.4 613.5h0M358.6 612.1h0M366.4 607.8h0M359.8 612.7h0M355.8 609.1h0M354.4 612.8h0M360.9 614.3h0M365.3 607.4h0M364.7 611.8h0M367.2 609.4h0M356.6 612.2h0M367.1 610.8h0M367.9 610.9h0M356 610.3h0M367.9 606.9h0M357.5 611.2h0M354.6 611.4h0M360.2 615.3h0M358.8 610.6h0M360.2 612.8h0M355.1 611.6h0M350.9 614.4h0M363.2 613.2h0M354.2 616.3h0M363.5 610h0M357.3 611.3h0M353.6 614h0M356 610.8h0M361.9 611h0M356.3 611.6h0M357.4 614.2h0M364 609.1h0M359.6 613.7h0M358.5 614.7h0M361.7 612h0M349.4 615h0M361.2 612h0M361.9 611.8h0M357.1 613.4h0M359.2 609.6h0M354.3 612.7h0M360.2 607.4h0M349.5 615.3h0M360.3 616.2h0M351.6 612.6h0M356.5 613h0M366.8 612.6h0M354.8 614.5h0M353.4 613.2h0M360.4 612.3h0M355.8 614.5h0M359 611.4h0M357.6 609.9h0M363 611.2h0M362.2 614h0M354.9 611.8h0M359.6 612.8h0M358.8 613.1h0M360.9 608h0M355.2 608.7h0M357.7 611h0M362.3 611.1h0M359.4 613.6h0M361.8 608.7h0M356 612.7h0M367.6 609.3h0M358.6 612h0M363.1 610.4h0M360.6 610.4h0M356.3 610.7h0M362.4 609.8h0M362.2 611.5h0M363.2 605.9h0M354.1 610.4h0M358.8 612.9h0M372.4 611.3h0M366.1 610.6h0M357.6 612.7h0M348.9 615.2h0M359.6 612.4h0M353.8 610.7h0M356.1 612h0M360.9 610.4h0M361.3 612.2h0M353.5 612.4h0M351.4 612.1h0M363.5 609.3h0M368.7 610.3h0M363.7 610.6h0M364 612.3h0M359.6 610.4h0M357.3 615.2h0M358.2 610.8h0M355.2 609.3h0M356.9 612.5h0M356.6 610.6h0M361.5 611.7h0M357.3 612.4h0M354.8 613.9h0" stroke="#000" stroke-width="1" stroke-linecap="round" fill="none"/>
</g>
<rect x="350.3" y="587.2" width="3.4" height="1.6" fill="#a8a8a8"/>
<rect x="369.3" y="590.2" width="3.4" height="1.6" fill="#a8a8a8"/>
<line x1="343.2" y1="629" x2="409.1" y2="629" stroke="#a8a8a8" stroke-width="1.8"/>
<line x1="343.2" y1="629" x2="343.2" y2="671.5" stroke="#aaa" stroke-width="0.9"/>
<line x1="361.7" y1="637.4" x2="377.1" y2="637.4" stroke="#aaa" stroke-width="1.6"/>
<rect x="361.4" y="656.6" width="16" height="13.4" fill="none" stroke="#555" stroke-width="0.9"/>
<line x1="341.2" y1="633" x2="343" y2="633" stroke="#888" stroke-width="0.8"/>
<rect x="338.6" y="630.4" width="1.3" height="2.6" fill="#a0a0a0"/>
<line x1="341.2" y1="641.62" x2="343" y2="641.62" stroke="#888" stroke-width="0.8"/>
<rect x="338.6" y="639.02" width="1.3" height="2.6" fill="#a0a0a0"/>
<line x1="341.2" y1="650.25" x2="343" y2="650.25" stroke="#888" stroke-width="0.8"/>
<rect x="338.6" y="647.65" width="1.3" height="2.6" fill="#a0a0a0"/>
<line x1="341.2" y1="658.88" x2="343" y2="658.88" stroke="#888" stroke-width="0.8"/>
<rect x="338.6" y="656.27" width="1.3" height="2.6" fill="#a0a0a0"/>
<line x1="341.2" y1="667.5" x2="343" y2="667.5" stroke="#888" stroke-width="0.8"/>
<rect x="338.6" y="664.9" width="1.3" height="2.6" fill="#a0a0a0"/>
<rect x="348.83" y="674.5" width="2.8" height="1.4" fill="#999"/>
<line x1="350.23" y1="671.5" x2="350.23" y2="673" stroke="#999" stroke-width="0.6"/>
<rect x="367.56" y="674.5" width="2.8" height="1.4" fill="#999"/>
<line x1="368.96" y1="671.5" x2="368.96" y2="673" stroke="#999" stroke-width="0.6"/>
<rect x="384.95" y="674.5" width="2.8" height="1.4" fill="#999"/>
<line x1="386.35" y1="671.5" x2="386.35" y2="673" stroke="#999" stroke-width="0.6"/>
<rect x="401.01" y="674.5" width="2.8" height="1.4" fill="#999"/>
<line x1="402.41" y1="671.5" x2="402.41" y2="673" stroke="#999" stroke-width="0.6"/>
<path d="M354.2 672.7h0M358.7 672.4h0M350.2 673.2h0M359.8 673.2h0M358 672.8h0M358.4 672.9h0M346.3 672.6h0M346 673.2h0M350 672.7h0M353.9 672.4h0M357 673.1h0M358.6 673.2h0M349.9 672.4h0M358 673h0M350.9 672.6h0M347 673.1h0" stroke="#888" stroke-width="0.9" stroke-linecap="round" fill="none"/>
<path d="M382.9 673.1h0M377.5 672.6h0M385.3 673h0M401.8 672.7h0M393.4 672.7h0M400.9 673.1h0M387.2 672.7h0M374.5 673.2h0M398.2 672.6h0M366.1 672.5h0M405.5 672.3h0M398.6 672.8h0M387.1 672.8h0M380.7 672.9h0M366.3 673.2h0M366.9 672.4h0" stroke="#bbb" stroke-width="0.8" stroke-linecap="round" fill="none"/>
<g filter="url(#bl)">
<ellipse cx="359.5" cy="663.4" rx="9.28" ry="3.6" fill="#000" transform="rotate(-8 359.5 663.4)"/>
<path d="M355.8 661.4h0M361.8 660.2h0M361 662.9h0M363.2 663h0M359.9 662.2h0M350.9 663.9h0M363.2 664.9h0M366.1 660.5h0M355.1 665.4h0M357.9 668.6h0M360.6 660.3h0M357.2 666.8h0M350.5 665h0M353.1 667.4h0M357 661.7h0M350.9 663.2h0M346.7 664.3h0M370.3 662.1h0M357.9 661.4h0M361.1 662.3h0M355.7 666.6h0M361.4 661.4h0M366.8 662.3h0M362 663.3h0M365.5 663.8h0M358 665h0M357.6 663.9h0M367.3 660.2h0M354.3 663.4h0M357.4 666.2h0M352.2 668.9h0M367.2 661.4h0M360.3 662.6h0M363 664.2h0M363.4 664.3h0M369 661.7h0M362.9 662.6h0M359.8 663.8h0M359.3 664.1h0M355.2 663.7h0M356.2 661.6h0M355.9 662.9h0M358.3 660.5h0M357.9 661.4h0M355.5 664.3h0M365.1 663.2h0M357 662.9h0M365.7 659.4h0M364.7 659.7h0M356.4 663.9h0M358.9 666.7h0M361.9 663h0M364.2 662.8h0M355.8 666.1h0M367.3 664.8h0M354.2 667.9h0M357.6 665.2h0M366.1 667.1h0M351.2 662.6h0M365.5 663.5h0M357.2 658h0M361.6 662.7h0M347.3 670.4h0M346.9 664.1h0M359.5 663.9h0M363.2 662.4h0M355 663.3h0M348.8 662.7h0M369.1 660.7h0M359.6 667.1h0M364.8 662.9h0M363.1 662.4h0M355.3 666h0M360.6 666.4h0M358.1 662.9h0M361.2 662.8h0M357.7 661.9h0M360.9 663.8h0M368.6 662.1h0M350.9 665.5h0M370.7 661h0M355.5 663.6h0M345.2 664.8h0M358.2 660.6h0M362.1 661.3h0M350.1 663.3h0M363.2 666.6h0M365.8 662.9h0M356.9 663.3h0M364.2 661.7h0M361.8 665h0M354.8 662.9h0M361.7 663.1h0M358.7 662.5h0M359.7 667h0M365.8 659.3h0M359.8 663.5h0M359.3 660.7h0M358.9 663.8h0M356.2 664.5h0M347 662.2h0M360.1 664.1h0M358.6 662.6h0M360.7 665.4h0M363.9 662.6h0M357.5 665.8h0M362.4 664.7h0M357.9 661.9h0M360.3 662.1h0M365.4 664.2h0M348.8 666.2h0M366.4 664.5h0M356.9 662.1h0M364.6 664.7h0M359.5 661.1h0M352 665h0M355.2 662.7h0M362 665.1h0M349.1 663.6h0M365.9 662.4h0M358 664.9h0M353.5 661.8h0M360 666.4h0M364.5 662.7h0M364.4 661.9h0M353.2 661h0M361.1 664.9h0M361.3 663.1h0M357.8 665.8h0M358.9 660.7h0M366.1 661.2h0M361.4 663.1h0M364.8 663.1h0M365.7 662.9h0M357.1 662.7h0M362.5 661.3h0M364.1 662.3h0M354.6 662.4h0M359.3 666.9h0M363.3 662.9h0M355.5 667.7h0M358.1 663.6h0M357.8 666.3h0M360.3 662.4h0M360.2 661.3h0M354.2 663.8h0M345.5 667.7h0M369.1 659.9h0M358.4 660.5h0M360.4 663.7h0M362.8 660.3h0M356.3 662.6h0M358.9 668h0M358.5 663.5h0M357.2 665.3h0M372.6 663.8h0M366.8 660.3h0M364.8 662.7h0M366 664.6h0M362.3 659.7h0M360 662.3h0M361.7 663.2h0M364.3 659.6h0M355.8 663.8h0M361 662.4h0M359.4 663.5h0M364.7 662.4h0M360.2 659.7h0M346.1 662.4h0M360.7 658.7h0M361.5 662.9h0M359.3 662h0M357.6 665.3h0M361.3 663.1h0M357.1 664.2h0M365.4 662.5h0M357.4 661.4h0M359.7 661.6h0M352.6 666.1h0M355.8 659.9h0M356.4 667.5h0M358.6 660.9h0M354.2 665.6h0M361.6 663.5h0M358.7 664.5h0M367.3 663.3h0M358.3 660.8h0M362.1 666.1h0M362.4 660.5h0M360.8 665.8h0M356.5 664.8h0M366 665.7h0M351.1 661.1h0M361.6 664.5h0M357.7 663.6h0M357.8 666h0M348.5 665.4h0M352.9 663h0M351.6 662.7h0M359.4 663.5h0M368.4 661.7h0M361.3 663.8h0M361.2 666.1h0M360.2 663.6h0M358.9 663.5h0M359.5 665.4h0M359.6 663.5h0M359.5 664.9h0M357.4 665.5h0M356.8 665.1h0M369.1 662.5h0M358.7 661.2h0M363.2 662.9h0M363.9 661.5h0M362.6 666.5h0M361.4 662.5h0M353 664.3h0M363 664.1h0M353.6 662.2h0M354.3 662.1h0M358.2 664.1h0M369.2 662.4h0M366.3 659.2h0M367.4 663.9h0M361.9 664.7h0M363.1 666.7h0M363.1 659.5h0M351.2 667.8h0M359.4 666h0M357.6 662.4h0M357.9 664.3h0M360.3 662.1h0M362.4 664.2h0M354.6 661.9h0M349.6 664.2h0M359.4 662h0M356.5 663.6h0M359.8 664.5h0M363.8 663.7h0M364.8 660.7h0M362.6 663.7h0M354.1 662.8h0M361.7 663.2h0M353.1 663.2h0M367.4 664h0M360.3 666h0M354.9 663.7h0M364.2 662.1h0M354.1 665.3h0M366.8 657.3h0M359.9 660.9h0M357.6 660.9h0M372.3 660.2h0M359.5 662h0M354.4 663.2h0M361 666.7h0M361.4 666.2h0M354.2 664.3h0M356.9 660.7h0M378.1 660.3h0" stroke="#000" stroke-width="1" stroke-linecap="round" fill="none"/>
</g>
<rect x="351.3" y="641.2" width="3.4" height="1.6" fill="#a8a8a8"/>
<rect x="369.3" y="645.2" width="3.4" height="1.6" fill="#a8a8a8"/>
<rect x="342.2" y="685.4" width="66.9" height="43.4" fill="none" stroke="#a4a4a4" stroke-width="0.9"/>
<polyline points="361.7,685.4 361.7,713.4" fill="none" stroke="#888888" stroke-width="0.9"/>
<rect x="362.5" y="694.2" width="14.3" height="19.2" fill="none" stroke="#888" stroke-width="0.9"/>
<line x1="342.2" y1="713.4" x2="376.8" y2="713.4" stroke="#999" stroke-width="0.9"/>
<rect x="358.6" y="713.4" width="18.2" height="15.4" fill="none" stroke="#aaa" stroke-width="0.8"/>
<line x1="340.2" y1="689.4" x2="342" y2="689.4" stroke="#888" stroke-width="0.8"/>
<rect x="337.6" y="686.8" width="1.3" height="2.6" fill="#a0a0a0"/>
<line x1="340.2" y1="698.25" x2="342" y2="698.25" stroke="#888" stroke-width="0.8"/>
<rect x="337.6" y="695.65" width="1.3" height="2.6" fill="#a0a0a0"/>
<line x1="340.2" y1="707.1" x2="342" y2="707.1" stroke="#888" stroke-width="0.8"/>
<rect x="337.6" y="704.5" width="1.3" height="2.6" fill="#a0a0a0"/>
<line x1="340.2" y1="715.95" x2="342" y2="715.95" stroke="#888" stroke-width="0.8"/>
<rect x="337.6" y="713.35" width="1.3" height="2.6" fill="#a0a0a0"/>
<line x1="340.2" y1="724.8" x2="342" y2="724.8" stroke="#888" stroke-width="0.8"/>
<rect x="337.6" y="722.2" width="1.3" height="2.6" fill="#a0a0a0"/>
<rect x="348.83" y="731.8" width="2.8" height="1.4" fill="#999"/>
<line x1="350.23" y1="728.8" x2="350.23" y2="730.3" stroke="#999" stroke-width="0.6"/>
<rect x="367.56" y="731.8" width="2.8" height="1.4" fill="#999"/>
<line x1="368.96" y1="728.8" x2="368.96" y2="730.3" stroke="#999" stroke-width="0.6"/>
<rect x="384.95" y="731.8" width="2.8" height="1.4" fill="#999"/>
<line x1="386.35" y1="728.8" x2="386.35" y2="730.3" stroke="#999" stroke-width="0.6"/>
<rect x="401.01" y="731.8" width="2.8" height="1.4" fill="#999"/>
<line x1="402.41" y1="728.8" x2="402.41" y2="730.3" stroke="#999" stroke-width="0.6"/>
<path d="M358.7 729.9h0M356.3 730.1h0M361.2 730h0M350.7 729.6h0M352.7 730.1h0M349.8 729.7h0M352.9 729.7h0M347.3 730h0M350.5 730.1h0M353.8 730h0M346.6 729.6h0M354.3 730.6h0M349.3 730h0M350 730.3h0M353.1 730.4h0M344.3 729.7h0" stroke="#888" stroke-width="0.9" stroke-linecap="round" fill="none"/>
<path d="M371.5 730h0M380.2 730h0M405.6 730h0M388.1 730.6h0M391 730.2h0M399.4 729.9h0M363.9 730.6h0M386.2 730.2h0M365.3 730.3h0M379 730.2h0M375 730.5h0M378.8 729.9h0M402.3 729.8h0M374.4 730.1h0M406.2 729.7h0M371.7 730.4h0" stroke="#bbb" stroke-width="0.8" stroke-linecap="round" fill="none"/>
<g filter="url(#bl)">
<ellipse cx="353.2" cy="722.6" rx="2.56" ry="2.08" fill="#333"/>
<path d="M354.8 723.3h0M353.8 720.4h0M353.4 721.9h0M354.5 721.7h0M354 721.1h0M354.7 721.6h0M353.2 723.4h0M352.6 722.6h0M355 725.1h0M350.1 721.3h0M354.4 723.9h0M352.4 722.7h0M352.9 725.8h0M352.9 720.9h0M350.5 720.8h0M355.4 722.1h0M356.6 723.5h0M353.9 723.5h0M354.6 723.9h0M351.5 721.8h0M352.3 722.7h0M352.8 720.9h0M352 725.1h0M356.9 721.4h0M353.9 722.5h0M351.7 723.6h0M353.1 724.9h0M354 722.2h0M348.6 722.5h0M354.7 721.6h0M354.7 723.6h0M350.2 722.3h0M353.8 723.7h0M353.5 722.6h0M352.6 722.2h0M353.2 721.1h0M354.3 722.1h0M354.1 721.9h0M353.9 722.8h0M354.7 723.2h0M354.8 722.4h0M353.1 722.2h0M351 722.4h0M355.1 723.7h0M351.7 723h0M354.5 720.7h0M353.8 723.1h0M354.5 723h0M350.2 719.8h0M356.6 722h0" stroke="#333" stroke-width="1" stroke-linecap="round" fill="none"/>
</g>
<rect x="351.3" y="697.2" width="3.4" height="1.6" fill="#a8a8a8"/>
<rect x="368.3" y="701.2" width="3.4" height="1.6" fill="#a8a8a8"/>
<rect x="368.3" y="719.2" width="3.4" height="1.6" fill="#a8a8a8"/>
<line x1="437.5" y1="471.5" x2="503.8" y2="471.5" stroke="#999" stroke-width="1.4"/>
<line x1="438" y1="471.5" x2="438" y2="516.5" stroke="#c4c4c4" stroke-width="0.8"/>
<line x1="438" y1="516.5" x2="503.8" y2="516.5" stroke="#d0d0d0" stroke-width="0.8"/>
<polyline points="440.7,480.8 457,480.8" fill="none" stroke="#888888" stroke-width="0.9"/>
<polyline points="457,475.5 457,496.6" fill="none" stroke="#888888" stroke-width="0.9"/>
<polyline points="457,486.7 488.7,486.7" fill="none" stroke="#888888" stroke-width="0.9"/>
<polyline points="469,486.7 469,486.7" fill="none" stroke="#888888" stroke-width="0.9"/>
<polyline points="488.7,475.5 488.7,515.7" fill="none" stroke="#888888" stroke-width="0.9"/>
<polyline points="462.5,515.7 462.5,498.75 488.7,498.75" fill="none" stroke="#888888" stroke-width="0.9"/>
<line x1="435.5" y1="475.5" x2="437.3" y2="475.5" stroke="#888" stroke-width="0.8"/>
<rect x="432.9" y="472.9" width="1.3" height="2.6" fill="#a0a0a0"/>
<line x1="435.5" y1="484.75" x2="437.3" y2="484.75" stroke="#888" stroke-width="0.8"/>
<rect x="432.9" y="482.15" width="1.3" height="2.6" fill="#a0a0a0"/>
<line x1="435.5" y1="494" x2="437.3" y2="494" stroke="#888" stroke-width="0.8"/>
<rect x="432.9" y="491.4" width="1.3" height="2.6" fill="#a0a0a0"/>
<line x1="435.5" y1="503.25" x2="437.3" y2="503.25" stroke="#888" stroke-width="0.8"/>
<rect x="432.9" y="500.65" width="1.3" height="2.6" fill="#a0a0a0"/>
<line x1="435.5" y1="512.5" x2="437.3" y2="512.5" stroke="#888" stroke-width="0.8"/>
<rect x="432.9" y="509.9" width="1.3" height="2.6" fill="#a0a0a0"/>
<rect x="444.06" y="519.5" width="2.8" height="1.4" fill="#999"/>
<line x1="445.46" y1="516.5" x2="445.46" y2="518" stroke="#999" stroke-width="0.6"/>
<rect x="462.62" y="519.5" width="2.8" height="1.4" fill="#999"/>
<line x1="464.02" y1="516.5" x2="464.02" y2="518" stroke="#999" stroke-width="0.6"/>
<rect x="479.86" y="519.5" width="2.8" height="1.4" fill="#999"/>
<line x1="481.26" y1="516.5" x2="481.26" y2="518" stroke="#999" stroke-width="0.6"/>
<rect x="495.77" y="519.5" width="2.8" height="1.4" fill="#999"/>
<line x1="497.17" y1="516.5" x2="497.17" y2="518" stroke="#999" stroke-width="0.6"/>
<path d="M441.7 518.1h0M453.1 517.8h0M457.3 517.9h0M441.6 517.5h0M441.8 517.9h0M450.7 518.2h0M439.7 517.3h0M456.9 517.6h0M444.2 518.2h0M441.5 518.1h0M455.5 517.9h0M450.4 517.3h0M450.4 517.9h0M453.3 517.8h0M441.5 517.5h0M451.2 517.4h0" stroke="#888" stroke-width="0.9" stroke-linecap="round" fill="none"/>
<path d="M462.1 517.6h0M492.8 517.8h0M473.2 518.3h0M483.2 517.5h0M482.5 518.2h0M473.8 517.7h0M483 518.3h0M485.7 517.5h0M483.2 517.6h0M478.4 518h0M458.3 517.8h0M471.3 517.9h0M493.8 517.8h0M485.4 517.6h0M468.8 517.8h0M481 517.5h0" stroke="#bbb" stroke-width="0.8" stroke-linecap="round" fill="none"/>
<rect x="446.3" y="487.2" width="3.4" height="1.6" fill="#a8a8a8"/>
<rect x="471.3" y="480.2" width="3.4" height="1.6" fill="#a8a8a8"/>
<rect x="477.3" y="491.7" width="3.4" height="1.6" fill="#a8a8a8"/>
<rect x="474.3" y="506.2" width="3.4" height="1.6" fill="#a8a8a8"/>
<line x1="437.5" y1="575.4" x2="503.8" y2="575.4" stroke="#999" stroke-width="1.4"/>
<line x1="438" y1="575.4" x2="438" y2="618.8" stroke="#c4c4c4" stroke-width="0.8"/>
<line x1="438" y1="618.8" x2="503.8" y2="618.8" stroke="#d0d0d0" stroke-width="0.8"/>
<polyline points="438.9,584.9 457.4,584.9 457.4,600.3" fill="none" stroke="#888888" stroke-width="0.9"/>
<polyline points="457.4,591.1 488.8,591.1" fill="none" stroke="#888888" stroke-width="0.9"/>
<polyline points="488.8,580.3 488.8,618.8" fill="none" stroke="#888888" stroke-width="0.9"/>
<polyline points="462.3,618.8 462.3,603.4 488.8,603.4" fill="none" stroke="#888888" stroke-width="0.9"/>
<line x1="435.5" y1="579.4" x2="437.3" y2="579.4" stroke="#888" stroke-width="0.8"/>
<rect x="432.9" y="576.8" width="1.3" height="2.6" fill="#a0a0a0"/>
<line x1="435.5" y1="588.25" x2="437.3" y2="588.25" stroke="#888" stroke-width="0.8"/>
<rect x="432.9" y="585.65" width="1.3" height="2.6" fill="#a0a0a0"/>
<line x1="435.5" y1="597.1" x2="437.3" y2="597.1" stroke="#888" stroke-width="0.8"/>
<rect x="432.9" y="594.5" width="1.3" height="2.6" fill="#a0a0a0"/>
<line x1="435.5" y1="605.95" x2="437.3" y2="605.95" stroke="#888" stroke-width="0.8"/>
<rect x="432.9" y="603.35" width="1.3" height="2.6" fill="#a0a0a0"/>
<line x1="435.5" y1="614.8" x2="437.3" y2="614.8" stroke="#888" stroke-width="0.8"/>
<rect x="432.9" y="612.2" width="1.3" height="2.6" fill="#a0a0a0"/>
<rect x="444.06" y="621.8" width="2.8" height="1.4" fill="#999"/>
<line x1="445.46" y1="618.8" x2="445.46" y2="620.3" stroke="#999" stroke-width="0.6"/>
<rect x="462.62" y="621.8" width="2.8" height="1.4" fill="#999"/>
<line x1="464.02" y1="618.8" x2="464.02" y2="620.3" stroke="#999" stroke-width="0.6"/>
<rect x="479.86" y="621.8" width="2.8" height="1.4" fill="#999"/>
<line x1="481.26" y1="618.8" x2="481.26" y2="620.3" stroke="#999" stroke-width="0.6"/>
<rect x="495.77" y="621.8" width="2.8" height="1.4" fill="#999"/>
<line x1="497.17" y1="618.8" x2="497.17" y2="620.3" stroke="#999" stroke-width="0.6"/>
<path d="M453.2 620.1h0M445.9 619.9h0M454.5 620.5h0M456.3 619.8h0M440.8 620.2h0M439.9 620.5h0M451.6 619.9h0M447.4 620.3h0M442.4 620h0M453.6 620.3h0M450 619.7h0M443.4 619.9h0M440.1 620.2h0M449.7 620.5h0M449.4 620.5h0M447.9 620.1h0" stroke="#888" stroke-width="0.9" stroke-linecap="round" fill="none"/>
<path d="M469.9 620.1h0M499 620.1h0M457.5 620h0M466.2 620.2h0M480 620.1h0M498.6 620.4h0M461.3 619.6h0M488.5 620.2h0M486.4 620.1h0M459 620.1h0M494.5 620.2h0M459.4 619.7h0M497.6 620.1h0M464.7 620.3h0M498.5 620.5h0M486 620.4h0" stroke="#bbb" stroke-width="0.8" stroke-linecap="round" fill="none"/>
<g filter="url(#bl)">
<ellipse cx="447.4" cy="595.6" rx="4.76" ry="6.63" fill="#000"/>
<path d="M449.6 597.5h0M448.2 592.8h0M450.3 600.8h0M447.3 595.2h0M450.2 597.2h0M450.5 594.3h0M448.2 594.5h0M446.1 594.6h0M446.7 597.2h0M446.7 595.8h0M445.5 591.7h0M450.7 592.4h0M451.6 598.6h0M442.1 593.6h0M446.4 595.7h0M447 593.7h0M450.3 595.2h0M449.6 593.4h0M445.8 599.9h0M446.7 592.1h0M447 599h0M447 593.3h0M448.9 598.8h0M446.9 594.6h0M446.6 604.3h0M447 601.2h0M447.1 596.9h0M442.7 596.2h0M447.5 594.6h0M446.5 591.2h0M443.9 596.1h0M445.9 595.3h0M447 594h0M445.7 601.6h0M444.8 594h0M446.7 591.9h0M445.2 598.4h0M449.6 596h0M454.9 598.3h0M450.3 593h0M449.9 601h0M446.5 601.4h0M445.5 592h0M447.3 593h0M448.9 592.1h0M447.6 589.3h0M447.3 599h0M446.8 596.6h0M449.9 592.1h0M444.5 595.9h0M448.1 594.7h0M445.2 599.5h0M444.7 594.8h0M447.3 597.9h0M446.4 593h0M452.1 592.9h0M449.3 595.1h0M446.3 595.5h0M446.8 596.6h0M441.5 595.5h0M447.6 592.5h0M446.5 603.1h0M451.7 597.7h0M447.9 594.6h0M450.6 594.2h0M445.5 597.8h0M445.2 593.1h0M450.8 590.5h0M447.3 596h0M448 590.9h0M446.9 594.5h0M451.9 598.8h0M445.7 598.4h0M448.9 595.2h0M446.8 594.7h0M443.8 593.6h0M449.6 600.2h0M451.7 594.4h0M448.8 587.9h0M446.8 591.6h0M449.3 590.3h0M445 592.1h0M448.3 598.3h0M445.3 601.4h0M447.8 592.9h0M448.2 595.6h0M449.3 596.7h0M452.5 599.3h0M445.9 598.1h0M449.2 592.4h0M445.7 593h0M441.7 597.6h0M446.9 599.5h0M446.1 595.8h0M449.1 598.7h0M448.2 592.3h0M452.5 598.4h0M450.6 600.8h0M450.7 596.9h0M448.5 597.6h0M443.9 598.2h0M445.2 597h0M445.1 597.9h0M446.3 603.6h0M447.9 597.2h0M445.3 594.7h0M447.3 594.7h0M446.4 592.8h0M449.2 594.4h0M445.5 596.8h0M445.5 595h0M446.2 592.6h0M446.9 593h0M444.5 596.7h0M446.7 590.9h0M446.5 596.2h0M448.4 596.8h0M448 597.5h0M446.3 593.1h0M448.8 594.3h0M447.4 597.7h0M449.6 599.5h0M445.8 594.4h0M448.7 591h0M444.5 597.5h0M446 592.7h0M449.3 597.3h0M449.5 594.5h0M446.7 594.5h0M448.1 589.1h0M445.8 597.9h0M445.6 595.4h0M447.7 597.3h0M446.3 592h0M453.2 593.3h0M451.4 590h0M447.7 595h0M451.8 602.1h0M449.7 592.4h0M445.6 593.2h0M446.2 596.4h0M445.6 594.8h0M450.8 600.2h0M443.1 592.6h0M446.6 599.7h0M446.7 601.7h0M448.3 600.2h0M445.4 594.6h0M449.8 597.4h0M443.1 594.7h0M447.8 597.6h0M446 601.1h0M447.8 600.2h0M448.4 595.9h0M446.7 591.9h0M449.4 598h0M449.6 594.4h0M445.1 594.4h0M446.7 595.6h0M449.7 592.7h0M446.3 597.8h0M449.5 602.6h0M448.6 592.9h0M445 593.1h0M447.6 596.4h0M447.3 593.7h0M447 595.4h0M448.8 595.9h0M445.6 591.9h0M450.8 595.3h0M447 595.5h0M450 594.6h0M447.8 594.9h0M448.8 592.4h0M447.9 598.9h0M450.2 597.6h0M448.1 600.6h0M449.1 600h0M444.7 592.1h0M449.3 594.8h0M446.4 592.6h0M450.9 591.8h0M447.7 591.2h0M447 602.7h0M453 594h0M445.1 600.8h0M445.5 589.9h0M448.2 592.2h0M444.1 599.2h0M445.7 592.2h0M447.8 595h0M450 595.9h0M451.1 599.2h0M451.5 599.2h0M447.6 597.3h0M447.5 590.7h0M444.7 598h0M442 593h0M444.5 595.4h0M445 596.4h0M447 594.1h0M445.5 588.6h0M447.6 591.5h0M446.8 596.8h0M449.8 597.8h0M450.8 591.1h0M449 600.6h0M448.3 592.1h0M448.4 594h0M446 599h0M447 592.1h0M445.9 601.8h0M445.5 597.7h0M447.8 599.3h0M446.8 592.6h0M446 592.3h0M453.4 596.2h0M446.7 599.6h0M448.9 595h0M448.9 596.5h0" stroke="#000" stroke-width="1" stroke-linecap="round" fill="none"/>
</g>
<g filter="url(#bl)">
<ellipse cx="447.6" cy="610.6" rx="4.76" ry="3.74" fill="#000"/>
<path d="M450.2 613.6h0M446.9 610.5h0M447.2 612.8h0M448.5 612h0M449.7 609.5h0M447.9 613.1h0M449.8 612.1h0M447 610h0M445.7 610.1h0M447.5 608h0M450.3 609.2h0M448.2 611.7h0M446.4 607.4h0M449.9 611.3h0M447.1 612.6h0M449.7 608.9h0M447.5 607.5h0M447 613.1h0M445.7 612.1h0M444.2 610.1h0M449.8 613.7h0M448.7 612h0M451.6 606.2h0M443.7 614h0M453.3 611.7h0M447.8 611.1h0M447.7 609.5h0M447.6 610.4h0M449.2 611.8h0M449.9 611.7h0M445.4 613.1h0M441.5 610.8h0M448.4 609.7h0M451.9 608.7h0M445 609.7h0M448.6 612h0M447.9 611.8h0M446 609.5h0M447.9 608.2h0M448.1 609.9h0M449.2 608.8h0M446.4 609.6h0M446.8 608.8h0M447 608.2h0M448.9 611.8h0M447.6 610.3h0M445.6 608.9h0M447.1 609h0M445 610.9h0M447.6 609.9h0M445.8 610.5h0M446.1 609.8h0M448.1 611.9h0M449.4 609.5h0M450.4 608.5h0M447.2 612.9h0M453.1 610.8h0M446.8 609.9h0M444.9 610.3h0M446.7 609.3h0M450.4 609.2h0M451.5 612.1h0M449.1 609.6h0M446.5 607h0M448.3 610.1h0M448.5 609.4h0M448.7 607.9h0M442.6 611.5h0M450.1 605h0M450.6 610h0M447.3 607.9h0M445.4 611.9h0M446 610.5h0M447.3 614.2h0M449.7 608.2h0M446.5 608.6h0M444.5 609.4h0M450.1 610.7h0M449.2 610.4h0M446.7 610.8h0M447.5 614h0M451.7 611.3h0M449 607h0M447.4 614.9h0M445.8 612.1h0M450.4 609.9h0M447.1 609.8h0M449.4 610.6h0M451.1 612.7h0M447.6 615.2h0M446.9 609.5h0M447.1 609h0M446.7 610.5h0M449.7 607.8h0M444.5 609.2h0M446.9 611.4h0M445.8 613.3h0M446.4 610.2h0M447.8 612.7h0M448.3 610.7h0M446.4 610.9h0M448.5 610h0M447.6 607.3h0M446.4 612.7h0M450.9 610.5h0M442.7 613.9h0M447.2 615.2h0M446.7 612.4h0M446.2 613.1h0M450.3 608.7h0M450.6 615.7h0M447.1 608.4h0M448.3 609.9h0M444.2 608.7h0M448.2 607.9h0M450.1 611.4h0M447.2 613.1h0M445.5 611.8h0M444.6 610h0M449.1 609.6h0M447.4 611.8h0M451.1 612.9h0M448.7 610.1h0M444.3 613.7h0M451.9 606.7h0M449.6 610.5h0M449.2 611.2h0M447.2 610.6h0M447.5 612.7h0M447 609.6h0M449.1 611.8h0M448.6 611.1h0M451 612.6h0M448.1 610.2h0M449.1 607.2h0M446.4 609.3h0M448 609.9h0M453.2 611.9h0M448.5 614.6h0M447.6 610h0M450.4 612.1h0M449.7 612.8h0M446.8 609.4h0M446 610.8h0M449.9 608.7h0M446.4 608.2h0M452.1 612h0M448.1 608.4h0M445.3 609.4h0M447.7 608.3h0" stroke="#000" stroke-width="1" stroke-linecap="round" fill="none"/>
</g>
<g filter="url(#bl)">
<path d="M446.9 606.6h0M447.4 604.2h0M443 603.4h0M447.1 602.5h0M444.5 603.8h0M445.3 602.8h0M444 603.8h0M449.3 602.2h0M448.1 600.8h0M448.6 605.2h0M446.6 605.9h0M445.6 604.1h0M451 604h0M445 606.5h0M448.6 603.4h0M443.6 600h0M444.2 607.2h0M448 602.2h0M449.9 607.1h0M445.6 605h0M443.9 604.8h0M451.3 601h0M447.5 602.6h0M447.2 604.2h0M448 605.9h0M448.5 606.2h0M449.6 606.4h0M446 604.9h0M446.6 602.2h0M451.6 604.6h0M447.5 599.5h0M446.9 605.7h0M447 602.8h0M450.5 603.3h0M446.7 603.8h0M446.9 606.3h0M448.6 603.9h0M446.7 603.5h0M451 603.3h0M448.8 600.6h0M448.1 605.5h0M450.1 604.7h0M448.6 604.7h0M449.7 608.4h0M447.8 602.3h0M448.7 603.8h0M448.8 605.7h0M447.7 603.1h0M448.1 601.3h0M448 602.1h0M448.4 604.3h0M447 601.4h0M447.5 602.5h0M447.1 605.5h0M449.4 601.2h0M449.4 606.9h0M449.8 604.6h0M447.2 607.7h0M446.7 600.7h0M447.6 604.6h0M445.2 601.4h0M451.6 604.2h0M449.1 602.7h0M444.2 603.6h0M450.2 602.6h0M443.7 603.6h0M446.8 604h0M445.2 603.3h0M446.3 605.9h0M447.7 605.9h0M447.3 599.4h0M443.3 605.1h0M449.3 605.9h0M447.3 600.2h0M446.4 604.9h0M450.3 603.3h0M446.2 602.3h0M449.6 605.9h0M443.6 606.6h0M445.5 600.8h0M444.1 602.4h0M452.3 609.5h0M444.8 602.6h0M447.8 604.9h0M446.4 600.6h0M446.6 602.5h0M443.7 604.3h0M444.3 600.3h0M450.6 606h0M450.5 604.3h0" stroke="#222" stroke-width="1" stroke-linecap="round" fill="none"/>
</g>
<rect x="472.3" y="583.2" width="3.4" height="1.6" fill="#a8a8a8"/>
<rect x="479.3" y="596.2" width="3.4" height="1.6" fill="#a8a8a8"/>
<rect x="475.3" y="609.2" width="3.4" height="1.6" fill="#a8a8a8"/>
<rect x="436.9" y="628.9" width="66.6" height="43.1" fill="none" stroke="#a4a4a4" stroke-width="0.9"/>
<polyline points="436.9,638.2 456.2,638.2" fill="none" stroke="#888888" stroke-width="0.9"/>
<rect x="456.5" y="633.1" width="32" height="10.4" fill="none" stroke="#777" stroke-width="0.9"/>
<rect x="468.5" y="643.5" width="20" height="13.9" fill="none" stroke="#777" stroke-width="0.9"/>
<line x1="436.9" y1="655.1" x2="456.2" y2="655.1" stroke="#777" stroke-width="0.9"/>
<line x1="434.9" y1="632.9" x2="436.7" y2="632.9" stroke="#888" stroke-width="0.8"/>
<rect x="432.3" y="630.3" width="1.3" height="2.6" fill="#a0a0a0"/>
<line x1="434.9" y1="641.67" x2="436.7" y2="641.67" stroke="#888" stroke-width="0.8"/>
<rect x="432.3" y="639.07" width="1.3" height="2.6" fill="#a0a0a0"/>
<line x1="434.9" y1="650.45" x2="436.7" y2="650.45" stroke="#888" stroke-width="0.8"/>
<rect x="432.3" y="647.85" width="1.3" height="2.6" fill="#a0a0a0"/>
<line x1="434.9" y1="659.23" x2="436.7" y2="659.23" stroke="#888" stroke-width="0.8"/>
<rect x="432.3" y="656.62" width="1.3" height="2.6" fill="#a0a0a0"/>
<line x1="434.9" y1="668" x2="436.7" y2="668" stroke="#888" stroke-width="0.8"/>
<rect x="432.3" y="665.4" width="1.3" height="2.6" fill="#a0a0a0"/>
<rect x="443.49" y="675" width="2.8" height="1.4" fill="#999"/>
<line x1="444.89" y1="672" x2="444.89" y2="673.5" stroke="#999" stroke-width="0.6"/>
<rect x="462.14" y="675" width="2.8" height="1.4" fill="#999"/>
<line x1="463.54" y1="672" x2="463.54" y2="673.5" stroke="#999" stroke-width="0.6"/>
<rect x="479.46" y="675" width="2.8" height="1.4" fill="#999"/>
<line x1="480.86" y1="672" x2="480.86" y2="673.5" stroke="#999" stroke-width="0.6"/>
<rect x="495.44" y="675" width="2.8" height="1.4" fill="#999"/>
<line x1="496.84" y1="672" x2="496.84" y2="673.5" stroke="#999" stroke-width="0.6"/>
<path d="M448.5 672.9h0M446.4 673.5h0M454.5 672.9h0M448.1 673.6h0M441 673.7h0M455.8 673.1h0M442.7 672.9h0M442.8 673.2h0M451.6 673.7h0M448.9 673.8h0M446.6 673.5h0M438.9 673.2h0M439.3 672.9h0M453.4 672.9h0M444.3 673.3h0M448.3 672.8h0" stroke="#888" stroke-width="0.9" stroke-linecap="round" fill="none"/>
<path d="M461.8 673.5h0M474.9 672.9h0M478.2 673.2h0M501.5 672.8h0M464.9 672.9h0M481.5 673.8h0M491.6 672.9h0M481 673.2h0M500.5 673.5h0M483.8 673.1h0M476.4 673.3h0M473.8 673.4h0M460.9 673.2h0M500.9 673.2h0M479.5 673.6h0M493.1 673.5h0" stroke="#bbb" stroke-width="0.8" stroke-linecap="round" fill="none"/>
<g filter="url(#bl)">
<ellipse cx="447.3" cy="649.5" rx="5.02" ry="6.46" fill="#000"/>
<path d="M444.4 652.9h0M448.4 653.7h0M448.9 649.7h0M448.3 652.2h0M447.3 648.8h0M448.1 648.5h0M453.1 647.1h0M443.7 645.5h0M449.8 648.2h0M447.7 648.8h0M448 645h0M447.5 647.7h0M449.9 651.4h0M444.3 646.5h0M448.7 653.2h0M449.2 649h0M450 642.1h0M446.1 646.5h0M444.9 651.3h0M448 650.4h0M447 651.4h0M449.2 647.7h0M449.6 646.6h0M451.5 645.4h0M446.6 646.1h0M447.4 653.6h0M445.5 655h0M450.7 650.7h0M445.9 652.3h0M440.5 647.1h0M449.6 649.4h0M453.3 647.4h0M444.2 648.8h0M448.7 654.8h0M443.1 650h0M450.4 647.4h0M446.2 645.7h0M449.2 652.1h0M448.7 650.3h0M449.7 649.1h0M449 652.1h0M450.4 651.1h0M447.5 651.7h0M443.6 644h0M451.2 649.9h0M444.8 647.7h0M447 649.7h0M445.5 652.6h0M443.2 658.3h0M444.7 654.7h0M448.9 644.2h0M444.4 649.7h0M448 648.2h0M447.4 650h0M444.6 649.7h0M452.8 647.5h0M444.9 651.6h0M450.6 652.8h0M445.8 649.3h0M447.8 648.8h0M448.3 652.9h0M448.7 649.5h0M446.8 655.1h0M444.4 655.8h0M449.1 649.8h0M445.5 655.3h0M450.3 652.4h0M452.4 643.9h0M447.6 648.5h0M445.6 649.7h0M448.6 651.2h0M447 645.3h0M448.7 651.4h0M452.5 652.4h0M447.4 645.9h0M453.9 647.4h0M447.8 651.9h0M448.6 653.7h0M444.8 647.3h0M447.8 645.6h0M445.8 653.9h0M448.1 649.2h0M445.9 649.7h0M447.3 646.1h0M449.3 645.5h0M450.5 648.4h0M441.8 644.6h0M448 646.8h0M451.8 653.9h0M452.5 652.3h0M450.6 647.6h0M450.5 648.1h0M447.2 645.2h0M447.5 650.8h0M447.2 646h0M449.5 652.4h0M447.1 652h0M449.7 646.4h0M447.2 643.6h0M444.8 650.9h0M445.2 650.7h0M448.2 643h0M446.1 654.3h0M447.4 649.9h0M445.6 644.4h0M443.4 658.6h0M446.9 646.7h0M447.6 643.4h0M450.8 654.9h0M445.5 650.5h0M445.1 652.2h0M445.3 649h0M450.6 651.2h0M446.5 644.7h0M443.4 653.3h0M448.6 649.7h0M450.4 650h0M445.5 649.2h0M447.1 649.5h0M453.5 651.3h0M448 648.7h0M445.7 646.3h0M442.7 648h0M443.6 643.6h0M445 643.1h0M450.7 653.5h0M444.9 656h0M449 641.5h0M447.4 646.3h0M443 648.7h0M450.2 650.9h0M443.7 647.4h0M445.5 653.1h0M447.1 646.4h0M445.1 643.2h0M445.2 652.4h0M442.6 650.1h0M447 652.1h0M444.5 652.4h0M451.2 656.8h0M443.3 649.4h0M446.8 649.9h0M444.9 652.2h0M453.1 654.3h0M445 647.7h0M449.1 649.9h0M445.4 653.4h0M448.6 652.8h0M446.9 653.6h0M446.2 645.9h0M447.3 645h0M450.4 651.8h0M443.1 650h0M449.4 648.4h0M448.4 647.6h0M447.1 649.2h0M448.5 646.4h0M444.5 650.6h0M446.1 651.2h0M446.1 645.3h0M449.2 650.4h0M449.1 648.4h0M446.4 653.5h0M443.1 655.1h0M448.6 649.3h0M447.5 651.4h0M445.4 650.4h0M444.9 643.6h0M447.8 649.8h0M448.9 651.3h0M449.1 652h0M444.7 653.4h0M454 647.7h0M444.2 651.7h0M449.6 652.7h0M451.1 645.1h0M448.3 651h0M450.4 646.6h0M447.4 648.3h0M446.9 649h0M446.9 643.8h0M447.2 649.7h0M446.4 638.1h0M445.6 647.4h0M445.1 654.6h0M449.6 648.9h0M448.8 660h0M444.9 651h0M445.8 654.3h0M450.1 649.1h0M448.8 646.9h0M443.4 652.2h0M451.4 648.5h0M446 643.8h0M452.7 645.7h0M444.9 648.9h0M450.3 649.7h0M447.3 649.6h0M449.4 649.4h0M447.7 649.3h0M444.5 653.8h0M445.6 645.3h0M446.2 649.6h0M449.4 644.8h0M444.1 650.1h0M448.3 646h0M444.5 650.1h0M446.9 644.3h0M445.1 654.3h0M444.7 652.9h0M443.5 654.3h0M451.3 647.5h0M445.6 651.5h0M444.2 651.3h0M450.3 650.3h0M448.1 649h0M449.8 646.9h0M451.3 649.4h0M446.5 644.3h0M446.2 650.3h0" stroke="#000" stroke-width="1" stroke-linecap="round" fill="none"/>
</g>
<g filter="url(#bl)">
<ellipse cx="447.6" cy="660.2" rx="5.1" ry="3.91" fill="#000"/>
<path d="M450.8 657.1h0M447.3 658.9h0M444.6 660.2h0M445.7 661.9h0M440.8 661.6h0M442.8 656.4h0M448.9 659.5h0M447.9 658.3h0M444.9 658.8h0M447.5 658.6h0M446.5 658.5h0M448.2 658h0M442.3 655.1h0M447.6 660.4h0M450 658.8h0M444.7 657.3h0M449.5 659h0M450.1 660h0M446.9 656.6h0M445.9 661.7h0M446.1 661.5h0M443.4 662.2h0M454.6 662.4h0M448.4 657.8h0M446.3 658.9h0M448.1 656.3h0M445.4 661.7h0M448 661.6h0M449.8 658h0M444.2 661.1h0M447.7 660.4h0M445.5 662.2h0M448.9 662.4h0M446.7 661.5h0M447.5 658.4h0M447.4 657h0M447.1 660.5h0M449.4 658.2h0M444.2 658.8h0M442.4 658.9h0M454.2 660.5h0M445.7 658.9h0M452.1 657.9h0M447.3 660h0M445.7 658.8h0M443.4 658.6h0M450.9 662.9h0M446.9 661.6h0M448.8 660.4h0M447.3 662.6h0M449 659.8h0M447 662h0M446.1 658.8h0M446.9 659.2h0M450.8 660.9h0M447.4 659.2h0M451.2 661.1h0M452.9 662h0M447.1 659.1h0M446.9 660.6h0M449.6 661.1h0M451.6 657.3h0M447.7 657.4h0M445 659h0M446 658.3h0M443.8 662.4h0M446.8 662.1h0M444.8 655.7h0M446.1 661.9h0M446.2 661h0M444.9 662.9h0M448.7 662.2h0M446.9 662.7h0M447.8 659.3h0M446 660.3h0M445.3 657.9h0M447.9 661.6h0M446.9 661.8h0M451.6 657.7h0M448.2 658.3h0M446 660.5h0M441.6 661.4h0M449.7 661.2h0M449.2 663.7h0M446.7 662.3h0M451.3 661.2h0M443.1 659.9h0M446.9 657.1h0M447.4 661.7h0M446.9 659.8h0M451.3 659h0M445.2 660.3h0M450.4 661.3h0M447.8 659.2h0M450.7 661.9h0M443.2 660.8h0M441.5 663.1h0M449.1 659h0M444.3 659.6h0M443.2 661.3h0M446.3 656.8h0M447.5 662.5h0M444.4 659.5h0M452.2 660.6h0M446.2 660.6h0M449.6 658.3h0M447.3 657h0M443.6 657.2h0M449.7 660.8h0M449.4 662.6h0M447.7 660.7h0M448.6 661.1h0M444.9 659.7h0M447.2 660.3h0M445.7 659.9h0M448.3 660.6h0M449.1 661.8h0M449 662.1h0M449.7 662.9h0M449.2 659h0M453.5 662.4h0M450.8 661.6h0M447.7 658h0M448.7 659.5h0M446.6 656.1h0M451.5 657.9h0M444.8 661.1h0M449 658.7h0M447.6 660.7h0M448 661.2h0M449.6 659.5h0M443.5 664.4h0M446.6 658.3h0M449.5 661.3h0M446 664.8h0M441.7 662.7h0M447.5 660.8h0M448.4 659.7h0M448.4 657.7h0M446.6 663.8h0M441.1 662.6h0M442 658.5h0M449.8 659.4h0M446.1 657.3h0M447.3 659.9h0M446 657.2h0M448 661h0M450.5 661.2h0M451.4 662.5h0M440.5 663.4h0M447.3 658.2h0M448.7 662.1h0M443.7 657.8h0M449.3 659.1h0M451.3 660.6h0M446.2 657.6h0M449.1 656.9h0M444.3 657.7h0M451.9 663.5h0M447 659.5h0" stroke="#000" stroke-width="1" stroke-linecap="round" fill="none"/>
</g>
<g filter="url(#bl)">
<path d="M449.6 658.7h0M444.8 660.9h0M446.7 658.5h0M439.8 655.9h0M445.2 660.4h0M446.7 653.2h0M453.7 654.5h0M447.4 653.2h0M449.6 656.4h0M446.5 655.1h0M445.6 654.4h0M442.9 658.7h0M450.3 652.9h0M443.7 656.9h0M454.7 655.5h0M446.4 655.4h0M448.2 655.6h0M450.9 658.2h0M449.2 659.5h0M446.7 654.8h0M457 651.7h0M442.4 650.8h0M448.5 653.6h0M450.8 651.4h0M447 655.1h0M443.9 658.5h0M446.1 657h0M445.7 656.3h0M446 656.2h0M447.1 654.5h0M448.8 655.6h0M444.3 653.7h0M448.8 658.9h0M443.2 655.1h0M448.8 658.3h0M449.7 653.4h0M447.5 658h0M448.2 655.5h0M443.6 656.4h0M447.2 656.1h0M452.2 658.6h0M444.8 656.5h0M446.4 656.2h0M452.6 658h0M447.5 654.5h0M446.9 656.8h0M445.8 658.4h0M447.5 653.4h0M454 649.6h0M446.5 655.7h0M450.6 658.5h0M452.1 659.4h0M448.4 656.2h0M450.7 655.9h0M443.3 655h0M449.5 657.3h0M443.8 658.6h0M448.4 652.7h0M448.9 658.2h0M449.1 655.3h0M444.8 658.5h0M448.1 656h0M446.1 653.7h0M441.4 655.2h0M451 657.7h0M445.2 659.4h0M446.7 653.8h0M450.5 659.1h0M446.1 653.3h0M447.2 650.6h0M447.6 659.4h0M448.3 654.4h0M449.7 654.9h0M451.5 655.2h0M454 655.2h0M448 653.9h0M443.3 656.8h0M448.5 653.9h0M449.2 655.1h0M445.6 655.8h0" stroke="#111" stroke-width="1" stroke-linecap="round" fill="none"/>
</g>
<rect x="473.3" y="637.2" width="3.4" height="1.6" fill="#a8a8a8"/>
<rect x="477.3" y="649.2" width="3.4" height="1.6" fill="#a8a8a8"/>
<rect x="474.3" y="664.2" width="3.4" height="1.6" fill="#a8a8a8"/>
<line x1="437.5" y1="685.4" x2="503.8" y2="685.4" stroke="#999" stroke-width="1.4"/>
<line x1="438" y1="685.4" x2="438" y2="728.8" stroke="#c4c4c4" stroke-width="0.8"/>
<line x1="438" y1="728.8" x2="503.8" y2="728.8" stroke="#d0d0d0" stroke-width="0.8"/>
<polyline points="439,695.2 456.9,695.2" fill="none" stroke="#888888" stroke-width="0.9"/>
<polyline points="456.9,690.3 456.9,711 439,711" fill="none" stroke="#888888" stroke-width="0.9"/>
<polyline points="456.9,700.8 488.5,700.8" fill="none" stroke="#888888" stroke-width="0.9"/>
<polyline points="488.5,690.3 488.5,728.8" fill="none" stroke="#888888" stroke-width="0.9"/>
<polyline points="461.5,728.8 461.5,714.2 488.5,714.2" fill="none" stroke="#888888" stroke-width="0.9"/>
<line x1="435.5" y1="689.4" x2="437.3" y2="689.4" stroke="#888" stroke-width="0.8"/>
<rect x="432.9" y="686.8" width="1.3" height="2.6" fill="#a0a0a0"/>
<line x1="435.5" y1="698.25" x2="437.3" y2="698.25" stroke="#888" stroke-width="0.8"/>
<rect x="432.9" y="695.65" width="1.3" height="2.6" fill="#a0a0a0"/>
<line x1="435.5" y1="707.1" x2="437.3" y2="707.1" stroke="#888" stroke-width="0.8"/>
<rect x="432.9" y="704.5" width="1.3" height="2.6" fill="#a0a0a0"/>
<line x1="435.5" y1="715.95" x2="437.3" y2="715.95" stroke="#888" stroke-width="0.8"/>
<rect x="432.9" y="713.35" width="1.3" height="2.6" fill="#a0a0a0"/>
<line x1="435.5" y1="724.8" x2="437.3" y2="724.8" stroke="#888" stroke-width="0.8"/>
<rect x="432.9" y="722.2" width="1.3" height="2.6" fill="#a0a0a0"/>
<rect x="444.06" y="731.8" width="2.8" height="1.4" fill="#999"/>
<line x1="445.46" y1="728.8" x2="445.46" y2="730.3" stroke="#999" stroke-width="0.6"/>
<rect x="462.62" y="731.8" width="2.8" height="1.4" fill="#999"/>
<line x1="464.02" y1="728.8" x2="464.02" y2="730.3" stroke="#999" stroke-width="0.6"/>
<rect x="479.86" y="731.8" width="2.8" height="1.4" fill="#999"/>
<line x1="481.26" y1="728.8" x2="481.26" y2="730.3" stroke="#999" stroke-width="0.6"/>
<rect x="495.77" y="731.8" width="2.8" height="1.4" fill="#999"/>
<line x1="497.17" y1="728.8" x2="497.17" y2="730.3" stroke="#999" stroke-width="0.6"/>
<path d="M442.6 729.9h0M440.4 730.2h0M450.6 730h0M453.8 730.1h0M451.7 729.7h0M445.4 729.6h0M442.4 730.4h0M441.9 730.2h0M446.3 730.3h0M455.1 730.4h0M456.8 730.6h0M446.6 730.6h0M453.1 729.9h0M445.4 730.1h0M454.6 729.7h0M455.4 730.3h0" stroke="#888" stroke-width="0.9" stroke-linecap="round" fill="none"/>
<path d="M483.7 730h0M474.3 730h0M489.2 730h0M489.1 730.5h0M461.3 729.6h0M499.2 729.8h0M493.5 730h0M467.4 729.6h0M476.4 730.2h0M459.8 729.6h0M470.2 730.5h0M490.7 729.9h0M475.3 730h0M488.9 729.9h0M473.2 730.1h0M467.9 730h0" stroke="#bbb" stroke-width="0.8" stroke-linecap="round" fill="none"/>
<g filter="url(#bl)">
<ellipse cx="447.7" cy="721" rx="2.72" ry="2.08" fill="#333"/>
<path d="M447.7 719.3h0M449.3 721.5h0M446.5 720.6h0M445.9 722.2h0M446.9 721.7h0M448.2 720.6h0M448.4 720.6h0M445.5 720.4h0M445.5 722.1h0M448.9 720.2h0M448.9 721.3h0M449.5 719.7h0M447.7 719.6h0M446.4 722.9h0M444 719.7h0M448.6 722.1h0M446.2 718.1h0M444.5 721.5h0M449.7 722.3h0M446.3 722.9h0M447.3 721.9h0M447.3 723.3h0M446.7 718h0M447.1 721.3h0M448.2 720h0M447.3 719.4h0M447.3 721.1h0M448.1 723.3h0M444 721.7h0M448.5 719.4h0M447.8 721h0M445.8 722h0M451.2 722h0M449.1 722.5h0M447.5 722.4h0M446.2 721.3h0M449 722.9h0M447.2 720.6h0M448.6 720.9h0M448 722.1h0M446.3 722.2h0M448.4 720.6h0M445.4 720.1h0M447.6 722.3h0M444.1 722h0M448.1 719.4h0M449.3 721.6h0M448.5 719.6h0M445.7 722.3h0M450.3 721.5h0" stroke="#333" stroke-width="1" stroke-linecap="round" fill="none"/>
</g>
<path d="M450.6 701h0M446.8 707.7h0M444.7 704.8h0M445.8 705h0M446.5 703.1h0M453.9 706.2h0M455 703h0M447.5 703.3h0" stroke="#999" stroke-width="0.8" stroke-linecap="round" fill="none"/>
<rect x="446.3" y="702.2" width="3.4" height="1.6" fill="#a8a8a8"/>
<rect x="472.3" y="693.2" width="3.4" height="1.6" fill="#a8a8a8"/>
<rect x="476.3" y="705.2" width="3.4" height="1.6" fill="#a8a8a8"/>
<rect x="474.3" y="719.2" width="3.4" height="1.6" fill="#a8a8a8"/>
<text x="357.1" y="550.3" font-size="9.4" stroke="#1c1c1c" stroke-width="0.35" font-weight="bold" textLength="51" lengthAdjust="spacingAndGlyphs" fill="#1c1c1c">no survivors</text></svg>
</body></html>
